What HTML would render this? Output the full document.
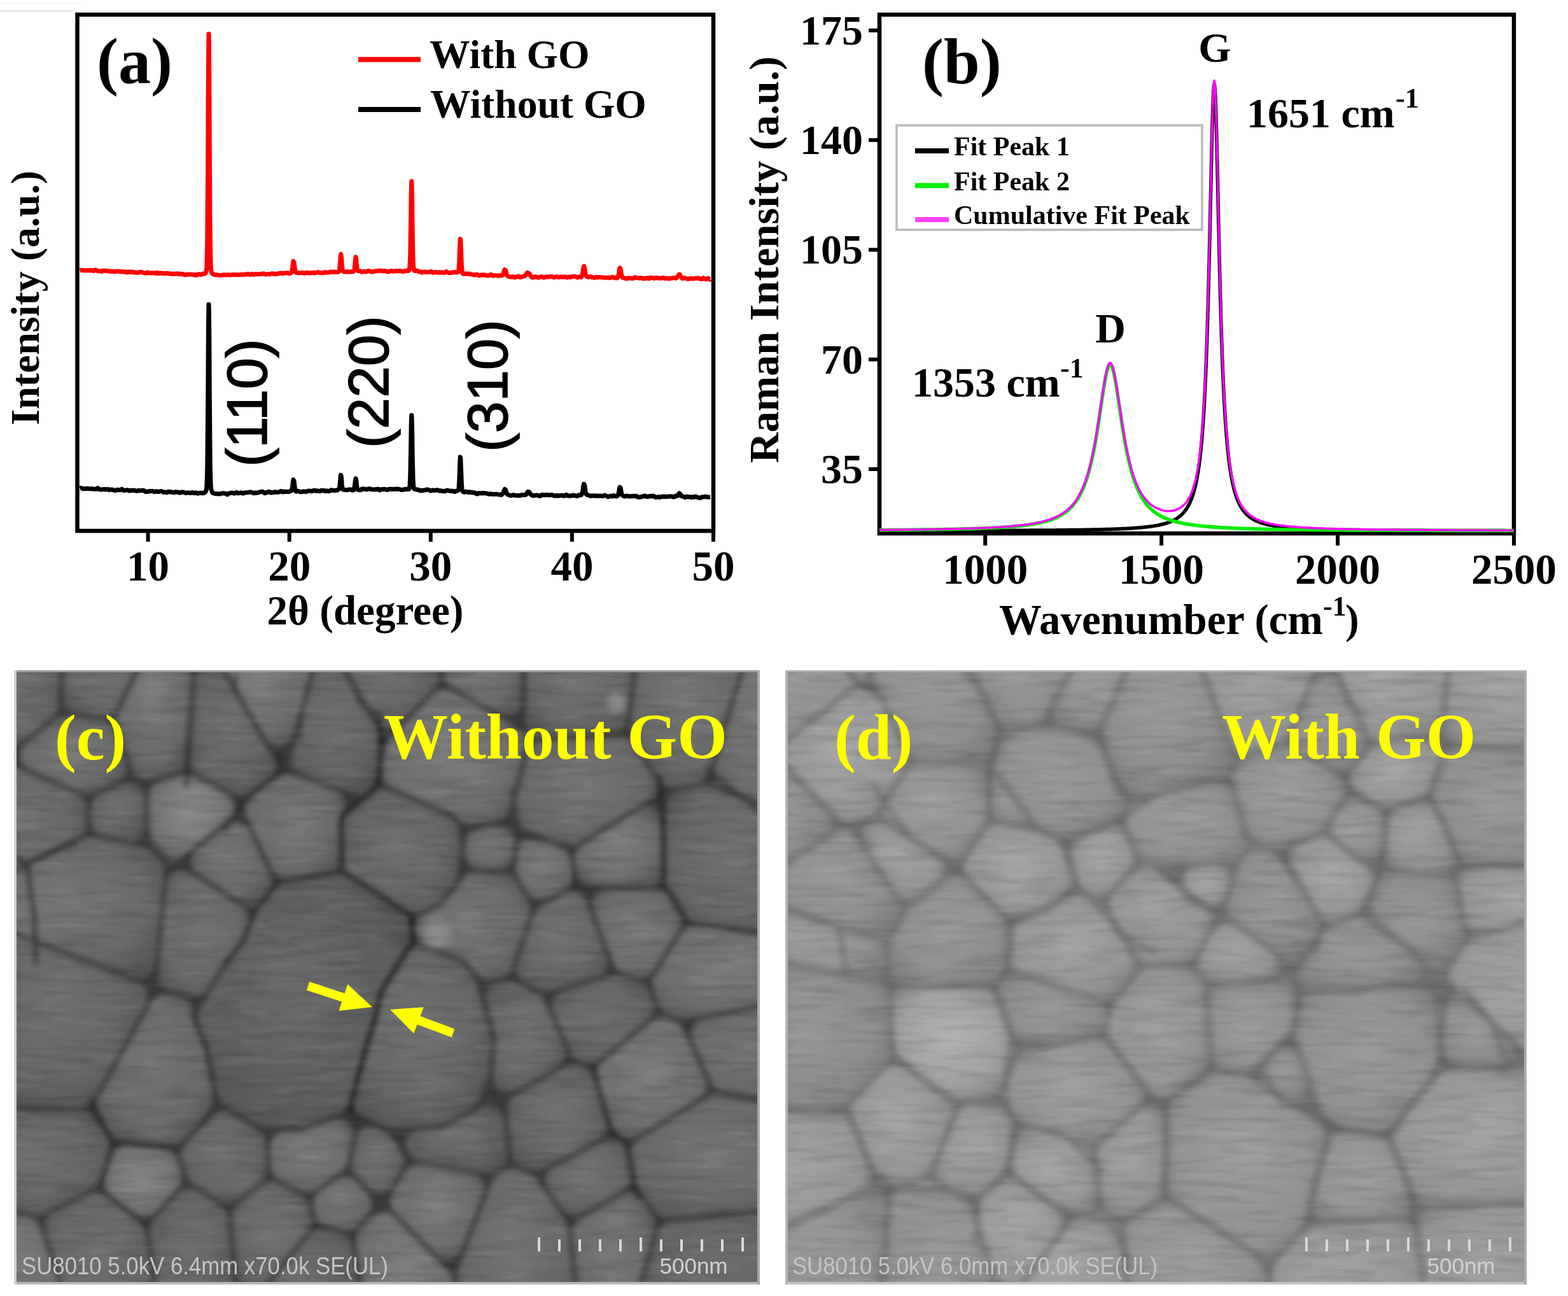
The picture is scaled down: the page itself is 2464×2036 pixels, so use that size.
<!DOCTYPE html><html><head><meta charset="utf-8"><style>html,body{margin:0;padding:0;background:#fff;overflow:hidden;width:2464px;height:2036px}svg{display:block}</style></head><body>
<svg xmlns="http://www.w3.org/2000/svg" width="2464" height="2036" viewBox="0 0 2464 2036">
<rect width="2464" height="2036" fill="#fff"/>
<rect x="0" y="16" width="114" height="3" fill="#e6e6e6"/><rect x="0" y="4" width="130" height="2" fill="#f4f4f4"/>
<g fill="none" stroke-linejoin="round">
<path d="M125.5,424.6 L127.5,424.3 L129.5,424.4 L131.5,424.6 L133.5,425.0 L135.5,424.9 L137.5,424.6 L139.5,424.8 L141.5,425.0 L143.5,424.5 L145.5,424.9 L146.8,425.5 L148.8,424.8 L149.5,424.0 L151.5,424.5 L152.5,425.2 L154.0,425.8 L156.0,425.8 L158.0,426.0 L159.2,426.6 L160.5,425.9 L161.5,425.2 L163.5,425.3 L165.5,425.3 L167.5,425.4 L169.5,425.7 L171.5,426.0 L173.5,426.5 L175.5,426.4 L177.5,426.2 L178.5,426.8 L180.5,426.7 L182.5,426.4 L184.5,426.1 L186.5,426.5 L188.5,426.2 L190.5,426.9 L192.5,426.8 L194.5,427.0 L196.5,427.2 L198.5,427.3 L199.5,427.9 L201.2,427.2 L203.2,426.7 L204.5,427.5 L206.5,427.3 L207.5,426.7 L209.0,427.4 L210.5,428.0 L212.5,427.7 L214.2,428.4 L216.2,428.3 L218.2,428.2 L219.5,427.6 L221.5,427.4 L223.5,427.9 L225.5,428.5 L227.5,428.9 L229.5,429.2 L230.8,428.5 L231.5,427.9 L233.0,428.5 L235.0,428.8 L237.0,428.8 L239.0,429.1 L241.0,428.8 L243.0,428.8 L244.5,429.5 L246.0,428.9 L247.0,428.2 L248.2,429.1 L249.0,429.8 L251.0,429.1 L253.0,429.1 L255.0,429.2 L257.0,429.6 L259.0,429.5 L261.0,429.2 L263.0,429.3 L265.0,429.4 L266.5,430.1 L268.5,430.2 L270.5,430.1 L272.5,430.4 L274.5,430.3 L276.5,430.1 L278.5,429.7 L279.2,430.4 L281.2,430.7 L282.2,429.9 L284.2,430.2 L285.5,431.0 L287.5,430.6 L289.2,431.3 L290.5,432.0 L292.5,431.5 L293.5,430.9 L295.5,431.1 L297.5,431.3 L299.5,431.0 L301.5,431.0 L303.5,431.6 L305.5,432.1 L306.5,431.3 L307.2,432.0 L309.2,432.4 L310.0,431.7 L310.5,431.1 L312.5,430.7 L314.5,430.8 L315.2,431.5 L317.2,431.3 L318.2,430.7 L319.0,430.0 L321.0,430.2 L322.8,429.4 L323.2,428.4 L323.5,427.7 L324.0,426.5 L324.2,425.4 L324.5,423.6 L324.8,420.6 L325.0,415.8 L325.2,408.1 L325.5,396.4 L325.8,379.2 L326.0,355.3 L326.2,324.0 L326.5,285.0 L326.8,239.7 L327.0,190.7 L327.2,142.1 L327.5,99.3 L327.8,68.0 L328.0,53.2 L328.2,57.9 L328.5,80.9 L328.8,118.5 L329.0,164.9 L329.2,214.3 L329.5,261.9 L329.8,304.1 L330.0,339.3 L330.2,366.8 L330.5,387.1 L330.8,401.7 L331.0,411.6 L331.2,418.1 L331.5,422.3 L331.8,424.7 L332.0,426.2 L332.2,427.2 L332.5,427.8 L332.8,428.5 L333.2,429.4 L334.0,430.1 L335.2,430.9 L337.2,431.4 L339.2,431.6 L341.2,431.7 L343.2,432.1 L345.2,432.5 L347.2,432.5 L349.2,431.9 L351.2,431.8 L353.2,431.8 L355.2,432.1 L357.2,431.8 L359.2,431.7 L361.2,432.0 L363.2,431.7 L365.2,431.6 L367.2,431.6 L369.2,431.8 L371.2,431.4 L373.2,431.8 L375.2,431.7 L377.2,431.5 L379.2,431.5 L381.2,431.2 L383.2,431.6 L385.2,431.3 L387.2,430.7 L389.2,430.5 L391.2,430.8 L392.5,431.5 L394.5,431.0 L396.2,430.3 L397.2,431.1 L399.2,431.4 L400.5,430.8 L402.5,430.6 L404.5,430.8 L406.5,430.8 L408.5,430.5 L410.5,430.6 L412.5,430.0 L414.5,429.7 L415.5,430.5 L417.5,431.1 L419.5,430.8 L421.5,430.4 L423.5,431.0 L424.8,430.4 L426.8,429.8 L428.8,429.8 L430.5,430.5 L432.5,430.6 L434.5,430.3 L436.5,430.0 L438.2,429.4 L440.2,429.2 L442.2,428.8 L443.5,429.6 L445.5,429.8 L446.5,429.0 L448.5,429.0 L450.5,428.7 L452.5,428.8 L453.8,429.5 L455.8,429.8 L457.0,429.0 L457.5,428.3 L458.2,427.4 L458.5,426.8 L458.8,425.8 L459.0,424.6 L459.2,423.1 L459.5,421.2 L459.8,419.4 L460.0,417.3 L460.2,415.3 L460.5,413.3 L460.8,411.6 L461.0,410.4 L462.0,412.0 L462.2,413.7 L462.5,415.7 L462.8,417.9 L463.0,420.0 L463.2,421.9 L463.5,423.6 L463.8,424.7 L464.0,425.6 L464.5,426.5 L464.8,427.2 L465.2,428.2 L467.2,428.4 L469.2,428.8 L471.2,428.9 L473.2,428.6 L475.2,428.6 L477.2,428.6 L478.2,429.2 L480.2,429.1 L481.5,428.5 L483.5,428.3 L485.0,428.9 L487.0,428.7 L489.0,428.5 L491.0,428.8 L493.0,428.3 L494.2,429.1 L496.0,428.4 L498.0,428.0 L500.0,427.6 L501.5,428.2 L503.5,428.4 L505.5,428.7 L507.5,428.8 L508.2,428.2 L510.2,427.6 L511.8,428.2 L513.8,428.1 L515.8,428.0 L517.8,427.7 L519.2,427.0 L521.2,427.1 L523.2,427.5 L525.2,427.0 L527.2,427.4 L529.2,427.4 L531.2,427.4 L532.8,426.6 L533.0,425.8 L533.2,424.7 L533.5,423.1 L533.8,421.0 L534.0,418.4 L534.2,415.3 L534.5,411.7 L534.8,408.2 L535.0,404.8 L535.2,401.9 L535.5,400.0 L535.8,399.3 L536.0,400.1 L536.2,402.1 L536.5,404.9 L536.8,408.5 L537.0,412.1 L537.2,415.6 L537.5,418.6 L537.8,420.8 L538.0,422.4 L538.2,423.6 L538.5,424.3 L538.8,425.1 L539.2,426.1 L540.0,426.7 L542.0,427.2 L544.0,427.1 L546.0,426.8 L548.0,427.0 L550.0,427.0 L552.0,426.8 L554.0,426.9 L556.0,426.3 L556.5,425.3 L556.8,424.1 L557.0,422.6 L557.2,420.5 L557.5,418.1 L557.8,415.3 L558.0,412.4 L558.2,409.5 L558.5,406.9 L558.8,404.8 L559.0,403.8 L559.5,405.1 L559.8,407.4 L560.0,410.2 L560.2,413.3 L560.5,416.2 L560.8,418.7 L561.0,420.9 L561.2,422.6 L561.5,423.8 L561.8,424.6 L562.2,425.5 L564.2,425.3 L566.2,426.0 L567.2,426.7 L568.5,427.4 L570.2,426.6 L572.2,426.3 L573.2,427.0 L575.2,427.1 L576.2,426.5 L577.5,425.8 L579.5,425.5 L581.0,426.2 L583.0,426.8 L585.0,426.9 L587.0,426.8 L589.0,426.2 L591.0,425.7 L593.0,425.5 L595.0,425.6 L597.0,425.1 L599.0,425.2 L600.5,425.8 L602.5,425.9 L604.5,425.5 L606.5,426.1 L608.2,426.8 L610.2,426.8 L612.2,426.5 L613.8,425.7 L615.8,425.4 L616.8,426.0 L618.8,426.3 L620.8,425.9 L622.8,425.5 L624.8,425.8 L626.8,425.9 L628.2,425.2 L630.0,425.8 L631.5,426.4 L633.5,426.6 L634.5,426.0 L636.5,426.0 L638.5,425.8 L639.5,425.0 L641.5,425.6 L642.8,424.7 L643.0,424.1 L643.2,423.2 L643.5,421.8 L643.8,419.9 L644.0,417.0 L644.2,412.5 L644.5,405.9 L644.8,396.8 L645.0,384.8 L645.2,370.0 L645.5,352.9 L645.8,334.6 L646.0,316.5 L646.2,300.8 L646.5,289.6 L646.8,284.8 L647.0,287.3 L647.2,296.5 L647.5,310.9 L647.8,328.5 L648.0,347.1 L648.2,364.9 L648.5,380.7 L648.8,393.7 L649.0,403.9 L649.2,411.4 L649.5,416.7 L649.8,420.1 L650.0,422.2 L650.2,423.5 L650.5,424.3 L651.0,425.1 L652.5,425.7 L654.0,425.0 L656.0,425.4 L657.0,426.1 L658.2,426.7 L660.2,426.7 L661.8,427.5 L662.5,428.1 L664.5,427.7 L666.5,427.1 L668.5,427.0 L669.5,427.8 L671.5,427.4 L673.5,427.4 L675.5,427.2 L676.5,426.5 L678.5,427.0 L679.5,427.7 L680.5,428.5 L682.5,427.9 L684.5,427.4 L686.5,428.0 L688.5,428.2 L690.5,427.5 L691.5,428.3 L693.5,427.8 L695.5,428.0 L696.2,428.6 L698.2,428.6 L699.2,427.8 L700.0,427.2 L701.2,426.5 L702.8,427.3 L703.8,428.0 L705.8,428.6 L707.8,428.6 L709.8,428.5 L711.5,427.8 L713.5,427.6 L715.5,427.7 L717.5,428.1 L719.0,427.5 L720.0,426.8 L720.5,425.5 L720.8,424.3 L721.0,422.4 L721.2,419.6 L721.5,415.8 L721.8,410.7 L722.0,404.6 L722.2,397.8 L722.5,390.8 L722.8,384.1 L723.0,378.7 L723.2,375.4 L723.8,376.9 L724.0,381.4 L724.2,387.5 L724.5,394.4 L724.8,401.5 L725.0,408.0 L725.2,413.6 L725.5,418.1 L725.8,421.8 L726.0,424.6 L726.2,426.6 L726.5,428.0 L726.8,428.8 L727.2,429.7 L728.8,430.4 L730.8,430.5 L732.2,429.8 L734.2,430.1 L736.2,430.7 L737.2,429.9 L739.2,430.5 L740.8,431.1 L742.8,431.4 L744.5,432.0 L746.5,431.9 L747.5,431.2 L749.5,431.1 L751.0,431.9 L751.5,432.5 L753.2,433.1 L754.2,432.5 L756.2,431.9 L758.2,431.7 L760.2,432.1 L762.2,432.1 L764.2,432.8 L766.2,433.0 L768.2,433.0 L769.8,432.3 L770.5,431.6 L772.5,431.7 L773.2,432.5 L774.2,433.2 L776.2,433.0 L778.2,432.8 L780.2,432.8 L782.2,433.3 L784.2,433.3 L785.2,432.6 L787.2,433.1 L789.2,432.5 L790.2,431.7 L790.8,430.8 L791.0,430.1 L791.2,429.4 L791.5,428.6 L791.8,427.7 L792.0,426.8 L792.2,425.9 L792.5,425.1 L792.8,424.2 L793.0,423.5 L794.5,424.6 L794.8,425.6 L795.0,426.6 L795.2,427.6 L795.5,428.5 L795.8,429.5 L796.0,430.3 L796.2,431.0 L796.5,431.6 L797.0,432.7 L797.5,433.5 L798.5,434.2 L800.0,434.9 L802.0,434.9 L804.0,434.9 L806.0,434.8 L808.0,435.2 L809.5,436.0 L810.5,435.3 L812.5,434.9 L813.5,434.2 L815.5,434.1 L816.2,434.9 L817.0,435.5 L819.0,435.4 L820.8,434.8 L822.0,434.1 L824.0,433.7 L826.0,432.7 L826.5,431.7 L827.0,430.8 L827.5,429.8 L828.0,429.1 L828.5,428.3 L830.5,429.0 L831.2,429.6 L832.0,430.2 L832.8,431.2 L833.2,432.3 L833.8,433.1 L834.5,433.7 L835.0,434.7 L835.5,435.6 L837.5,436.2 L838.5,435.5 L840.0,434.8 L842.0,434.8 L843.8,435.5 L845.2,436.1 L847.2,435.9 L848.2,435.3 L850.0,434.7 L852.0,434.7 L853.2,435.4 L854.2,436.1 L856.2,435.8 L857.5,435.1 L859.5,434.8 L861.5,435.1 L863.5,434.5 L865.5,434.4 L867.5,434.5 L868.8,435.1 L870.0,435.8 L872.0,435.6 L873.2,434.9 L875.2,434.8 L876.5,435.4 L878.5,435.6 L880.5,435.0 L882.5,434.9 L884.5,435.2 L886.5,435.1 L888.5,434.8 L890.5,435.4 L891.2,436.0 L893.0,435.3 L895.0,435.1 L896.5,435.7 L897.2,435.1 L898.8,434.5 L900.8,434.5 L902.8,434.3 L904.8,434.7 L906.0,435.4 L907.5,436.1 L908.5,435.3 L910.0,434.7 L912.0,435.0 L913.2,435.6 L914.0,434.9 L914.5,433.6 L914.8,432.9 L915.0,432.0 L915.2,430.9 L915.5,429.7 L915.8,428.1 L916.0,426.3 L916.2,424.5 L916.5,422.6 L916.8,421.1 L917.0,419.8 L917.2,418.9 L917.8,418.2 L918.2,419.5 L918.5,420.8 L918.8,422.2 L919.0,423.8 L919.2,425.5 L919.5,427.2 L919.8,428.6 L920.0,429.9 L920.2,431.0 L920.5,431.9 L920.8,432.5 L921.2,433.1 L922.0,434.1 L922.8,434.8 L924.0,435.5 L926.0,434.9 L927.2,434.3 L929.0,435.0 L929.8,435.7 L931.8,435.6 L933.5,436.2 L935.5,436.0 L936.5,435.2 L938.5,435.8 L940.5,435.5 L942.5,435.4 L944.5,435.6 L946.5,435.9 L948.5,436.0 L950.5,436.2 L952.5,436.3 L954.5,436.2 L956.5,435.9 L958.0,436.6 L960.0,436.0 L961.5,435.4 L963.5,435.8 L965.5,436.2 L967.5,436.8 L969.5,436.9 L970.8,436.0 L971.2,434.8 L971.5,434.0 L971.8,433.1 L972.0,432.1 L972.2,430.8 L972.5,429.4 L972.8,427.8 L973.0,426.0 L973.2,424.3 L973.5,422.7 L973.8,421.6 L974.0,420.9 L975.0,421.8 L975.2,422.9 L975.5,424.3 L975.8,426.0 L976.0,427.7 L976.2,429.4 L976.5,430.9 L976.8,432.3 L977.0,433.4 L977.2,434.4 L977.5,435.2 L978.0,436.0 L980.0,436.4 L982.0,437.1 L984.0,437.6 L986.0,437.6 L987.2,436.8 L989.2,437.1 L991.2,436.9 L993.2,437.4 L995.2,437.3 L996.2,436.5 L997.2,435.7 L999.2,436.3 L1001.2,436.6 L1003.2,436.9 L1005.2,436.7 L1007.2,436.6 L1009.2,437.1 L1010.5,437.7 L1012.5,437.3 L1014.5,437.4 L1016.5,436.7 L1018.5,437.3 L1020.5,437.7 L1021.0,437.0 L1021.5,436.3 L1023.5,436.1 L1025.5,436.4 L1027.5,437.2 L1029.5,437.1 L1031.0,436.3 L1033.0,436.6 L1035.0,437.2 L1037.0,437.1 L1039.0,436.7 L1041.0,436.9 L1042.5,436.2 L1043.2,436.9 L1045.2,437.4 L1047.2,437.1 L1049.2,437.2 L1050.8,437.8 L1052.8,437.6 L1054.5,437.0 L1056.5,437.0 L1058.5,436.6 L1060.5,436.5 L1062.2,437.1 L1063.2,436.3 L1064.0,435.6 L1064.8,434.6 L1065.2,433.8 L1065.8,433.0 L1066.2,432.3 L1066.8,431.7 L1067.5,431.0 L1068.5,431.6 L1069.0,432.5 L1069.5,433.6 L1070.0,434.5 L1070.5,435.3 L1071.0,436.0 L1071.5,436.6 L1072.2,437.4 L1074.2,437.1 L1075.5,436.4 L1077.5,437.2 L1079.2,437.8 L1081.2,438.3 L1083.2,438.1 L1084.5,437.4 L1086.5,437.4 L1088.5,437.9 L1090.5,437.6 L1092.5,437.3 L1094.5,437.1 L1096.5,437.1 L1098.5,437.3 L1099.5,438.0 L1101.5,438.4 L1103.5,438.3 L1104.8,437.6 L1105.5,436.8 L1106.5,437.6 L1108.0,438.3 L1110.0,438.6 L1111.5,437.9 L1112.5,437.2 L1113.2,437.8 L1114.2,438.5 L1115.5,439.2 L1116.2,438.6" stroke="#ff0000" stroke-width="7"/>
<path d="M125.5,767.1 L127.2,766.4 L128.5,767.0 L129.8,767.7 L131.8,767.9 L133.8,767.7 L135.8,767.7 L137.8,767.3 L139.8,767.8 L141.8,767.9 L143.8,767.6 L145.8,768.2 L147.8,768.3 L149.8,768.4 L151.8,768.5 L152.8,767.6 L153.5,766.7 L154.2,767.4 L155.2,768.1 L156.0,768.7 L158.0,769.2 L160.0,768.9 L162.0,768.8 L164.0,768.5 L165.2,769.1 L167.2,769.0 L168.2,768.4 L170.2,769.0 L171.5,769.8 L172.2,769.1 L174.2,769.3 L176.2,769.3 L178.2,769.7 L180.0,770.4 L182.0,770.5 L183.0,769.8 L185.0,769.5 L187.0,769.7 L189.0,769.8 L190.8,769.0 L191.5,768.3 L192.5,769.0 L193.8,770.0 L194.2,770.6 L196.2,770.4 L198.2,770.1 L200.2,769.7 L201.8,770.4 L203.0,771.0 L205.0,770.5 L207.0,770.6 L209.0,770.5 L211.0,770.3 L212.5,770.9 L214.5,771.4 L216.5,771.3 L217.5,770.5 L219.5,770.7 L221.5,770.8 L223.5,770.5 L225.5,770.4 L226.8,771.1 L227.5,771.8 L229.0,772.5 L231.0,772.5 L233.0,772.0 L235.0,771.8 L237.0,771.4 L239.0,771.5 L241.0,772.0 L243.0,772.7 L244.8,772.1 L246.8,772.0 L248.2,772.6 L250.2,772.3 L252.2,771.7 L254.2,771.8 L255.5,772.5 L256.5,773.2 L258.5,773.0 L260.5,773.5 L262.5,773.7 L263.2,772.9 L265.2,772.4 L267.2,773.0 L269.2,772.8 L271.2,773.4 L273.2,773.9 L274.5,773.1 L276.5,772.8 L278.5,773.0 L280.5,773.5 L282.5,774.2 L284.5,773.4 L286.5,773.0 L288.5,773.3 L290.5,774.0 L292.5,774.5 L294.5,774.1 L296.5,774.0 L298.5,774.4 L300.5,774.2 L302.2,773.5 L303.2,774.1 L305.2,774.7 L306.5,774.1 L308.5,774.2 L309.2,774.8 L311.2,775.2 L313.0,774.5 L315.0,774.2 L316.5,774.8 L318.5,774.2 L320.2,774.8 L321.2,774.1 L322.0,773.5 L322.8,772.7 L323.2,771.8 L323.8,771.0 L324.2,769.6 L324.5,768.2 L324.8,765.6 L325.0,761.5 L325.2,755.3 L325.5,745.8 L325.8,732.6 L326.0,714.1 L326.2,689.7 L326.5,659.4 L326.8,623.8 L327.0,585.4 L327.2,547.3 L327.5,513.7 L327.8,489.5 L328.0,478.3 L328.2,482.2 L328.5,500.6 L328.8,530.0 L329.0,566.2 L329.2,604.8 L329.5,642.1 L329.8,675.2 L330.0,702.9 L330.2,724.5 L330.5,740.4 L330.8,751.5 L331.0,758.8 L331.2,763.4 L331.5,766.3 L331.8,768.2 L332.0,769.4 L332.2,770.1 L332.8,771.4 L333.0,772.0 L333.5,773.0 L334.0,773.8 L334.5,774.5 L335.5,775.1 L337.5,775.3 L339.5,775.8 L341.5,775.6 L343.5,775.9 L345.5,776.0 L347.2,775.2 L349.2,775.1 L351.2,775.0 L353.2,774.9 L355.0,775.6 L356.0,776.3 L357.0,777.0 L358.2,776.4 L359.2,775.7 L360.0,775.0 L362.0,774.4 L364.0,774.1 L366.0,774.5 L367.2,775.1 L369.2,775.1 L370.8,774.3 L371.5,773.6 L373.2,774.2 L374.5,774.9 L376.5,774.5 L378.5,773.9 L380.5,774.5 L382.2,775.2 L383.2,774.5 L384.8,773.9 L386.8,774.0 L388.8,773.8 L390.8,773.6 L392.8,773.1 L394.8,773.2 L396.5,773.8 L397.5,774.5 L399.5,774.7 L401.2,774.0 L403.2,774.4 L405.2,773.9 L407.2,773.5 L408.5,772.9 L410.5,772.6 L412.5,772.3 L413.5,773.1 L414.8,773.8 L415.5,774.7 L417.5,774.6 L418.2,773.9 L420.2,773.3 L421.2,772.6 L423.2,772.5 L424.0,773.2 L424.8,773.9 L426.8,773.9 L427.5,773.3 L429.5,773.8 L431.5,773.3 L432.2,772.7 L434.2,773.2 L436.2,773.2 L438.2,773.0 L439.5,772.4 L440.5,771.8 L442.5,771.8 L443.2,772.7 L445.2,772.9 L446.5,772.2 L448.5,772.4 L450.5,772.5 L452.5,772.6 L454.5,772.4 L455.5,771.7 L457.5,771.1 L458.5,770.0 L458.8,769.2 L459.0,768.2 L459.2,766.8 L459.5,765.2 L459.8,763.1 L460.0,760.9 L460.2,758.6 L460.5,756.4 L460.8,754.8 L461.0,753.6 L462.0,755.4 L462.2,757.3 L462.5,759.4 L462.8,761.6 L463.0,763.7 L463.2,765.6 L463.5,767.3 L463.8,768.7 L464.0,769.9 L464.2,770.8 L464.5,771.6 L465.2,772.2 L467.0,771.5 L469.0,771.5 L470.2,772.4 L472.2,772.7 L474.2,772.7 L476.2,772.1 L478.2,772.1 L480.2,772.7 L482.2,772.1 L483.2,771.4 L485.2,771.1 L487.2,771.2 L489.2,771.7 L491.2,771.6 L492.2,770.8 L493.8,770.2 L495.8,770.7 L496.5,771.4 L498.5,770.8 L500.5,771.6 L502.5,771.7 L503.5,770.9 L505.5,770.5 L507.5,770.7 L509.5,770.5 L510.2,771.2 L511.5,771.8 L513.2,771.1 L515.2,771.2 L516.5,771.8 L518.2,771.2 L519.2,770.4 L520.5,769.8 L522.5,770.2 L524.5,770.7 L526.5,770.6 L528.5,770.2 L530.5,770.0 L531.2,769.3 L532.5,768.5 L533.0,767.8 L533.2,767.0 L533.5,765.9 L533.8,764.2 L534.0,762.0 L534.2,759.3 L534.5,756.3 L534.8,753.3 L535.0,750.3 L535.2,747.8 L535.5,746.2 L536.2,748.1 L536.5,750.7 L536.8,753.9 L537.0,757.2 L537.2,760.3 L537.5,763.0 L537.8,765.1 L538.0,766.6 L538.2,767.7 L538.5,768.5 L539.0,769.2 L541.0,769.4 L543.0,769.8 L545.0,769.7 L547.0,769.6 L548.5,768.9 L550.5,769.0 L552.5,769.4 L553.2,770.2 L555.2,770.1 L556.0,769.2 L556.2,768.5 L556.5,767.7 L556.8,766.8 L557.0,765.7 L557.2,764.2 L557.5,762.4 L557.8,760.3 L558.0,758.1 L558.2,755.9 L558.5,754.0 L558.8,752.5 L559.0,751.8 L559.5,753.1 L559.8,755.0 L560.0,757.4 L560.2,759.8 L560.5,762.2 L560.8,764.2 L561.0,765.8 L561.2,767.1 L561.5,768.1 L561.8,768.7 L562.2,769.3 L564.2,769.2 L565.2,770.0 L567.2,769.8 L568.0,769.0 L568.5,768.2 L570.5,768.0 L572.5,768.3 L574.5,768.4 L575.2,769.1 L577.2,768.8 L578.2,768.2 L580.2,767.8 L582.2,768.3 L584.2,768.9 L586.2,768.9 L588.2,769.0 L590.2,768.7 L592.2,768.9 L593.5,768.3 L595.5,768.7 L596.0,769.4 L596.5,770.1 L597.5,769.4 L599.2,768.7 L601.2,768.7 L603.2,768.6 L605.2,768.6 L607.2,769.2 L609.2,769.4 L610.8,768.8 L612.0,768.2 L614.0,768.3 L616.0,768.7 L618.0,768.5 L620.0,768.5 L622.0,768.5 L624.0,768.0 L625.5,768.6 L627.5,768.5 L628.8,769.1 L630.8,769.6 L632.8,769.5 L634.8,769.0 L636.8,768.5 L638.8,768.8 L640.5,768.1 L642.5,768.4 L643.2,767.4 L643.5,766.5 L643.8,764.7 L644.0,762.0 L644.2,758.0 L644.5,752.4 L644.8,744.6 L645.0,734.6 L645.2,722.2 L645.5,708.0 L645.8,692.9 L646.0,678.1 L646.2,665.3 L646.5,656.1 L646.8,652.2 L647.0,654.3 L647.2,661.9 L647.5,673.9 L647.8,688.3 L648.0,703.4 L648.2,718.0 L648.5,730.9 L648.8,741.6 L649.0,750.0 L649.2,756.3 L649.5,760.6 L649.8,763.6 L650.0,765.5 L650.2,766.7 L650.5,767.5 L651.0,768.3 L653.0,768.6 L655.0,769.2 L657.0,769.3 L658.8,770.0 L659.5,770.8 L661.5,770.7 L663.5,770.3 L665.5,770.5 L667.5,769.9 L669.5,769.7 L670.5,769.1 L672.5,769.3 L674.5,769.8 L675.8,770.5 L676.5,771.1 L678.5,770.6 L679.8,770.0 L681.8,770.4 L683.8,770.2 L685.8,769.9 L687.8,769.7 L689.0,770.4 L690.2,771.0 L692.2,770.8 L694.2,771.6 L696.2,771.6 L698.2,771.8 L700.2,771.5 L701.2,770.6 L703.2,770.3 L705.2,770.8 L707.2,771.2 L709.2,771.7 L711.2,771.3 L713.0,771.9 L714.5,772.6 L716.0,771.9 L717.0,771.2 L719.0,771.0 L720.2,770.3 L720.5,769.4 L720.8,767.9 L721.0,765.8 L721.2,762.7 L721.5,758.6 L721.8,753.5 L722.0,747.3 L722.2,740.4 L722.5,733.3 L722.8,726.6 L723.0,721.2 L723.2,718.0 L723.8,719.8 L724.0,724.6 L724.2,731.0 L724.5,738.2 L724.8,745.1 L725.0,751.6 L725.2,757.1 L725.5,761.5 L725.8,765.0 L726.0,767.6 L726.2,769.4 L726.5,770.7 L726.8,771.4 L727.2,772.0 L728.0,772.8 L730.0,773.2 L731.2,772.6 L733.2,772.5 L734.5,773.1 L736.5,773.5 L737.5,772.8 L739.2,773.5 L741.2,773.5 L743.2,774.0 L745.2,774.0 L747.2,774.4 L748.0,775.0 L748.5,775.7 L750.5,776.0 L751.2,775.3 L752.2,774.6 L754.2,774.8 L756.2,774.8 L758.2,775.0 L759.5,774.4 L761.5,774.8 L763.5,775.0 L765.5,775.2 L766.5,775.9 L768.5,776.3 L770.2,775.7 L772.2,776.3 L774.2,776.3 L776.2,776.6 L778.2,776.3 L780.2,776.2 L782.2,776.7 L784.2,776.9 L786.2,776.9 L787.5,777.6 L789.0,776.7 L789.5,776.0 L790.2,775.2 L790.8,774.4 L791.2,773.5 L791.8,772.1 L792.0,771.3 L792.2,770.6 L792.5,770.0 L792.8,769.3 L793.2,768.5 L794.5,769.5 L794.8,770.4 L795.0,771.2 L795.2,772.1 L795.5,772.9 L795.8,773.7 L796.0,774.4 L796.5,775.5 L797.0,776.2 L798.0,776.9 L800.0,777.7 L801.5,778.3 L803.5,778.4 L805.5,777.9 L807.5,777.4 L808.2,778.1 L810.2,778.3 L812.2,778.4 L814.2,778.4 L816.2,778.6 L818.2,778.3 L819.5,777.7 L821.5,777.4 L823.5,777.8 L825.5,777.6 L826.8,776.9 L827.2,776.1 L827.8,775.2 L828.2,774.4 L828.8,773.5 L829.2,772.6 L831.2,772.8 L831.8,773.4 L832.2,774.1 L832.8,774.9 L833.2,775.9 L834.0,776.6 L835.0,777.3 L835.8,778.0 L836.8,778.6 L838.8,778.7 L840.8,778.2 L842.8,777.9 L844.8,778.1 L846.8,778.7 L848.2,779.4 L849.5,778.8 L850.8,778.1 L851.5,777.3 L853.5,777.4 L855.5,777.7 L857.5,777.8 L859.5,777.2 L861.5,777.7 L863.5,777.9 L865.5,777.4 L867.5,777.3 L868.5,777.9 L870.5,778.7 L872.5,779.2 L873.5,778.5 L875.5,778.3 L876.2,778.9 L878.2,779.0 L880.2,778.4 L882.2,778.1 L884.2,778.5 L886.0,779.1 L888.0,778.7 L888.8,777.9 L889.5,777.2 L891.5,777.8 L892.0,778.5 L892.5,779.1 L894.5,779.0 L896.5,779.0 L898.5,778.8 L899.5,778.1 L901.5,778.1 L903.5,778.6 L905.5,779.2 L907.5,779.2 L908.2,778.4 L909.2,777.7 L911.2,777.9 L913.2,777.7 L914.0,776.9 L914.5,775.8 L915.0,774.6 L915.2,773.8 L915.5,772.7 L915.8,771.2 L916.0,769.5 L916.2,767.7 L916.5,765.9 L916.8,764.2 L917.0,762.6 L917.2,761.3 L917.5,760.4 L918.5,762.0 L918.8,763.4 L919.0,765.0 L919.2,766.7 L919.5,768.4 L919.8,770.2 L920.0,771.8 L920.2,773.3 L920.5,774.5 L920.8,775.3 L921.0,775.9 L921.5,776.7 L922.0,777.3 L924.0,777.6 L925.8,778.2 L927.0,778.9 L929.0,779.3 L930.5,778.6 L932.5,778.9 L934.5,778.7 L936.5,778.9 L938.5,779.3 L940.5,779.1 L942.5,778.9 L944.5,779.0 L946.5,779.4 L948.5,778.7 L950.5,777.9 L951.5,778.6 L953.5,779.4 L954.5,780.2 L956.5,780.4 L957.2,779.8 L959.0,779.2 L961.0,779.2 L962.2,779.8 L963.8,779.0 L964.5,778.4 L966.5,779.2 L968.5,779.8 L970.5,779.0 L971.0,778.3 L971.5,777.2 L971.8,776.3 L972.0,775.3 L972.2,774.2 L972.5,772.8 L972.8,771.4 L973.0,769.9 L973.2,768.4 L973.5,767.1 L973.8,766.0 L974.0,765.3 L975.0,766.1 L975.2,767.1 L975.5,768.4 L975.8,770.0 L976.0,771.6 L976.2,773.1 L976.5,774.6 L976.8,775.5 L977.0,776.3 L977.2,777.0 L977.8,777.9 L978.8,778.6 L980.2,779.3 L981.2,780.0 L983.2,779.6 L984.5,779.0 L986.5,779.2 L988.2,779.8 L990.2,779.7 L992.2,779.5 L994.2,779.3 L996.2,779.4 L998.2,779.3 L1000.2,779.2 L1001.0,780.0 L1001.5,780.7 L1003.5,781.0 L1005.5,781.3 L1007.2,780.6 L1009.2,780.1 L1011.2,779.4 L1013.2,778.9 L1015.2,779.6 L1016.5,780.3 L1018.5,780.3 L1020.2,779.6 L1022.2,779.5 L1024.2,779.7 L1025.2,779.1 L1027.2,779.2 L1028.0,779.9 L1028.8,780.6 L1030.2,781.2 L1032.2,781.0 L1034.2,780.6 L1036.2,781.3 L1038.2,780.8 L1039.5,780.2 L1041.5,780.3 L1043.5,779.7 L1045.0,780.4 L1047.0,780.4 L1049.0,780.1 L1051.0,780.1 L1053.0,779.6 L1055.0,780.0 L1057.0,780.1 L1058.2,780.9 L1060.2,780.6 L1061.0,779.8 L1061.8,779.1 L1063.8,779.2 L1065.2,778.4 L1065.8,777.6 L1066.2,776.6 L1066.8,775.8 L1067.5,775.0 L1069.0,776.1 L1069.5,777.1 L1070.0,778.0 L1070.5,778.8 L1071.5,779.4 L1072.2,780.1 L1074.2,780.1 L1076.0,780.7 L1076.5,781.4 L1078.2,780.6 L1079.5,780.0 L1081.2,780.8 L1083.2,780.6 L1085.2,780.7 L1086.5,781.4 L1087.2,780.7 L1089.2,780.7 L1090.5,781.3 L1091.2,780.6 L1092.8,780.0 L1094.8,780.4 L1095.5,781.2 L1097.5,781.6 L1099.5,782.3 L1101.5,782.0 L1102.2,781.2 L1104.2,780.8 L1106.2,780.8 L1108.2,780.1 L1110.2,780.5 L1112.0,781.1 L1114.0,781.0 L1116.0,780.8" stroke="#000000" stroke-width="7"/>
</g>
<rect x="121.5" y="23" width="999.5" height="811" fill="none" stroke="#000" stroke-width="6.5"/>
<line x1="232.6" y1="834" x2="232.6" y2="851" stroke="#000" stroke-width="6"/>
<text x="232.6" y="912" font-family="'Liberation Serif','Times New Roman',serif" font-weight="bold" font-size="67" text-anchor="middle">10</text>
<line x1="454.7" y1="834" x2="454.7" y2="851" stroke="#000" stroke-width="6"/>
<text x="454.7" y="912" font-family="'Liberation Serif','Times New Roman',serif" font-weight="bold" font-size="67" text-anchor="middle">20</text>
<line x1="676.8" y1="834" x2="676.8" y2="851" stroke="#000" stroke-width="6"/>
<text x="676.8" y="912" font-family="'Liberation Serif','Times New Roman',serif" font-weight="bold" font-size="67" text-anchor="middle">30</text>
<line x1="898.9" y1="834" x2="898.9" y2="851" stroke="#000" stroke-width="6"/>
<text x="898.9" y="912" font-family="'Liberation Serif','Times New Roman',serif" font-weight="bold" font-size="67" text-anchor="middle">40</text>
<line x1="1121.0" y1="834" x2="1121.0" y2="851" stroke="#000" stroke-width="6"/>
<text x="1121.0" y="912" font-family="'Liberation Serif','Times New Roman',serif" font-weight="bold" font-size="67" text-anchor="middle">50</text>
<text x="574" y="981" font-family="'Liberation Serif','Times New Roman',serif" font-weight="bold" font-size="65" text-anchor="middle">2θ (degree)</text>
<text transform="translate(61,468) rotate(-90)" font-family="'Liberation Serif','Times New Roman',serif" font-weight="bold" font-size="64" text-anchor="middle">Intensity (a.u.)</text>
<text x="152" y="130" font-family="'Liberation Serif','Times New Roman',serif" font-weight="bold" font-size="102">(a)</text>
<line x1="563" y1="93.5" x2="661" y2="93.5" stroke="#ff0000" stroke-width="8"/>
<line x1="563" y1="172" x2="661" y2="172" stroke="#000" stroke-width="8"/>
<text x="675" y="107" font-family="'Liberation Serif','Times New Roman',serif" font-weight="bold" font-size="63.6">With GO</text>
<text x="676" y="185" font-family="'Liberation Serif','Times New Roman',serif" font-weight="bold" font-size="63.6">Without GO</text>
<text transform="translate(419,633) rotate(-90)" font-family="'Liberation Sans',Arial,sans-serif" font-size="89" stroke="#000" stroke-width="1.6" text-anchor="middle">(110)</text>
<text transform="translate(610,600) rotate(-90)" font-family="'Liberation Sans',Arial,sans-serif" font-size="89" stroke="#000" stroke-width="1.6" text-anchor="middle">(220)</text>
<text transform="translate(797,606) rotate(-90)" font-family="'Liberation Sans',Arial,sans-serif" font-size="89" stroke="#000" stroke-width="1.6" text-anchor="middle">(310)</text>
<rect x="1382" y="23" width="997" height="815" fill="none" stroke="#000" stroke-width="6.5"/>
<g fill="none" stroke-linejoin="round">
<path d="M1382.0,833.7 L1383.1,833.7 L1384.2,833.7 L1385.3,833.7 L1386.4,833.7 L1387.5,833.7 L1388.6,833.7 L1389.8,833.7 L1390.9,833.7 L1392.0,833.7 L1393.1,833.7 L1394.2,833.7 L1395.3,833.7 L1396.4,833.7 L1397.5,833.7 L1398.6,833.7 L1399.7,833.7 L1400.8,833.7 L1401.9,833.7 L1403.0,833.7 L1404.2,833.7 L1405.3,833.7 L1406.4,833.7 L1407.5,833.7 L1408.6,833.7 L1409.7,833.7 L1410.8,833.7 L1411.9,833.7 L1413.0,833.7 L1414.1,833.7 L1415.2,833.7 L1416.3,833.7 L1417.4,833.7 L1418.6,833.7 L1419.7,833.7 L1420.8,833.7 L1421.9,833.7 L1423.0,833.7 L1424.1,833.7 L1425.2,833.7 L1426.3,833.7 L1427.4,833.7 L1428.5,833.7 L1429.6,833.7 L1430.7,833.7 L1431.8,833.7 L1433.0,833.7 L1434.1,833.7 L1435.2,833.7 L1436.3,833.7 L1437.4,833.7 L1438.5,833.7 L1439.6,833.7 L1440.7,833.7 L1441.8,833.7 L1442.9,833.7 L1444.0,833.7 L1445.1,833.7 L1446.3,833.7 L1447.4,833.7 L1448.5,833.7 L1449.6,833.7 L1450.7,833.7 L1451.8,833.6 L1452.9,833.6 L1454.0,833.6 L1455.1,833.6 L1456.2,833.6 L1457.3,833.6 L1458.4,833.6 L1459.5,833.6 L1460.7,833.6 L1461.8,833.6 L1462.9,833.6 L1464.0,833.6 L1465.1,833.6 L1466.2,833.6 L1467.3,833.6 L1468.4,833.6 L1469.5,833.6 L1470.6,833.6 L1471.7,833.6 L1472.8,833.6 L1473.9,833.6 L1475.1,833.6 L1476.2,833.6 L1477.3,833.6 L1478.4,833.6 L1479.5,833.6 L1480.6,833.6 L1481.7,833.6 L1482.8,833.6 L1483.9,833.6 L1485.0,833.6 L1486.1,833.6 L1487.2,833.6 L1488.3,833.6 L1489.5,833.6 L1490.6,833.6 L1491.7,833.6 L1492.8,833.6 L1493.9,833.6 L1495.0,833.6 L1496.1,833.6 L1497.2,833.6 L1498.3,833.6 L1499.4,833.6 L1500.5,833.6 L1501.6,833.6 L1502.7,833.6 L1503.9,833.6 L1505.0,833.6 L1506.1,833.6 L1507.2,833.5 L1508.3,833.5 L1509.4,833.5 L1510.5,833.5 L1511.6,833.5 L1512.7,833.5 L1513.8,833.5 L1514.9,833.5 L1516.0,833.5 L1517.1,833.5 L1518.3,833.5 L1519.4,833.5 L1520.5,833.5 L1521.6,833.5 L1522.7,833.5 L1523.8,833.5 L1524.9,833.5 L1526.0,833.5 L1527.1,833.5 L1528.2,833.5 L1529.3,833.5 L1530.4,833.5 L1531.5,833.5 L1532.7,833.5 L1533.8,833.5 L1534.9,833.5 L1536.0,833.5 L1537.1,833.5 L1538.2,833.5 L1539.3,833.5 L1540.4,833.5 L1541.5,833.5 L1542.6,833.5 L1543.7,833.5 L1544.8,833.5 L1546.0,833.5 L1547.1,833.4 L1548.2,833.4 L1549.3,833.4 L1550.4,833.4 L1551.5,833.4 L1552.6,833.4 L1553.7,833.4 L1554.8,833.4 L1555.9,833.4 L1557.0,833.4 L1558.1,833.4 L1559.2,833.4 L1560.4,833.4 L1561.5,833.4 L1562.6,833.4 L1563.7,833.4 L1564.8,833.4 L1565.9,833.4 L1567.0,833.4 L1568.1,833.4 L1569.2,833.4 L1570.3,833.4 L1571.4,833.4 L1572.5,833.4 L1573.6,833.4 L1574.8,833.4 L1575.9,833.4 L1577.0,833.3 L1578.1,833.3 L1579.2,833.3 L1580.3,833.3 L1581.4,833.3 L1582.5,833.3 L1583.6,833.3 L1584.7,833.3 L1585.8,833.3 L1586.9,833.3 L1588.0,833.3 L1589.2,833.3 L1590.3,833.3 L1591.4,833.3 L1592.5,833.3 L1593.6,833.3 L1594.7,833.3 L1595.8,833.3 L1596.9,833.3 L1598.0,833.3 L1599.1,833.3 L1600.2,833.2 L1601.3,833.2 L1602.4,833.2 L1603.6,833.2 L1604.7,833.2 L1605.8,833.2 L1606.9,833.2 L1608.0,833.2 L1609.1,833.2 L1610.2,833.2 L1611.3,833.2 L1612.4,833.2 L1613.5,833.2 L1614.6,833.2 L1615.7,833.2 L1616.8,833.2 L1618.0,833.2 L1619.1,833.1 L1620.2,833.1 L1621.3,833.1 L1622.4,833.1 L1623.5,833.1 L1624.6,833.1 L1625.7,833.1 L1626.8,833.1 L1627.9,833.1 L1629.0,833.1 L1630.1,833.1 L1631.2,833.1 L1632.4,833.1 L1633.5,833.1 L1634.6,833.1 L1635.7,833.0 L1636.8,833.0 L1637.9,833.0 L1639.0,833.0 L1640.1,833.0 L1641.2,833.0 L1642.3,833.0 L1643.4,833.0 L1644.5,833.0 L1645.7,833.0 L1646.8,833.0 L1647.9,833.0 L1649.0,832.9 L1650.1,832.9 L1651.2,832.9 L1652.3,832.9 L1653.4,832.9 L1654.5,832.9 L1655.6,832.9 L1656.7,832.9 L1657.8,832.9 L1658.9,832.9 L1660.1,832.9 L1661.2,832.8 L1662.3,832.8 L1663.4,832.8 L1664.5,832.8 L1665.6,832.8 L1666.7,832.8 L1667.8,832.8 L1668.9,832.8 L1670.0,832.8 L1671.1,832.7 L1672.2,832.7 L1673.3,832.7 L1674.5,832.7 L1675.6,832.7 L1676.7,832.7 L1677.8,832.7 L1678.9,832.7 L1680.0,832.6 L1681.1,832.6 L1682.2,832.6 L1683.3,832.6 L1684.4,832.6 L1685.5,832.6 L1686.6,832.6 L1687.7,832.6 L1688.9,832.5 L1690.0,832.5 L1691.1,832.5 L1692.2,832.5 L1693.3,832.5 L1694.4,832.5 L1695.5,832.4 L1696.6,832.4 L1697.7,832.4 L1698.8,832.4 L1699.9,832.4 L1701.0,832.4 L1702.1,832.3 L1703.3,832.3 L1704.4,832.3 L1705.5,832.3 L1706.6,832.3 L1707.7,832.3 L1708.8,832.2 L1709.9,832.2 L1711.0,832.2 L1712.1,832.2 L1713.2,832.2 L1714.3,832.1 L1715.4,832.1 L1716.5,832.1 L1717.7,832.1 L1718.8,832.0 L1719.9,832.0 L1721.0,832.0 L1722.1,832.0 L1723.2,832.0 L1724.3,831.9 L1725.4,831.9 L1726.5,831.9 L1727.6,831.9 L1728.7,831.8 L1729.8,831.8 L1731.0,831.8 L1732.1,831.7 L1733.2,831.7 L1734.3,831.7 L1735.4,831.7 L1736.5,831.6 L1737.6,831.6 L1738.7,831.6 L1739.8,831.5 L1740.9,831.5 L1742.0,831.5 L1743.1,831.4 L1744.2,831.4 L1745.4,831.4 L1746.5,831.3 L1747.6,831.3 L1748.7,831.3 L1749.8,831.2 L1750.9,831.2 L1752.0,831.1 L1753.1,831.1 L1754.2,831.1 L1755.3,831.0 L1756.4,831.0 L1757.5,830.9 L1758.6,830.9 L1759.8,830.8 L1760.9,830.8 L1762.0,830.7 L1763.1,830.7 L1764.2,830.6 L1765.3,830.6 L1766.4,830.5 L1767.5,830.5 L1768.6,830.4 L1769.7,830.4 L1770.8,830.3 L1771.9,830.2 L1773.0,830.2 L1774.2,830.1 L1775.3,830.1 L1776.4,830.0 L1777.5,829.9 L1778.6,829.9 L1779.7,829.8 L1780.8,829.7 L1781.9,829.6 L1783.0,829.6 L1784.1,829.5 L1785.2,829.4 L1786.3,829.3 L1787.4,829.2 L1788.6,829.1 L1789.7,829.1 L1790.8,829.0 L1791.9,828.9 L1793.0,828.8 L1794.1,828.7 L1795.2,828.6 L1796.3,828.5 L1797.4,828.3 L1798.5,828.2 L1799.6,828.1 L1800.7,828.0 L1801.8,827.9 L1803.0,827.7 L1804.1,827.6 L1805.2,827.5 L1806.3,827.3 L1807.4,827.2 L1808.5,827.0 L1809.6,826.9 L1810.7,826.7 L1811.8,826.6 L1812.9,826.4 L1814.0,826.2 L1815.1,826.0 L1816.2,825.8 L1817.4,825.6 L1818.5,825.4 L1819.6,825.2 L1820.7,825.0 L1821.8,824.8 L1822.9,824.5 L1824.0,824.3 L1825.1,824.0 L1826.2,823.8 L1827.3,823.5 L1828.4,823.2 L1829.5,822.9 L1830.7,822.6 L1831.8,822.2 L1832.9,821.9 L1834.0,821.5 L1835.1,821.2 L1836.2,820.8 L1837.3,820.4 L1838.4,820.0 L1839.5,819.5 L1840.6,819.0 L1841.7,818.5 L1842.8,818.0 L1843.9,817.5 L1845.1,816.9 L1846.2,816.3 L1847.3,815.7 L1848.4,815.0 L1849.5,814.3 L1850.6,813.6 L1851.7,812.8 L1852.8,812.0 L1853.9,811.1 L1855.0,810.2 L1856.1,809.2 L1857.2,808.1 L1858.3,807.0 L1859.5,805.8 L1860.6,804.5 L1861.7,803.2 L1862.8,801.7 L1863.9,800.2 L1865.0,798.5 L1866.1,796.7 L1867.2,794.8 L1868.3,792.7 L1869.4,790.5 L1870.5,788.0 L1871.6,785.4 L1872.7,782.6 L1873.9,779.4 L1875.0,776.1 L1876.1,772.4 L1877.2,768.3 L1878.3,763.8 L1879.4,758.9 L1880.5,753.5 L1880.6,752.8 L1880.8,752.1 L1880.9,751.3 L1881.1,750.6 L1881.2,749.8 L1881.3,749.1 L1881.5,748.3 L1881.6,747.5 L1881.7,746.7 L1881.9,745.9 L1882.0,745.1 L1882.2,744.2 L1882.3,743.4 L1882.4,742.6 L1882.6,741.7 L1882.7,740.8 L1882.9,739.9 L1883.0,739.0 L1883.1,738.1 L1883.3,737.2 L1883.4,736.3 L1883.5,735.3 L1883.7,734.4 L1883.8,733.4 L1884.0,732.4 L1884.1,731.4 L1884.2,730.4 L1884.4,729.4 L1884.5,728.3 L1884.7,727.3 L1884.8,726.2 L1884.9,725.1 L1885.1,724.0 L1885.2,722.9 L1885.3,721.8 L1885.5,720.6 L1885.6,719.5 L1885.8,718.3 L1885.9,717.1 L1886.0,715.8 L1886.2,714.6 L1886.3,713.4 L1886.5,712.1 L1886.6,710.8 L1886.7,709.5 L1886.9,708.1 L1887.0,706.8 L1887.1,705.4 L1887.3,704.0 L1887.4,702.6 L1887.6,701.2 L1887.7,699.7 L1887.8,698.2 L1888.0,696.7 L1888.1,695.2 L1888.3,693.7 L1888.4,692.1 L1888.5,690.5 L1888.7,688.9 L1888.8,687.2 L1888.9,685.6 L1889.1,683.9 L1889.2,682.2 L1889.4,680.4 L1889.5,678.6 L1889.6,676.8 L1889.8,675.0 L1889.9,673.1 L1890.1,671.2 L1890.2,669.3 L1890.3,667.4 L1890.5,665.4 L1890.6,663.3 L1890.7,661.3 L1890.9,659.2 L1891.0,657.1 L1891.2,654.9 L1891.3,652.8 L1891.4,650.5 L1891.6,648.3 L1891.7,646.0 L1891.9,643.7 L1892.0,641.3 L1892.1,638.9 L1892.3,636.4 L1892.4,633.9 L1892.5,631.4 L1892.7,628.8 L1892.8,626.2 L1893.0,623.6 L1893.1,620.9 L1893.2,618.1 L1893.4,615.3 L1893.5,612.5 L1893.7,609.6 L1893.8,606.7 L1893.9,603.7 L1894.1,600.7 L1894.2,597.6 L1894.3,594.5 L1894.5,591.3 L1894.6,588.1 L1894.8,584.8 L1894.9,581.4 L1895.0,578.0 L1895.2,574.6 L1895.3,571.1 L1895.5,567.5 L1895.6,563.9 L1895.7,560.2 L1895.9,556.5 L1896.0,552.7 L1896.1,548.8 L1896.3,544.9 L1896.4,540.9 L1896.6,536.9 L1896.7,532.8 L1896.8,528.6 L1897.0,524.3 L1897.1,520.0 L1897.3,515.7 L1897.4,511.2 L1897.5,506.7 L1897.7,502.2 L1897.8,497.5 L1897.9,492.8 L1898.1,488.1 L1898.2,483.2 L1898.4,478.3 L1898.5,473.3 L1898.6,468.3 L1898.8,463.2 L1898.9,458.0 L1899.1,452.8 L1899.2,447.5 L1899.3,442.1 L1899.5,436.7 L1899.6,431.2 L1899.7,425.6 L1899.9,420.0 L1900.0,414.3 L1900.2,408.5 L1900.3,402.7 L1900.4,396.9 L1900.6,391.0 L1900.7,385.0 L1900.9,379.0 L1901.0,372.9 L1901.1,366.8 L1901.3,360.7 L1901.4,354.5 L1901.5,348.3 L1901.7,342.1 L1901.8,335.8 L1902.0,329.5 L1902.1,323.2 L1902.2,316.9 L1902.4,310.6 L1902.5,304.2 L1902.7,297.9 L1902.8,291.6 L1902.9,285.3 L1903.1,279.0 L1903.2,272.8 L1903.3,266.5 L1903.5,260.4 L1903.6,254.2 L1903.8,248.2 L1903.9,242.2 L1904.0,236.2 L1904.2,230.4 L1904.3,224.6 L1904.5,218.9 L1904.6,213.4 L1904.7,207.9 L1904.9,202.6 L1905.0,197.4 L1905.1,192.4 L1905.3,187.5 L1905.4,182.7 L1905.6,178.1 L1905.7,173.7 L1905.8,169.5 L1906.0,165.5 L1906.1,161.6 L1906.3,158.0 L1906.4,154.6 L1906.5,151.4 L1906.7,148.5 L1906.8,145.7 L1906.9,143.2 L1907.1,141.0 L1907.2,139.0 L1907.4,137.3 L1907.5,135.8 L1907.6,134.6 L1907.8,133.7 L1907.9,133.0 L1908.1,132.6 L1908.2,132.5 L1908.3,132.6 L1908.5,133.0 L1908.6,133.7 L1908.7,134.6 L1908.9,135.8 L1909.0,137.3 L1909.2,139.0 L1909.3,141.0 L1909.4,143.2 L1909.6,145.7 L1909.7,148.5 L1909.9,151.4 L1910.0,154.6 L1910.1,158.0 L1910.3,161.6 L1910.4,165.5 L1910.5,169.5 L1910.7,173.7 L1910.8,178.1 L1911.0,182.7 L1911.1,187.5 L1911.2,192.4 L1911.4,197.4 L1911.5,202.6 L1911.7,207.9 L1911.8,213.4 L1911.9,218.9 L1912.1,224.6 L1912.2,230.4 L1912.3,236.2 L1912.5,242.2 L1912.6,248.2 L1912.8,254.2 L1912.9,260.4 L1913.0,266.5 L1913.2,272.8 L1913.3,279.0 L1913.5,285.3 L1913.6,291.6 L1913.7,297.9 L1913.9,304.2 L1914.0,310.6 L1914.1,316.9 L1914.3,323.2 L1914.4,329.5 L1914.6,335.8 L1914.7,342.1 L1914.8,348.3 L1915.0,354.5 L1915.1,360.7 L1915.3,366.8 L1915.4,372.9 L1915.5,379.0 L1915.7,385.0 L1915.8,391.0 L1915.9,396.9 L1916.1,402.7 L1916.2,408.5 L1916.4,414.3 L1916.5,420.0 L1916.6,425.6 L1916.8,431.2 L1916.9,436.7 L1917.1,442.1 L1917.2,447.5 L1917.3,452.8 L1917.5,458.0 L1917.6,463.2 L1917.7,468.3 L1917.9,473.3 L1918.0,478.3 L1918.2,483.2 L1918.3,488.1 L1918.4,492.8 L1918.6,497.5 L1918.7,502.2 L1918.9,506.7 L1919.0,511.2 L1919.1,515.7 L1919.3,520.0 L1919.4,524.3 L1919.5,528.6 L1919.7,532.8 L1919.8,536.9 L1920.0,540.9 L1920.1,544.9 L1920.2,548.8 L1920.4,552.7 L1920.5,556.5 L1920.7,560.2 L1920.8,563.9 L1920.9,567.5 L1921.1,571.1 L1921.2,574.6 L1921.3,578.0 L1921.5,581.4 L1921.6,584.8 L1921.8,588.1 L1921.9,591.3 L1922.0,594.5 L1922.2,597.6 L1922.3,600.7 L1922.5,603.7 L1922.6,606.7 L1922.7,609.6 L1922.9,612.5 L1923.0,615.3 L1923.1,618.1 L1923.3,620.9 L1923.4,623.6 L1923.6,626.2 L1923.7,628.8 L1923.8,631.4 L1924.0,633.9 L1924.1,636.4 L1924.3,638.9 L1924.4,641.3 L1924.5,643.7 L1924.7,646.0 L1924.8,648.3 L1924.9,650.5 L1925.1,652.8 L1925.2,654.9 L1925.4,657.1 L1925.5,659.2 L1925.6,661.3 L1925.8,663.3 L1925.9,665.4 L1926.1,667.4 L1926.2,669.3 L1926.3,671.2 L1926.5,673.1 L1926.6,675.0 L1926.7,676.8 L1926.9,678.6 L1927.0,680.4 L1927.2,682.2 L1927.3,683.9 L1927.4,685.6 L1927.6,687.2 L1927.7,688.9 L1927.9,690.5 L1928.0,692.1 L1928.1,693.7 L1928.3,695.2 L1928.4,696.7 L1928.5,698.2 L1928.7,699.7 L1928.8,701.2 L1929.0,702.6 L1929.1,704.0 L1929.2,705.4 L1929.4,706.8 L1929.5,708.1 L1929.7,709.5 L1929.8,710.8 L1929.9,712.1 L1930.1,713.4 L1930.2,714.6 L1930.3,715.8 L1930.5,717.1 L1930.6,718.3 L1930.8,719.5 L1930.9,720.6 L1931.0,721.8 L1931.2,722.9 L1931.3,724.0 L1931.5,725.1 L1931.6,726.2 L1931.7,727.3 L1931.9,728.3 L1932.0,729.4 L1932.2,730.4 L1932.3,731.4 L1932.4,732.4 L1932.6,733.4 L1932.7,734.4 L1932.8,735.3 L1933.0,736.3 L1933.1,737.2 L1933.3,738.1 L1933.4,739.0 L1933.5,739.9 L1933.7,740.8 L1933.8,741.7 L1934.0,742.6 L1934.1,743.4 L1934.2,744.2 L1934.4,745.1 L1934.5,745.9 L1934.6,746.7 L1934.8,747.5 L1934.9,748.3 L1935.1,749.1 L1935.2,749.8 L1935.3,750.6 L1935.5,751.3 L1935.6,752.1 L1935.8,752.8 L1935.9,753.5 L1937.0,758.9 L1938.1,763.8 L1939.2,768.3 L1940.3,772.4 L1941.4,776.1 L1942.5,779.4 L1943.6,782.6 L1944.8,785.4 L1945.9,788.0 L1947.0,790.5 L1948.1,792.7 L1949.2,794.8 L1950.3,796.7 L1951.4,798.5 L1952.5,800.2 L1953.6,801.7 L1954.7,803.2 L1955.8,804.5 L1956.9,805.8 L1958.0,807.0 L1959.2,808.1 L1960.3,809.2 L1961.4,810.2 L1962.5,811.1 L1963.6,812.0 L1964.7,812.8 L1965.8,813.6 L1966.9,814.3 L1968.0,815.0 L1969.1,815.7 L1970.2,816.3 L1971.3,816.9 L1972.4,817.5 L1973.6,818.0 L1974.7,818.5 L1975.8,819.0 L1976.9,819.5 L1978.0,820.0 L1979.1,820.4 L1980.2,820.8 L1981.3,821.2 L1982.4,821.5 L1983.5,821.9 L1984.6,822.2 L1985.7,822.6 L1986.8,822.9 L1988.0,823.2 L1989.1,823.5 L1990.2,823.8 L1991.3,824.0 L1992.4,824.3 L1993.5,824.5 L1994.6,824.8 L1995.7,825.0 L1996.8,825.2 L1997.9,825.4 L1999.0,825.6 L2000.1,825.8 L2001.2,826.0 L2002.4,826.2 L2003.5,826.4 L2004.6,826.6 L2005.7,826.7 L2006.8,826.9 L2007.9,827.0 L2009.0,827.2 L2010.1,827.3 L2011.2,827.5 L2012.3,827.6 L2013.4,827.7 L2014.5,827.9 L2015.6,828.0 L2016.8,828.1 L2017.9,828.2 L2019.0,828.3 L2020.1,828.5 L2021.2,828.6 L2022.3,828.7 L2023.4,828.8 L2024.5,828.9 L2025.6,829.0 L2026.7,829.1 L2027.8,829.1 L2028.9,829.2 L2030.0,829.3 L2031.2,829.4 L2032.3,829.5 L2033.4,829.6 L2034.5,829.6 L2035.6,829.7 L2036.7,829.8 L2037.8,829.9 L2038.9,829.9 L2040.0,830.0 L2041.1,830.1 L2042.2,830.1 L2043.3,830.2 L2044.5,830.2 L2045.6,830.3 L2046.7,830.4 L2047.8,830.4 L2048.9,830.5 L2050.0,830.5 L2051.1,830.6 L2052.2,830.6 L2053.3,830.7 L2054.4,830.7 L2055.5,830.8 L2056.6,830.8 L2057.7,830.9 L2058.9,830.9 L2060.0,831.0 L2061.1,831.0 L2062.2,831.1 L2063.3,831.1 L2064.4,831.1 L2065.5,831.2 L2066.6,831.2 L2067.7,831.3 L2068.8,831.3 L2069.9,831.3 L2071.0,831.4 L2072.1,831.4 L2073.3,831.4 L2074.4,831.5 L2075.5,831.5 L2076.6,831.5 L2077.7,831.6 L2078.8,831.6 L2079.9,831.6 L2081.0,831.7 L2082.1,831.7 L2083.2,831.7 L2084.3,831.7 L2085.4,831.8 L2086.5,831.8 L2087.7,831.8 L2088.8,831.9 L2089.9,831.9 L2091.0,831.9 L2092.1,831.9 L2093.2,832.0 L2094.3,832.0 L2095.4,832.0 L2096.5,832.0 L2097.6,832.0 L2098.7,832.1 L2099.8,832.1 L2100.9,832.1 L2102.1,832.1 L2103.2,832.2 L2104.3,832.2 L2105.4,832.2 L2106.5,832.2 L2107.6,832.2 L2108.7,832.3 L2109.8,832.3 L2110.9,832.3 L2112.0,832.3 L2113.1,832.3 L2114.2,832.3 L2115.3,832.4 L2116.5,832.4 L2117.6,832.4 L2118.7,832.4 L2119.8,832.4 L2120.9,832.4 L2122.0,832.5 L2123.1,832.5 L2124.2,832.5 L2125.3,832.5 L2126.4,832.5 L2127.5,832.5 L2128.6,832.6 L2129.8,832.6 L2130.9,832.6 L2132.0,832.6 L2133.1,832.6 L2134.2,832.6 L2135.3,832.6 L2136.4,832.6 L2137.5,832.7 L2138.6,832.7 L2139.7,832.7 L2140.8,832.7 L2141.9,832.7 L2143.0,832.7 L2144.2,832.7 L2145.3,832.7 L2146.4,832.8 L2147.5,832.8 L2148.6,832.8 L2149.7,832.8 L2150.8,832.8 L2151.9,832.8 L2153.0,832.8 L2154.1,832.8 L2155.2,832.8 L2156.3,832.9 L2157.4,832.9 L2158.6,832.9 L2159.7,832.9 L2160.8,832.9 L2161.9,832.9 L2163.0,832.9 L2164.1,832.9 L2165.2,832.9 L2166.3,832.9 L2167.4,832.9 L2168.5,833.0 L2169.6,833.0 L2170.7,833.0 L2171.8,833.0 L2173.0,833.0 L2174.1,833.0 L2175.2,833.0 L2176.3,833.0 L2177.4,833.0 L2178.5,833.0 L2179.6,833.0 L2180.7,833.0 L2181.8,833.1 L2182.9,833.1 L2184.0,833.1 L2185.1,833.1 L2186.2,833.1 L2187.4,833.1 L2188.5,833.1 L2189.6,833.1 L2190.7,833.1 L2191.8,833.1 L2192.9,833.1 L2194.0,833.1 L2195.1,833.1 L2196.2,833.1 L2197.3,833.1 L2198.4,833.2 L2199.5,833.2 L2200.6,833.2 L2201.8,833.2 L2202.9,833.2 L2204.0,833.2 L2205.1,833.2 L2206.2,833.2 L2207.3,833.2 L2208.4,833.2 L2209.5,833.2 L2210.6,833.2 L2211.7,833.2 L2212.8,833.2 L2213.9,833.2 L2215.0,833.2 L2216.2,833.2 L2217.3,833.3 L2218.4,833.3 L2219.5,833.3 L2220.6,833.3 L2221.7,833.3 L2222.8,833.3 L2223.9,833.3 L2225.0,833.3 L2226.1,833.3 L2227.2,833.3 L2228.3,833.3 L2229.4,833.3 L2230.6,833.3 L2231.7,833.3 L2232.8,833.3 L2233.9,833.3 L2235.0,833.3 L2236.1,833.3 L2237.2,833.3 L2238.3,833.3 L2239.4,833.3 L2240.5,833.4 L2241.6,833.4 L2242.7,833.4 L2243.9,833.4 L2245.0,833.4 L2246.1,833.4 L2247.2,833.4 L2248.3,833.4 L2249.4,833.4 L2250.5,833.4 L2251.6,833.4 L2252.7,833.4 L2253.8,833.4 L2254.9,833.4 L2256.0,833.4 L2257.1,833.4 L2258.3,833.4 L2259.4,833.4 L2260.5,833.4 L2261.6,833.4 L2262.7,833.4 L2263.8,833.4 L2264.9,833.4 L2266.0,833.4 L2267.1,833.4 L2268.2,833.4 L2269.3,833.4 L2270.4,833.5 L2271.5,833.5 L2272.7,833.5 L2273.8,833.5 L2274.9,833.5 L2276.0,833.5 L2277.1,833.5 L2278.2,833.5 L2279.3,833.5 L2280.4,833.5 L2281.5,833.5 L2282.6,833.5 L2283.7,833.5 L2284.8,833.5 L2285.9,833.5 L2287.1,833.5 L2288.2,833.5 L2289.3,833.5 L2290.4,833.5 L2291.5,833.5 L2292.6,833.5 L2293.7,833.5 L2294.8,833.5 L2295.9,833.5 L2297.0,833.5 L2298.1,833.5 L2299.2,833.5 L2300.3,833.5 L2301.5,833.5 L2302.6,833.5 L2303.7,833.5 L2304.8,833.5 L2305.9,833.5 L2307.0,833.5 L2308.1,833.5 L2309.2,833.5 L2310.3,833.6 L2311.4,833.6 L2312.5,833.6 L2313.6,833.6 L2314.7,833.6 L2315.9,833.6 L2317.0,833.6 L2318.1,833.6 L2319.2,833.6 L2320.3,833.6 L2321.4,833.6 L2322.5,833.6 L2323.6,833.6 L2324.7,833.6 L2325.8,833.6 L2326.9,833.6 L2328.0,833.6 L2329.2,833.6 L2330.3,833.6 L2331.4,833.6 L2332.5,833.6 L2333.6,833.6 L2334.7,833.6 L2335.8,833.6 L2336.9,833.6 L2338.0,833.6 L2339.1,833.6 L2340.2,833.6 L2341.3,833.6 L2342.4,833.6 L2343.6,833.6 L2344.7,833.6 L2345.8,833.6 L2346.9,833.6 L2348.0,833.6 L2349.1,833.6 L2350.2,833.6 L2351.3,833.6 L2352.4,833.6 L2353.5,833.6 L2354.6,833.6 L2355.7,833.6 L2356.8,833.6 L2358.0,833.6 L2359.1,833.6 L2360.2,833.6 L2361.3,833.6 L2362.4,833.6 L2363.5,833.6 L2364.6,833.6 L2365.7,833.7 L2366.8,833.7 L2367.9,833.7 L2369.0,833.7 L2370.1,833.7 L2371.2,833.7 L2372.4,833.7 L2373.5,833.7 L2374.6,833.7 L2375.7,833.7 L2376.8,833.7 L2377.9,833.7 L2379.0,833.7" stroke="#000" stroke-width="5.5"/>
<path d="M1382.0,832.8 L1383.1,832.7 L1384.2,832.7 L1385.3,832.7 L1386.4,832.7 L1387.5,832.7 L1388.6,832.7 L1389.8,832.7 L1390.9,832.7 L1392.0,832.7 L1393.1,832.7 L1394.2,832.7 L1395.3,832.7 L1396.4,832.6 L1397.5,832.6 L1398.6,832.6 L1399.7,832.6 L1400.8,832.6 L1401.9,832.6 L1403.0,832.6 L1404.2,832.6 L1405.3,832.6 L1406.4,832.6 L1407.5,832.6 L1408.6,832.6 L1409.7,832.5 L1410.8,832.5 L1411.9,832.5 L1413.0,832.5 L1414.1,832.5 L1415.2,832.5 L1416.3,832.5 L1417.4,832.5 L1418.6,832.5 L1419.7,832.5 L1420.8,832.4 L1421.9,832.4 L1423.0,832.4 L1424.1,832.4 L1425.2,832.4 L1426.3,832.4 L1427.4,832.4 L1428.5,832.4 L1429.6,832.4 L1430.7,832.3 L1431.8,832.3 L1433.0,832.3 L1434.1,832.3 L1435.2,832.3 L1436.3,832.3 L1437.4,832.3 L1438.5,832.3 L1439.6,832.2 L1440.7,832.2 L1441.8,832.2 L1442.9,832.2 L1444.0,832.2 L1445.1,832.2 L1446.3,832.2 L1447.4,832.2 L1448.5,832.1 L1449.6,832.1 L1450.7,832.1 L1451.8,832.1 L1452.9,832.1 L1454.0,832.1 L1455.1,832.1 L1456.2,832.0 L1457.3,832.0 L1458.4,832.0 L1459.5,832.0 L1460.7,832.0 L1461.8,832.0 L1462.9,832.0 L1464.0,831.9 L1465.1,831.9 L1466.2,831.9 L1467.3,831.9 L1468.4,831.9 L1469.5,831.9 L1470.6,831.8 L1471.7,831.8 L1472.8,831.8 L1473.9,831.8 L1475.1,831.8 L1476.2,831.7 L1477.3,831.7 L1478.4,831.7 L1479.5,831.7 L1480.6,831.7 L1481.7,831.7 L1482.8,831.6 L1483.9,831.6 L1485.0,831.6 L1486.1,831.6 L1487.2,831.6 L1488.3,831.5 L1489.5,831.5 L1490.6,831.5 L1491.7,831.5 L1492.8,831.4 L1493.9,831.4 L1495.0,831.4 L1496.1,831.4 L1497.2,831.4 L1498.3,831.3 L1499.4,831.3 L1500.5,831.3 L1501.6,831.3 L1502.7,831.2 L1503.9,831.2 L1505.0,831.2 L1506.1,831.2 L1507.2,831.1 L1508.3,831.1 L1509.4,831.1 L1510.5,831.1 L1511.6,831.0 L1512.7,831.0 L1513.8,831.0 L1514.9,830.9 L1516.0,830.9 L1517.1,830.9 L1518.3,830.8 L1519.4,830.8 L1520.5,830.8 L1521.6,830.8 L1522.7,830.7 L1523.8,830.7 L1524.9,830.7 L1526.0,830.6 L1527.1,830.6 L1528.2,830.6 L1529.3,830.5 L1530.4,830.5 L1531.5,830.5 L1532.7,830.4 L1533.8,830.4 L1534.9,830.3 L1536.0,830.3 L1537.1,830.3 L1538.2,830.2 L1539.3,830.2 L1540.4,830.1 L1541.5,830.1 L1542.6,830.1 L1543.7,830.0 L1544.8,830.0 L1546.0,829.9 L1547.1,829.9 L1548.2,829.8 L1549.3,829.8 L1550.4,829.7 L1551.5,829.7 L1552.6,829.6 L1553.7,829.6 L1554.8,829.5 L1555.9,829.5 L1557.0,829.4 L1558.1,829.4 L1559.2,829.3 L1560.4,829.3 L1561.5,829.2 L1562.6,829.2 L1563.7,829.1 L1564.8,829.1 L1565.9,829.0 L1567.0,828.9 L1568.1,828.9 L1569.2,828.8 L1570.3,828.7 L1571.4,828.7 L1572.5,828.6 L1573.6,828.5 L1574.8,828.5 L1575.9,828.4 L1577.0,828.3 L1578.1,828.2 L1579.2,828.2 L1580.3,828.1 L1581.4,828.0 L1582.5,827.9 L1583.6,827.9 L1584.7,827.8 L1585.8,827.7 L1586.9,827.6 L1588.0,827.5 L1589.2,827.4 L1590.3,827.3 L1591.4,827.2 L1592.5,827.1 L1593.6,827.0 L1594.7,826.9 L1595.8,826.8 L1596.9,826.7 L1598.0,826.6 L1599.1,826.5 L1600.2,826.4 L1601.3,826.3 L1602.4,826.2 L1603.6,826.1 L1604.7,825.9 L1605.8,825.8 L1606.9,825.7 L1608.0,825.6 L1609.1,825.4 L1610.2,825.3 L1611.3,825.1 L1612.4,825.0 L1613.5,824.8 L1614.6,824.7 L1615.7,824.5 L1616.8,824.4 L1618.0,824.2 L1619.1,824.1 L1620.2,823.9 L1621.3,823.7 L1622.4,823.5 L1623.5,823.3 L1624.6,823.2 L1625.7,823.0 L1626.8,822.8 L1627.9,822.6 L1629.0,822.3 L1630.1,822.1 L1631.2,821.9 L1632.4,821.7 L1633.5,821.4 L1634.6,821.2 L1635.7,821.0 L1636.8,820.7 L1637.9,820.4 L1639.0,820.2 L1640.1,819.9 L1641.2,819.6 L1642.3,819.3 L1643.4,819.0 L1644.5,818.7 L1645.7,818.4 L1646.8,818.0 L1647.9,817.7 L1649.0,817.3 L1650.1,817.0 L1651.2,816.6 L1652.3,816.2 L1653.4,815.8 L1654.5,815.4 L1655.6,814.9 L1656.7,814.5 L1657.8,814.0 L1658.9,813.5 L1660.1,813.0 L1661.2,812.5 L1662.3,812.0 L1663.4,811.4 L1664.5,810.9 L1665.6,810.3 L1666.7,809.7 L1667.8,809.0 L1668.9,808.4 L1670.0,807.7 L1671.1,806.9 L1672.2,806.2 L1673.3,805.4 L1674.5,804.6 L1675.6,803.8 L1676.7,802.9 L1677.8,802.0 L1678.9,801.0 L1680.0,800.0 L1681.1,799.0 L1682.2,797.9 L1683.3,796.8 L1684.4,795.6 L1685.5,794.4 L1686.6,793.1 L1687.7,791.7 L1688.9,790.3 L1690.0,788.8 L1691.1,787.3 L1692.2,785.7 L1693.3,784.0 L1694.4,782.2 L1695.5,780.3 L1696.6,778.3 L1697.7,776.2 L1698.8,774.0 L1699.9,771.7 L1701.0,769.3 L1702.1,766.8 L1703.3,764.1 L1704.4,761.3 L1705.5,758.3 L1706.6,755.2 L1707.7,751.9 L1708.8,748.4 L1709.9,744.7 L1711.0,740.9 L1712.1,736.8 L1713.2,732.5 L1714.3,728.0 L1715.4,723.3 L1716.5,718.3 L1717.7,713.0 L1718.8,707.6 L1719.9,701.8 L1721.0,695.8 L1722.1,689.6 L1723.2,683.1 L1724.3,676.3 L1725.4,669.3 L1726.5,662.2 L1727.6,654.9 L1728.7,647.4 L1729.8,639.9 L1731.0,632.3 L1732.1,624.9 L1733.2,617.5 L1734.3,610.4 L1735.4,603.6 L1736.5,597.2 L1737.6,591.3 L1738.7,586.1 L1739.8,581.6 L1740.9,577.9 L1742.0,575.2 L1743.1,573.4 L1744.2,572.6 L1745.4,572.9 L1746.5,574.1 L1747.6,576.4 L1748.7,579.6 L1749.8,583.7 L1750.9,588.6 L1752.0,594.2 L1753.1,600.3 L1754.2,606.9 L1755.3,613.9 L1756.4,621.2 L1757.5,628.6 L1758.6,636.1 L1759.8,643.7 L1760.9,651.1 L1762.0,658.5 L1763.1,665.8 L1764.2,672.9 L1765.3,679.7 L1766.4,686.3 L1767.5,692.7 L1768.6,698.8 L1769.7,704.7 L1770.8,710.3 L1771.9,715.7 L1773.0,720.8 L1774.2,725.7 L1775.3,730.3 L1776.4,734.7 L1777.5,738.9 L1778.6,742.8 L1779.7,746.6 L1780.8,750.2 L1781.9,753.5 L1783.0,756.8 L1784.1,759.8 L1785.2,762.7 L1786.3,765.5 L1787.4,768.1 L1788.6,770.6 L1789.7,772.9 L1790.8,775.1 L1791.9,777.3 L1793.0,779.3 L1794.1,781.2 L1795.2,783.1 L1796.3,784.8 L1797.4,786.5 L1798.5,788.1 L1799.6,789.6 L1800.7,791.0 L1801.8,792.4 L1803.0,793.7 L1804.1,795.0 L1805.2,796.2 L1806.3,797.4 L1807.4,798.5 L1808.5,799.5 L1809.6,800.5 L1810.7,801.5 L1811.8,802.4 L1812.9,803.3 L1814.0,804.2 L1815.1,805.0 L1816.2,805.8 L1817.4,806.6 L1818.5,807.3 L1819.6,808.0 L1820.7,808.7 L1821.8,809.3 L1822.9,810.0 L1824.0,810.6 L1825.1,811.2 L1826.2,811.7 L1827.3,812.3 L1828.4,812.8 L1829.5,813.3 L1830.7,813.8 L1831.8,814.3 L1832.9,814.7 L1834.0,815.1 L1835.1,815.6 L1836.2,816.0 L1837.3,816.4 L1838.4,816.8 L1839.5,817.1 L1840.6,817.5 L1841.7,817.9 L1842.8,818.2 L1843.9,818.5 L1845.1,818.8 L1846.2,819.2 L1847.3,819.5 L1848.4,819.7 L1849.5,820.0 L1850.6,820.3 L1851.7,820.6 L1852.8,820.8 L1853.9,821.1 L1855.0,821.3 L1856.1,821.6 L1857.2,821.8 L1858.3,822.0 L1859.5,822.2 L1860.6,822.5 L1861.7,822.7 L1862.8,822.9 L1863.9,823.1 L1865.0,823.3 L1866.1,823.4 L1867.2,823.6 L1868.3,823.8 L1869.4,824.0 L1870.5,824.1 L1871.6,824.3 L1872.7,824.5 L1873.9,824.6 L1875.0,824.8 L1876.1,824.9 L1877.2,825.1 L1878.3,825.2 L1879.4,825.4 L1880.5,825.5 L1880.6,825.5 L1880.8,825.5 L1880.9,825.5 L1881.1,825.6 L1881.2,825.6 L1881.3,825.6 L1881.5,825.6 L1881.6,825.6 L1881.7,825.6 L1881.9,825.7 L1882.0,825.7 L1882.2,825.7 L1882.3,825.7 L1882.4,825.7 L1882.6,825.7 L1882.7,825.7 L1882.9,825.8 L1883.0,825.8 L1883.1,825.8 L1883.3,825.8 L1883.4,825.8 L1883.5,825.8 L1883.7,825.9 L1883.8,825.9 L1884.0,825.9 L1884.1,825.9 L1884.2,825.9 L1884.4,825.9 L1884.5,826.0 L1884.7,826.0 L1884.8,826.0 L1884.9,826.0 L1885.1,826.0 L1885.2,826.0 L1885.3,826.0 L1885.5,826.1 L1885.6,826.1 L1885.8,826.1 L1885.9,826.1 L1886.0,826.1 L1886.2,826.1 L1886.3,826.1 L1886.5,826.2 L1886.6,826.2 L1886.7,826.2 L1886.9,826.2 L1887.0,826.2 L1887.1,826.2 L1887.3,826.3 L1887.4,826.3 L1887.6,826.3 L1887.7,826.3 L1887.8,826.3 L1888.0,826.3 L1888.1,826.3 L1888.3,826.4 L1888.4,826.4 L1888.5,826.4 L1888.7,826.4 L1888.8,826.4 L1888.9,826.4 L1889.1,826.4 L1889.2,826.5 L1889.4,826.5 L1889.5,826.5 L1889.6,826.5 L1889.8,826.5 L1889.9,826.5 L1890.1,826.5 L1890.2,826.5 L1890.3,826.6 L1890.5,826.6 L1890.6,826.6 L1890.7,826.6 L1890.9,826.6 L1891.0,826.6 L1891.2,826.6 L1891.3,826.7 L1891.4,826.7 L1891.6,826.7 L1891.7,826.7 L1891.9,826.7 L1892.0,826.7 L1892.1,826.7 L1892.3,826.7 L1892.4,826.8 L1892.5,826.8 L1892.7,826.8 L1892.8,826.8 L1893.0,826.8 L1893.1,826.8 L1893.2,826.8 L1893.4,826.9 L1893.5,826.9 L1893.7,826.9 L1893.8,826.9 L1893.9,826.9 L1894.1,826.9 L1894.2,826.9 L1894.3,826.9 L1894.5,827.0 L1894.6,827.0 L1894.8,827.0 L1894.9,827.0 L1895.0,827.0 L1895.2,827.0 L1895.3,827.0 L1895.5,827.0 L1895.6,827.1 L1895.7,827.1 L1895.9,827.1 L1896.0,827.1 L1896.1,827.1 L1896.3,827.1 L1896.4,827.1 L1896.6,827.1 L1896.7,827.2 L1896.8,827.2 L1897.0,827.2 L1897.1,827.2 L1897.3,827.2 L1897.4,827.2 L1897.5,827.2 L1897.7,827.2 L1897.8,827.2 L1897.9,827.3 L1898.1,827.3 L1898.2,827.3 L1898.4,827.3 L1898.5,827.3 L1898.6,827.3 L1898.8,827.3 L1898.9,827.3 L1899.1,827.4 L1899.2,827.4 L1899.3,827.4 L1899.5,827.4 L1899.6,827.4 L1899.7,827.4 L1899.9,827.4 L1900.0,827.4 L1900.2,827.4 L1900.3,827.5 L1900.4,827.5 L1900.6,827.5 L1900.7,827.5 L1900.9,827.5 L1901.0,827.5 L1901.1,827.5 L1901.3,827.5 L1901.4,827.5 L1901.5,827.6 L1901.7,827.6 L1901.8,827.6 L1902.0,827.6 L1902.1,827.6 L1902.2,827.6 L1902.4,827.6 L1902.5,827.6 L1902.7,827.6 L1902.8,827.7 L1902.9,827.7 L1903.1,827.7 L1903.2,827.7 L1903.3,827.7 L1903.5,827.7 L1903.6,827.7 L1903.8,827.7 L1903.9,827.7 L1904.0,827.8 L1904.2,827.8 L1904.3,827.8 L1904.5,827.8 L1904.6,827.8 L1904.7,827.8 L1904.9,827.8 L1905.0,827.8 L1905.1,827.8 L1905.3,827.8 L1905.4,827.9 L1905.6,827.9 L1905.7,827.9 L1905.8,827.9 L1906.0,827.9 L1906.1,827.9 L1906.3,827.9 L1906.4,827.9 L1906.5,827.9 L1906.7,827.9 L1906.8,828.0 L1906.9,828.0 L1907.1,828.0 L1907.2,828.0 L1907.4,828.0 L1907.5,828.0 L1907.6,828.0 L1907.8,828.0 L1907.9,828.0 L1908.1,828.0 L1908.2,828.1 L1908.3,828.1 L1908.5,828.1 L1908.6,828.1 L1908.7,828.1 L1908.9,828.1 L1909.0,828.1 L1909.2,828.1 L1909.3,828.1 L1909.4,828.1 L1909.6,828.2 L1909.7,828.2 L1909.9,828.2 L1910.0,828.2 L1910.1,828.2 L1910.3,828.2 L1910.4,828.2 L1910.5,828.2 L1910.7,828.2 L1910.8,828.2 L1911.0,828.2 L1911.1,828.3 L1911.2,828.3 L1911.4,828.3 L1911.5,828.3 L1911.7,828.3 L1911.8,828.3 L1911.9,828.3 L1912.1,828.3 L1912.2,828.3 L1912.3,828.3 L1912.5,828.4 L1912.6,828.4 L1912.8,828.4 L1912.9,828.4 L1913.0,828.4 L1913.2,828.4 L1913.3,828.4 L1913.5,828.4 L1913.6,828.4 L1913.7,828.4 L1913.9,828.4 L1914.0,828.4 L1914.1,828.5 L1914.3,828.5 L1914.4,828.5 L1914.6,828.5 L1914.7,828.5 L1914.8,828.5 L1915.0,828.5 L1915.1,828.5 L1915.3,828.5 L1915.4,828.5 L1915.5,828.5 L1915.7,828.6 L1915.8,828.6 L1915.9,828.6 L1916.1,828.6 L1916.2,828.6 L1916.4,828.6 L1916.5,828.6 L1916.6,828.6 L1916.8,828.6 L1916.9,828.6 L1917.1,828.6 L1917.2,828.6 L1917.3,828.7 L1917.5,828.7 L1917.6,828.7 L1917.7,828.7 L1917.9,828.7 L1918.0,828.7 L1918.2,828.7 L1918.3,828.7 L1918.4,828.7 L1918.6,828.7 L1918.7,828.7 L1918.9,828.7 L1919.0,828.8 L1919.1,828.8 L1919.3,828.8 L1919.4,828.8 L1919.5,828.8 L1919.7,828.8 L1919.8,828.8 L1920.0,828.8 L1920.1,828.8 L1920.2,828.8 L1920.4,828.8 L1920.5,828.8 L1920.7,828.9 L1920.8,828.9 L1920.9,828.9 L1921.1,828.9 L1921.2,828.9 L1921.3,828.9 L1921.5,828.9 L1921.6,828.9 L1921.8,828.9 L1921.9,828.9 L1922.0,828.9 L1922.2,828.9 L1922.3,828.9 L1922.5,829.0 L1922.6,829.0 L1922.7,829.0 L1922.9,829.0 L1923.0,829.0 L1923.1,829.0 L1923.3,829.0 L1923.4,829.0 L1923.6,829.0 L1923.7,829.0 L1923.8,829.0 L1924.0,829.0 L1924.1,829.0 L1924.3,829.1 L1924.4,829.1 L1924.5,829.1 L1924.7,829.1 L1924.8,829.1 L1924.9,829.1 L1925.1,829.1 L1925.2,829.1 L1925.4,829.1 L1925.5,829.1 L1925.6,829.1 L1925.8,829.1 L1925.9,829.1 L1926.1,829.1 L1926.2,829.2 L1926.3,829.2 L1926.5,829.2 L1926.6,829.2 L1926.7,829.2 L1926.9,829.2 L1927.0,829.2 L1927.2,829.2 L1927.3,829.2 L1927.4,829.2 L1927.6,829.2 L1927.7,829.2 L1927.9,829.2 L1928.0,829.2 L1928.1,829.3 L1928.3,829.3 L1928.4,829.3 L1928.5,829.3 L1928.7,829.3 L1928.8,829.3 L1929.0,829.3 L1929.1,829.3 L1929.2,829.3 L1929.4,829.3 L1929.5,829.3 L1929.7,829.3 L1929.8,829.3 L1929.9,829.3 L1930.1,829.3 L1930.2,829.4 L1930.3,829.4 L1930.5,829.4 L1930.6,829.4 L1930.8,829.4 L1930.9,829.4 L1931.0,829.4 L1931.2,829.4 L1931.3,829.4 L1931.5,829.4 L1931.6,829.4 L1931.7,829.4 L1931.9,829.4 L1932.0,829.4 L1932.2,829.5 L1932.3,829.5 L1932.4,829.5 L1932.6,829.5 L1932.7,829.5 L1932.8,829.5 L1933.0,829.5 L1933.1,829.5 L1933.3,829.5 L1933.4,829.5 L1933.5,829.5 L1933.7,829.5 L1933.8,829.5 L1934.0,829.5 L1934.1,829.5 L1934.2,829.5 L1934.4,829.6 L1934.5,829.6 L1934.6,829.6 L1934.8,829.6 L1934.9,829.6 L1935.1,829.6 L1935.2,829.6 L1935.3,829.6 L1935.5,829.6 L1935.6,829.6 L1935.8,829.6 L1935.9,829.6 L1937.0,829.7 L1938.1,829.7 L1939.2,829.8 L1940.3,829.8 L1941.4,829.9 L1942.5,829.9 L1943.6,830.0 L1944.8,830.0 L1945.9,830.0 L1947.0,830.1 L1948.1,830.1 L1949.2,830.2 L1950.3,830.2 L1951.4,830.2 L1952.5,830.3 L1953.6,830.3 L1954.7,830.4 L1955.8,830.4 L1956.9,830.4 L1958.0,830.5 L1959.2,830.5 L1960.3,830.5 L1961.4,830.6 L1962.5,830.6 L1963.6,830.6 L1964.7,830.7 L1965.8,830.7 L1966.9,830.7 L1968.0,830.8 L1969.1,830.8 L1970.2,830.8 L1971.3,830.9 L1972.4,830.9 L1973.6,830.9 L1974.7,831.0 L1975.8,831.0 L1976.9,831.0 L1978.0,831.0 L1979.1,831.1 L1980.2,831.1 L1981.3,831.1 L1982.4,831.1 L1983.5,831.2 L1984.6,831.2 L1985.7,831.2 L1986.8,831.2 L1988.0,831.3 L1989.1,831.3 L1990.2,831.3 L1991.3,831.3 L1992.4,831.4 L1993.5,831.4 L1994.6,831.4 L1995.7,831.4 L1996.8,831.5 L1997.9,831.5 L1999.0,831.5 L2000.1,831.5 L2001.2,831.5 L2002.4,831.6 L2003.5,831.6 L2004.6,831.6 L2005.7,831.6 L2006.8,831.6 L2007.9,831.7 L2009.0,831.7 L2010.1,831.7 L2011.2,831.7 L2012.3,831.7 L2013.4,831.8 L2014.5,831.8 L2015.6,831.8 L2016.8,831.8 L2017.9,831.8 L2019.0,831.8 L2020.1,831.9 L2021.2,831.9 L2022.3,831.9 L2023.4,831.9 L2024.5,831.9 L2025.6,831.9 L2026.7,832.0 L2027.8,832.0 L2028.9,832.0 L2030.0,832.0 L2031.2,832.0 L2032.3,832.0 L2033.4,832.1 L2034.5,832.1 L2035.6,832.1 L2036.7,832.1 L2037.8,832.1 L2038.9,832.1 L2040.0,832.1 L2041.1,832.2 L2042.2,832.2 L2043.3,832.2 L2044.5,832.2 L2045.6,832.2 L2046.7,832.2 L2047.8,832.2 L2048.9,832.2 L2050.0,832.3 L2051.1,832.3 L2052.2,832.3 L2053.3,832.3 L2054.4,832.3 L2055.5,832.3 L2056.6,832.3 L2057.7,832.3 L2058.9,832.3 L2060.0,832.4 L2061.1,832.4 L2062.2,832.4 L2063.3,832.4 L2064.4,832.4 L2065.5,832.4 L2066.6,832.4 L2067.7,832.4 L2068.8,832.4 L2069.9,832.5 L2071.0,832.5 L2072.1,832.5 L2073.3,832.5 L2074.4,832.5 L2075.5,832.5 L2076.6,832.5 L2077.7,832.5 L2078.8,832.5 L2079.9,832.5 L2081.0,832.6 L2082.1,832.6 L2083.2,832.6 L2084.3,832.6 L2085.4,832.6 L2086.5,832.6 L2087.7,832.6 L2088.8,832.6 L2089.9,832.6 L2091.0,832.6 L2092.1,832.6 L2093.2,832.7 L2094.3,832.7 L2095.4,832.7 L2096.5,832.7 L2097.6,832.7 L2098.7,832.7 L2099.8,832.7 L2100.9,832.7 L2102.1,832.7 L2103.2,832.7 L2104.3,832.7 L2105.4,832.7 L2106.5,832.7 L2107.6,832.8 L2108.7,832.8 L2109.8,832.8 L2110.9,832.8 L2112.0,832.8 L2113.1,832.8 L2114.2,832.8 L2115.3,832.8 L2116.5,832.8 L2117.6,832.8 L2118.7,832.8 L2119.8,832.8 L2120.9,832.8 L2122.0,832.8 L2123.1,832.9 L2124.2,832.9 L2125.3,832.9 L2126.4,832.9 L2127.5,832.9 L2128.6,832.9 L2129.8,832.9 L2130.9,832.9 L2132.0,832.9 L2133.1,832.9 L2134.2,832.9 L2135.3,832.9 L2136.4,832.9 L2137.5,832.9 L2138.6,832.9 L2139.7,832.9 L2140.8,833.0 L2141.9,833.0 L2143.0,833.0 L2144.2,833.0 L2145.3,833.0 L2146.4,833.0 L2147.5,833.0 L2148.6,833.0 L2149.7,833.0 L2150.8,833.0 L2151.9,833.0 L2153.0,833.0 L2154.1,833.0 L2155.2,833.0 L2156.3,833.0 L2157.4,833.0 L2158.6,833.0 L2159.7,833.0 L2160.8,833.0 L2161.9,833.1 L2163.0,833.1 L2164.1,833.1 L2165.2,833.1 L2166.3,833.1 L2167.4,833.1 L2168.5,833.1 L2169.6,833.1 L2170.7,833.1 L2171.8,833.1 L2173.0,833.1 L2174.1,833.1 L2175.2,833.1 L2176.3,833.1 L2177.4,833.1 L2178.5,833.1 L2179.6,833.1 L2180.7,833.1 L2181.8,833.1 L2182.9,833.1 L2184.0,833.1 L2185.1,833.1 L2186.2,833.2 L2187.4,833.2 L2188.5,833.2 L2189.6,833.2 L2190.7,833.2 L2191.8,833.2 L2192.9,833.2 L2194.0,833.2 L2195.1,833.2 L2196.2,833.2 L2197.3,833.2 L2198.4,833.2 L2199.5,833.2 L2200.6,833.2 L2201.8,833.2 L2202.9,833.2 L2204.0,833.2 L2205.1,833.2 L2206.2,833.2 L2207.3,833.2 L2208.4,833.2 L2209.5,833.2 L2210.6,833.2 L2211.7,833.2 L2212.8,833.2 L2213.9,833.2 L2215.0,833.3 L2216.2,833.3 L2217.3,833.3 L2218.4,833.3 L2219.5,833.3 L2220.6,833.3 L2221.7,833.3 L2222.8,833.3 L2223.9,833.3 L2225.0,833.3 L2226.1,833.3 L2227.2,833.3 L2228.3,833.3 L2229.4,833.3 L2230.6,833.3 L2231.7,833.3 L2232.8,833.3 L2233.9,833.3 L2235.0,833.3 L2236.1,833.3 L2237.2,833.3 L2238.3,833.3 L2239.4,833.3 L2240.5,833.3 L2241.6,833.3 L2242.7,833.3 L2243.9,833.3 L2245.0,833.3 L2246.1,833.3 L2247.2,833.3 L2248.3,833.3 L2249.4,833.3 L2250.5,833.4 L2251.6,833.4 L2252.7,833.4 L2253.8,833.4 L2254.9,833.4 L2256.0,833.4 L2257.1,833.4 L2258.3,833.4 L2259.4,833.4 L2260.5,833.4 L2261.6,833.4 L2262.7,833.4 L2263.8,833.4 L2264.9,833.4 L2266.0,833.4 L2267.1,833.4 L2268.2,833.4 L2269.3,833.4 L2270.4,833.4 L2271.5,833.4 L2272.7,833.4 L2273.8,833.4 L2274.9,833.4 L2276.0,833.4 L2277.1,833.4 L2278.2,833.4 L2279.3,833.4 L2280.4,833.4 L2281.5,833.4 L2282.6,833.4 L2283.7,833.4 L2284.8,833.4 L2285.9,833.4 L2287.1,833.4 L2288.2,833.4 L2289.3,833.4 L2290.4,833.4 L2291.5,833.4 L2292.6,833.4 L2293.7,833.4 L2294.8,833.4 L2295.9,833.5 L2297.0,833.5 L2298.1,833.5 L2299.2,833.5 L2300.3,833.5 L2301.5,833.5 L2302.6,833.5 L2303.7,833.5 L2304.8,833.5 L2305.9,833.5 L2307.0,833.5 L2308.1,833.5 L2309.2,833.5 L2310.3,833.5 L2311.4,833.5 L2312.5,833.5 L2313.6,833.5 L2314.7,833.5 L2315.9,833.5 L2317.0,833.5 L2318.1,833.5 L2319.2,833.5 L2320.3,833.5 L2321.4,833.5 L2322.5,833.5 L2323.6,833.5 L2324.7,833.5 L2325.8,833.5 L2326.9,833.5 L2328.0,833.5 L2329.2,833.5 L2330.3,833.5 L2331.4,833.5 L2332.5,833.5 L2333.6,833.5 L2334.7,833.5 L2335.8,833.5 L2336.9,833.5 L2338.0,833.5 L2339.1,833.5 L2340.2,833.5 L2341.3,833.5 L2342.4,833.5 L2343.6,833.5 L2344.7,833.5 L2345.8,833.5 L2346.9,833.5 L2348.0,833.5 L2349.1,833.5 L2350.2,833.5 L2351.3,833.5 L2352.4,833.5 L2353.5,833.5 L2354.6,833.5 L2355.7,833.5 L2356.8,833.6 L2358.0,833.6 L2359.1,833.6 L2360.2,833.6 L2361.3,833.6 L2362.4,833.6 L2363.5,833.6 L2364.6,833.6 L2365.7,833.6 L2366.8,833.6 L2367.9,833.6 L2369.0,833.6 L2370.1,833.6 L2371.2,833.6 L2372.4,833.6 L2373.5,833.6 L2374.6,833.6 L2375.7,833.6 L2376.8,833.6 L2377.9,833.6 L2379.0,833.6" stroke="#00ee00" stroke-width="5.5"/>
<path d="M1382.0,832.5 L1383.1,832.5 L1384.2,832.5 L1385.3,832.5 L1386.4,832.5 L1387.5,832.5 L1388.6,832.4 L1389.8,832.4 L1390.9,832.4 L1392.0,832.4 L1393.1,832.4 L1394.2,832.4 L1395.3,832.4 L1396.4,832.4 L1397.5,832.4 L1398.6,832.4 L1399.7,832.4 L1400.8,832.3 L1401.9,832.3 L1403.0,832.3 L1404.2,832.3 L1405.3,832.3 L1406.4,832.3 L1407.5,832.3 L1408.6,832.3 L1409.7,832.3 L1410.8,832.3 L1411.9,832.2 L1413.0,832.2 L1414.1,832.2 L1415.2,832.2 L1416.3,832.2 L1417.4,832.2 L1418.6,832.2 L1419.7,832.2 L1420.8,832.1 L1421.9,832.1 L1423.0,832.1 L1424.1,832.1 L1425.2,832.1 L1426.3,832.1 L1427.4,832.1 L1428.5,832.1 L1429.6,832.1 L1430.7,832.0 L1431.8,832.0 L1433.0,832.0 L1434.1,832.0 L1435.2,832.0 L1436.3,832.0 L1437.4,832.0 L1438.5,831.9 L1439.6,831.9 L1440.7,831.9 L1441.8,831.9 L1442.9,831.9 L1444.0,831.9 L1445.1,831.9 L1446.3,831.8 L1447.4,831.8 L1448.5,831.8 L1449.6,831.8 L1450.7,831.8 L1451.8,831.8 L1452.9,831.8 L1454.0,831.7 L1455.1,831.7 L1456.2,831.7 L1457.3,831.7 L1458.4,831.7 L1459.5,831.7 L1460.7,831.6 L1461.8,831.6 L1462.9,831.6 L1464.0,831.6 L1465.1,831.6 L1466.2,831.5 L1467.3,831.5 L1468.4,831.5 L1469.5,831.5 L1470.6,831.5 L1471.7,831.5 L1472.8,831.4 L1473.9,831.4 L1475.1,831.4 L1476.2,831.4 L1477.3,831.4 L1478.4,831.3 L1479.5,831.3 L1480.6,831.3 L1481.7,831.3 L1482.8,831.2 L1483.9,831.2 L1485.0,831.2 L1486.1,831.2 L1487.2,831.2 L1488.3,831.1 L1489.5,831.1 L1490.6,831.1 L1491.7,831.1 L1492.8,831.0 L1493.9,831.0 L1495.0,831.0 L1496.1,831.0 L1497.2,830.9 L1498.3,830.9 L1499.4,830.9 L1500.5,830.9 L1501.6,830.8 L1502.7,830.8 L1503.9,830.8 L1505.0,830.8 L1506.1,830.7 L1507.2,830.7 L1508.3,830.7 L1509.4,830.6 L1510.5,830.6 L1511.6,830.6 L1512.7,830.5 L1513.8,830.5 L1514.9,830.5 L1516.0,830.5 L1517.1,830.4 L1518.3,830.4 L1519.4,830.4 L1520.5,830.3 L1521.6,830.3 L1522.7,830.3 L1523.8,830.2 L1524.9,830.2 L1526.0,830.1 L1527.1,830.1 L1528.2,830.1 L1529.3,830.0 L1530.4,830.0 L1531.5,830.0 L1532.7,829.9 L1533.8,829.9 L1534.9,829.8 L1536.0,829.8 L1537.1,829.8 L1538.2,829.7 L1539.3,829.7 L1540.4,829.6 L1541.5,829.6 L1542.6,829.5 L1543.7,829.5 L1544.8,829.4 L1546.0,829.4 L1547.1,829.3 L1548.2,829.3 L1549.3,829.3 L1550.4,829.2 L1551.5,829.1 L1552.6,829.1 L1553.7,829.0 L1554.8,829.0 L1555.9,828.9 L1557.0,828.9 L1558.1,828.8 L1559.2,828.8 L1560.4,828.7 L1561.5,828.6 L1562.6,828.6 L1563.7,828.5 L1564.8,828.5 L1565.9,828.4 L1567.0,828.3 L1568.1,828.3 L1569.2,828.2 L1570.3,828.1 L1571.4,828.1 L1572.5,828.0 L1573.6,827.9 L1574.8,827.8 L1575.9,827.8 L1577.0,827.7 L1578.1,827.6 L1579.2,827.5 L1580.3,827.4 L1581.4,827.4 L1582.5,827.3 L1583.6,827.2 L1584.7,827.1 L1585.8,827.0 L1586.9,826.9 L1588.0,826.8 L1589.2,826.7 L1590.3,826.6 L1591.4,826.5 L1592.5,826.4 L1593.6,826.3 L1594.7,826.2 L1595.8,826.1 L1596.9,826.0 L1598.0,825.9 L1599.1,825.8 L1600.2,825.7 L1601.3,825.6 L1602.4,825.4 L1603.6,825.3 L1604.7,825.2 L1605.8,825.0 L1606.9,824.9 L1608.0,824.8 L1609.1,824.6 L1610.2,824.5 L1611.3,824.4 L1612.4,824.2 L1613.5,824.0 L1614.6,823.9 L1615.7,823.7 L1616.8,823.6 L1618.0,823.4 L1619.1,823.2 L1620.2,823.0 L1621.3,822.9 L1622.4,822.7 L1623.5,822.5 L1624.6,822.3 L1625.7,822.1 L1626.8,821.9 L1627.9,821.7 L1629.0,821.5 L1630.1,821.2 L1631.2,821.0 L1632.4,820.8 L1633.5,820.5 L1634.6,820.3 L1635.7,820.0 L1636.8,819.8 L1637.9,819.5 L1639.0,819.2 L1640.1,818.9 L1641.2,818.6 L1642.3,818.3 L1643.4,818.0 L1644.5,817.7 L1645.7,817.4 L1646.8,817.0 L1647.9,816.7 L1649.0,816.3 L1650.1,815.9 L1651.2,815.5 L1652.3,815.1 L1653.4,814.7 L1654.5,814.3 L1655.6,813.8 L1656.7,813.4 L1657.8,812.9 L1658.9,812.4 L1660.1,811.9 L1661.2,811.4 L1662.3,810.8 L1663.4,810.3 L1664.5,809.7 L1665.6,809.1 L1666.7,808.5 L1667.8,807.8 L1668.9,807.1 L1670.0,806.4 L1671.1,805.7 L1672.2,805.0 L1673.3,804.2 L1674.5,803.3 L1675.6,802.5 L1676.7,801.6 L1677.8,800.7 L1678.9,799.7 L1680.0,798.7 L1681.1,797.7 L1682.2,796.6 L1683.3,795.4 L1684.4,794.2 L1685.5,793.0 L1686.6,791.7 L1687.7,790.3 L1688.9,788.9 L1690.0,787.4 L1691.1,785.8 L1692.2,784.2 L1693.3,782.4 L1694.4,780.6 L1695.5,778.7 L1696.6,776.7 L1697.7,774.7 L1698.8,772.5 L1699.9,770.1 L1701.0,767.7 L1702.1,765.1 L1703.3,762.4 L1704.4,759.6 L1705.5,756.6 L1706.6,753.5 L1707.7,750.1 L1708.8,746.6 L1709.9,743.0 L1711.0,739.1 L1712.1,735.0 L1713.2,730.7 L1714.3,726.2 L1715.4,721.4 L1716.5,716.4 L1717.7,711.1 L1718.8,705.6 L1719.9,699.9 L1721.0,693.8 L1722.1,687.5 L1723.2,681.0 L1724.3,674.3 L1725.4,667.3 L1726.5,660.1 L1727.6,652.7 L1728.7,645.3 L1729.8,637.7 L1731.0,630.1 L1732.1,622.6 L1733.2,615.2 L1734.3,608.1 L1735.4,601.2 L1736.5,594.8 L1737.6,588.9 L1738.7,583.7 L1739.8,579.1 L1740.9,575.4 L1742.0,572.6 L1743.1,570.8 L1744.2,570.0 L1745.4,570.2 L1746.5,571.5 L1747.6,573.7 L1748.7,576.9 L1749.8,581.0 L1750.9,585.8 L1752.0,591.3 L1753.1,597.4 L1754.2,604.0 L1755.3,610.9 L1756.4,618.1 L1757.5,625.5 L1758.6,633.0 L1759.8,640.5 L1760.9,647.9 L1762.0,655.3 L1763.1,662.5 L1764.2,669.5 L1765.3,676.3 L1766.4,682.9 L1767.5,689.2 L1768.6,695.3 L1769.7,701.1 L1770.8,706.7 L1771.9,712.0 L1773.0,717.0 L1774.2,721.8 L1775.3,726.4 L1776.4,730.7 L1777.5,734.8 L1778.6,738.7 L1779.7,742.4 L1780.8,745.9 L1781.9,749.2 L1783.0,752.3 L1784.1,755.3 L1785.2,758.1 L1786.3,760.8 L1787.4,763.3 L1788.6,765.7 L1789.7,768.0 L1790.8,770.1 L1791.9,772.2 L1793.0,774.1 L1794.1,775.9 L1795.2,777.7 L1796.3,779.3 L1797.4,780.9 L1798.5,782.3 L1799.6,783.7 L1800.7,785.1 L1801.8,786.3 L1803.0,787.5 L1804.1,788.6 L1805.2,789.7 L1806.3,790.7 L1807.4,791.7 L1808.5,792.6 L1809.6,793.4 L1810.7,794.3 L1811.8,795.0 L1812.9,795.7 L1814.0,796.4 L1815.1,797.1 L1816.2,797.7 L1817.4,798.2 L1818.5,798.8 L1819.6,799.2 L1820.7,799.7 L1821.8,800.1 L1822.9,800.5 L1824.0,800.9 L1825.1,801.2 L1826.2,801.5 L1827.3,801.8 L1828.4,802.0 L1829.5,802.2 L1830.7,802.4 L1831.8,802.5 L1832.9,802.6 L1834.0,802.7 L1835.1,802.8 L1836.2,802.8 L1837.3,802.8 L1838.4,802.7 L1839.5,802.7 L1840.6,802.6 L1841.7,802.4 L1842.8,802.2 L1843.9,802.0 L1845.1,801.8 L1846.2,801.5 L1847.3,801.2 L1848.4,800.8 L1849.5,800.4 L1850.6,799.9 L1851.7,799.4 L1852.8,798.8 L1853.9,798.2 L1855.0,797.5 L1856.1,796.8 L1857.2,795.9 L1858.3,795.0 L1859.5,794.1 L1860.6,793.0 L1861.7,791.9 L1862.8,790.6 L1863.9,789.3 L1865.0,787.8 L1866.1,786.2 L1867.2,784.4 L1868.3,782.5 L1869.4,780.5 L1870.5,778.2 L1871.6,775.7 L1872.7,773.0 L1873.9,770.1 L1875.0,766.9 L1876.1,763.3 L1877.2,759.4 L1878.3,755.1 L1879.4,750.3 L1880.5,745.0 L1880.6,744.3 L1880.8,743.6 L1880.9,742.9 L1881.1,742.1 L1881.2,741.4 L1881.3,740.7 L1881.5,739.9 L1881.6,739.1 L1881.7,738.3 L1881.9,737.6 L1882.0,736.8 L1882.2,735.9 L1882.3,735.1 L1882.4,734.3 L1882.6,733.4 L1882.7,732.6 L1882.9,731.7 L1883.0,730.8 L1883.1,730.0 L1883.3,729.0 L1883.4,728.1 L1883.5,727.2 L1883.7,726.3 L1883.8,725.3 L1884.0,724.3 L1884.1,723.3 L1884.2,722.3 L1884.4,721.3 L1884.5,720.3 L1884.7,719.3 L1884.8,718.2 L1884.9,717.1 L1885.1,716.1 L1885.2,714.9 L1885.3,713.8 L1885.5,712.7 L1885.6,711.5 L1885.8,710.4 L1885.9,709.2 L1886.0,708.0 L1886.2,706.8 L1886.3,705.5 L1886.5,704.3 L1886.6,703.0 L1886.7,701.7 L1886.9,700.4 L1887.0,699.0 L1887.1,697.7 L1887.3,696.3 L1887.4,694.9 L1887.6,693.5 L1887.7,692.0 L1887.8,690.6 L1888.0,689.1 L1888.1,687.6 L1888.3,686.0 L1888.4,684.5 L1888.5,682.9 L1888.7,681.3 L1888.8,679.7 L1888.9,678.0 L1889.1,676.3 L1889.2,674.6 L1889.4,672.9 L1889.5,671.1 L1889.6,669.3 L1889.8,667.5 L1889.9,665.7 L1890.1,663.8 L1890.2,661.9 L1890.3,659.9 L1890.5,658.0 L1890.6,656.0 L1890.7,653.9 L1890.9,651.8 L1891.0,649.7 L1891.2,647.6 L1891.3,645.4 L1891.4,643.2 L1891.6,641.0 L1891.7,638.7 L1891.9,636.4 L1892.0,634.0 L1892.1,631.6 L1892.3,629.2 L1892.4,626.7 L1892.5,624.2 L1892.7,621.6 L1892.8,619.0 L1893.0,616.4 L1893.1,613.7 L1893.2,611.0 L1893.4,608.2 L1893.5,605.4 L1893.7,602.5 L1893.8,599.6 L1893.9,596.6 L1894.1,593.6 L1894.2,590.5 L1894.3,587.4 L1894.5,584.3 L1894.6,581.0 L1894.8,577.8 L1894.9,574.4 L1895.0,571.1 L1895.2,567.6 L1895.3,564.1 L1895.5,560.6 L1895.6,557.0 L1895.7,553.3 L1895.9,549.6 L1896.0,545.8 L1896.1,541.9 L1896.3,538.0 L1896.4,534.1 L1896.6,530.0 L1896.7,525.9 L1896.8,521.8 L1897.0,517.5 L1897.1,513.2 L1897.3,508.9 L1897.4,504.5 L1897.5,500.0 L1897.7,495.4 L1897.8,490.8 L1897.9,486.1 L1898.1,481.3 L1898.2,476.5 L1898.4,471.6 L1898.5,466.7 L1898.6,461.6 L1898.8,456.5 L1898.9,451.4 L1899.1,446.1 L1899.2,440.9 L1899.3,435.5 L1899.5,430.1 L1899.6,424.6 L1899.7,419.0 L1899.9,413.4 L1900.0,407.7 L1900.2,402.0 L1900.3,396.2 L1900.4,390.4 L1900.6,384.5 L1900.7,378.5 L1900.9,372.5 L1901.0,366.5 L1901.1,360.4 L1901.3,354.3 L1901.4,348.1 L1901.5,341.9 L1901.7,335.7 L1901.8,329.4 L1902.0,323.1 L1902.1,316.8 L1902.2,310.5 L1902.4,304.2 L1902.5,297.9 L1902.7,291.6 L1902.8,285.3 L1902.9,279.0 L1903.1,272.7 L1903.2,266.5 L1903.3,260.3 L1903.5,254.1 L1903.6,248.0 L1903.8,241.9 L1903.9,235.9 L1904.0,230.0 L1904.2,224.2 L1904.3,218.4 L1904.5,212.7 L1904.6,207.2 L1904.7,201.8 L1904.9,196.4 L1905.0,191.3 L1905.1,186.2 L1905.3,181.3 L1905.4,176.6 L1905.6,172.0 L1905.7,167.6 L1905.8,163.4 L1906.0,159.4 L1906.1,155.6 L1906.3,151.9 L1906.4,148.5 L1906.5,145.4 L1906.7,142.4 L1906.8,139.7 L1906.9,137.2 L1907.1,135.0 L1907.2,133.0 L1907.4,131.3 L1907.5,129.8 L1907.6,128.6 L1907.8,127.7 L1907.9,127.1 L1908.1,126.7 L1908.2,126.5 L1908.3,126.7 L1908.5,127.1 L1908.6,127.8 L1908.7,128.7 L1908.9,129.9 L1909.0,131.4 L1909.2,133.2 L1909.3,135.2 L1909.4,137.4 L1909.6,139.9 L1909.7,142.6 L1909.9,145.6 L1910.0,148.8 L1910.1,152.2 L1910.3,155.9 L1910.4,159.7 L1910.5,163.7 L1910.7,168.0 L1910.8,172.4 L1911.0,177.0 L1911.1,181.7 L1911.2,186.6 L1911.4,191.7 L1911.5,196.9 L1911.7,202.2 L1911.8,207.7 L1911.9,213.3 L1912.1,219.0 L1912.2,224.7 L1912.3,230.6 L1912.5,236.5 L1912.6,242.5 L1912.8,248.6 L1912.9,254.8 L1913.0,260.9 L1913.2,267.2 L1913.3,273.4 L1913.5,279.7 L1913.6,286.0 L1913.7,292.4 L1913.9,298.7 L1914.0,305.0 L1914.1,311.4 L1914.3,317.7 L1914.4,324.0 L1914.6,330.3 L1914.7,336.6 L1914.8,342.8 L1915.0,349.0 L1915.1,355.2 L1915.3,361.4 L1915.4,367.5 L1915.5,373.6 L1915.7,379.6 L1915.8,385.5 L1915.9,391.5 L1916.1,397.3 L1916.2,403.1 L1916.4,408.9 L1916.5,414.6 L1916.6,420.2 L1916.8,425.8 L1916.9,431.3 L1917.1,436.8 L1917.2,442.1 L1917.3,447.4 L1917.5,452.7 L1917.6,457.9 L1917.7,463.0 L1917.9,468.0 L1918.0,473.0 L1918.2,477.9 L1918.3,482.8 L1918.4,487.6 L1918.6,492.3 L1918.7,496.9 L1918.9,501.5 L1919.0,506.0 L1919.1,510.5 L1919.3,514.8 L1919.4,519.1 L1919.5,523.4 L1919.7,527.6 L1919.8,531.7 L1920.0,535.7 L1920.1,539.7 L1920.2,543.7 L1920.4,547.5 L1920.5,551.3 L1920.7,555.1 L1920.8,558.8 L1920.9,562.4 L1921.1,566.0 L1921.2,569.5 L1921.3,572.9 L1921.5,576.3 L1921.6,579.7 L1921.8,583.0 L1921.9,586.2 L1922.0,589.4 L1922.2,592.6 L1922.3,595.6 L1922.5,598.7 L1922.6,601.7 L1922.7,604.6 L1922.9,607.5 L1923.0,610.3 L1923.1,613.1 L1923.3,615.9 L1923.4,618.6 L1923.6,621.3 L1923.7,623.9 L1923.8,626.5 L1924.0,629.0 L1924.1,631.5 L1924.3,633.9 L1924.4,636.4 L1924.5,638.7 L1924.7,641.1 L1924.8,643.4 L1924.9,645.6 L1925.1,647.9 L1925.2,650.1 L1925.4,652.2 L1925.5,654.4 L1925.6,656.4 L1925.8,658.5 L1925.9,660.5 L1926.1,662.5 L1926.2,664.5 L1926.3,666.4 L1926.5,668.3 L1926.6,670.2 L1926.7,672.0 L1926.9,673.8 L1927.0,675.6 L1927.2,677.4 L1927.3,679.1 L1927.4,680.8 L1927.6,682.5 L1927.7,684.1 L1927.9,685.8 L1928.0,687.4 L1928.1,688.9 L1928.3,690.5 L1928.4,692.0 L1928.5,693.5 L1928.7,695.0 L1928.8,696.5 L1929.0,697.9 L1929.1,699.3 L1929.2,700.7 L1929.4,702.1 L1929.5,703.5 L1929.7,704.8 L1929.8,706.1 L1929.9,707.4 L1930.1,708.7 L1930.2,710.0 L1930.3,711.2 L1930.5,712.5 L1930.6,713.7 L1930.8,714.9 L1930.9,716.0 L1931.0,717.2 L1931.2,718.3 L1931.3,719.4 L1931.5,720.6 L1931.6,721.7 L1931.7,722.7 L1931.9,723.8 L1932.0,724.8 L1932.2,725.9 L1932.3,726.9 L1932.4,727.9 L1932.6,728.9 L1932.7,729.9 L1932.8,730.8 L1933.0,731.8 L1933.1,732.7 L1933.3,733.7 L1933.4,734.6 L1933.5,735.5 L1933.7,736.4 L1933.8,737.2 L1934.0,738.1 L1934.1,739.0 L1934.2,739.8 L1934.4,740.6 L1934.5,741.5 L1934.6,742.3 L1934.8,743.1 L1934.9,743.9 L1935.1,744.7 L1935.2,745.4 L1935.3,746.2 L1935.5,746.9 L1935.6,747.7 L1935.8,748.4 L1935.9,749.1 L1937.0,754.6 L1938.1,759.6 L1939.2,764.1 L1940.3,768.2 L1941.4,771.9 L1942.5,775.4 L1943.6,778.5 L1944.8,781.4 L1945.9,784.1 L1947.0,786.6 L1948.1,788.9 L1949.2,791.0 L1950.3,792.9 L1951.4,794.8 L1952.5,796.5 L1953.6,798.1 L1954.7,799.6 L1955.8,801.0 L1956.9,802.3 L1958.0,803.5 L1959.2,804.6 L1960.3,805.7 L1961.4,806.7 L1962.5,807.7 L1963.6,808.6 L1964.7,809.5 L1965.8,810.3 L1966.9,811.1 L1968.0,811.8 L1969.1,812.5 L1970.2,813.2 L1971.3,813.8 L1972.4,814.4 L1973.6,815.0 L1974.7,815.5 L1975.8,816.0 L1976.9,816.5 L1978.0,817.0 L1979.1,817.5 L1980.2,817.9 L1981.3,818.3 L1982.4,818.7 L1983.5,819.1 L1984.6,819.5 L1985.7,819.8 L1986.8,820.2 L1988.0,820.5 L1989.1,820.8 L1990.2,821.1 L1991.3,821.4 L1992.4,821.7 L1993.5,821.9 L1994.6,822.2 L1995.7,822.4 L1996.8,822.7 L1997.9,822.9 L1999.0,823.1 L2000.1,823.4 L2001.2,823.6 L2002.4,823.8 L2003.5,824.0 L2004.6,824.2 L2005.7,824.4 L2006.8,824.5 L2007.9,824.7 L2009.0,824.9 L2010.1,825.1 L2011.2,825.2 L2012.3,825.4 L2013.4,825.5 L2014.5,825.7 L2015.6,825.8 L2016.8,825.9 L2017.9,826.1 L2019.0,826.2 L2020.1,826.3 L2021.2,826.5 L2022.3,826.6 L2023.4,826.7 L2024.5,826.8 L2025.6,826.9 L2026.7,827.0 L2027.8,827.1 L2028.9,827.2 L2030.0,827.3 L2031.2,827.4 L2032.3,827.5 L2033.4,827.6 L2034.5,827.7 L2035.6,827.8 L2036.7,827.9 L2037.8,828.0 L2038.9,828.1 L2040.0,828.1 L2041.1,828.2 L2042.2,828.3 L2043.3,828.4 L2044.5,828.5 L2045.6,828.5 L2046.7,828.6 L2047.8,828.7 L2048.9,828.7 L2050.0,828.8 L2051.1,828.9 L2052.2,828.9 L2053.3,829.0 L2054.4,829.1 L2055.5,829.1 L2056.6,829.2 L2057.7,829.2 L2058.9,829.3 L2060.0,829.3 L2061.1,829.4 L2062.2,829.5 L2063.3,829.5 L2064.4,829.6 L2065.5,829.6 L2066.6,829.7 L2067.7,829.7 L2068.8,829.8 L2069.9,829.8 L2071.0,829.8 L2072.1,829.9 L2073.3,829.9 L2074.4,830.0 L2075.5,830.0 L2076.6,830.1 L2077.7,830.1 L2078.8,830.1 L2079.9,830.2 L2081.0,830.2 L2082.1,830.3 L2083.2,830.3 L2084.3,830.3 L2085.4,830.4 L2086.5,830.4 L2087.7,830.5 L2088.8,830.5 L2089.9,830.5 L2091.0,830.6 L2092.1,830.6 L2093.2,830.6 L2094.3,830.7 L2095.4,830.7 L2096.5,830.7 L2097.6,830.7 L2098.7,830.8 L2099.8,830.8 L2100.9,830.8 L2102.1,830.9 L2103.2,830.9 L2104.3,830.9 L2105.4,831.0 L2106.5,831.0 L2107.6,831.0 L2108.7,831.0 L2109.8,831.1 L2110.9,831.1 L2112.0,831.1 L2113.1,831.1 L2114.2,831.2 L2115.3,831.2 L2116.5,831.2 L2117.6,831.2 L2118.7,831.3 L2119.8,831.3 L2120.9,831.3 L2122.0,831.3 L2123.1,831.3 L2124.2,831.4 L2125.3,831.4 L2126.4,831.4 L2127.5,831.4 L2128.6,831.5 L2129.8,831.5 L2130.9,831.5 L2132.0,831.5 L2133.1,831.5 L2134.2,831.6 L2135.3,831.6 L2136.4,831.6 L2137.5,831.6 L2138.6,831.6 L2139.7,831.6 L2140.8,831.7 L2141.9,831.7 L2143.0,831.7 L2144.2,831.7 L2145.3,831.7 L2146.4,831.8 L2147.5,831.8 L2148.6,831.8 L2149.7,831.8 L2150.8,831.8 L2151.9,831.8 L2153.0,831.9 L2154.1,831.9 L2155.2,831.9 L2156.3,831.9 L2157.4,831.9 L2158.6,831.9 L2159.7,831.9 L2160.8,832.0 L2161.9,832.0 L2163.0,832.0 L2164.1,832.0 L2165.2,832.0 L2166.3,832.0 L2167.4,832.0 L2168.5,832.1 L2169.6,832.1 L2170.7,832.1 L2171.8,832.1 L2173.0,832.1 L2174.1,832.1 L2175.2,832.1 L2176.3,832.1 L2177.4,832.2 L2178.5,832.2 L2179.6,832.2 L2180.7,832.2 L2181.8,832.2 L2182.9,832.2 L2184.0,832.2 L2185.1,832.2 L2186.2,832.3 L2187.4,832.3 L2188.5,832.3 L2189.6,832.3 L2190.7,832.3 L2191.8,832.3 L2192.9,832.3 L2194.0,832.3 L2195.1,832.3 L2196.2,832.3 L2197.3,832.4 L2198.4,832.4 L2199.5,832.4 L2200.6,832.4 L2201.8,832.4 L2202.9,832.4 L2204.0,832.4 L2205.1,832.4 L2206.2,832.4 L2207.3,832.4 L2208.4,832.5 L2209.5,832.5 L2210.6,832.5 L2211.7,832.5 L2212.8,832.5 L2213.9,832.5 L2215.0,832.5 L2216.2,832.5 L2217.3,832.5 L2218.4,832.5 L2219.5,832.5 L2220.6,832.6 L2221.7,832.6 L2222.8,832.6 L2223.9,832.6 L2225.0,832.6 L2226.1,832.6 L2227.2,832.6 L2228.3,832.6 L2229.4,832.6 L2230.6,832.6 L2231.7,832.6 L2232.8,832.6 L2233.9,832.6 L2235.0,832.7 L2236.1,832.7 L2237.2,832.7 L2238.3,832.7 L2239.4,832.7 L2240.5,832.7 L2241.6,832.7 L2242.7,832.7 L2243.9,832.7 L2245.0,832.7 L2246.1,832.7 L2247.2,832.7 L2248.3,832.7 L2249.4,832.7 L2250.5,832.8 L2251.6,832.8 L2252.7,832.8 L2253.8,832.8 L2254.9,832.8 L2256.0,832.8 L2257.1,832.8 L2258.3,832.8 L2259.4,832.8 L2260.5,832.8 L2261.6,832.8 L2262.7,832.8 L2263.8,832.8 L2264.9,832.8 L2266.0,832.8 L2267.1,832.8 L2268.2,832.9 L2269.3,832.9 L2270.4,832.9 L2271.5,832.9 L2272.7,832.9 L2273.8,832.9 L2274.9,832.9 L2276.0,832.9 L2277.1,832.9 L2278.2,832.9 L2279.3,832.9 L2280.4,832.9 L2281.5,832.9 L2282.6,832.9 L2283.7,832.9 L2284.8,832.9 L2285.9,832.9 L2287.1,832.9 L2288.2,833.0 L2289.3,833.0 L2290.4,833.0 L2291.5,833.0 L2292.6,833.0 L2293.7,833.0 L2294.8,833.0 L2295.9,833.0 L2297.0,833.0 L2298.1,833.0 L2299.2,833.0 L2300.3,833.0 L2301.5,833.0 L2302.6,833.0 L2303.7,833.0 L2304.8,833.0 L2305.9,833.0 L2307.0,833.0 L2308.1,833.0 L2309.2,833.0 L2310.3,833.0 L2311.4,833.1 L2312.5,833.1 L2313.6,833.1 L2314.7,833.1 L2315.9,833.1 L2317.0,833.1 L2318.1,833.1 L2319.2,833.1 L2320.3,833.1 L2321.4,833.1 L2322.5,833.1 L2323.6,833.1 L2324.7,833.1 L2325.8,833.1 L2326.9,833.1 L2328.0,833.1 L2329.2,833.1 L2330.3,833.1 L2331.4,833.1 L2332.5,833.1 L2333.6,833.1 L2334.7,833.1 L2335.8,833.1 L2336.9,833.1 L2338.0,833.1 L2339.1,833.1 L2340.2,833.2 L2341.3,833.2 L2342.4,833.2 L2343.6,833.2 L2344.7,833.2 L2345.8,833.2 L2346.9,833.2 L2348.0,833.2 L2349.1,833.2 L2350.2,833.2 L2351.3,833.2 L2352.4,833.2 L2353.5,833.2 L2354.6,833.2 L2355.7,833.2 L2356.8,833.2 L2358.0,833.2 L2359.1,833.2 L2360.2,833.2 L2361.3,833.2 L2362.4,833.2 L2363.5,833.2 L2364.6,833.2 L2365.7,833.2 L2366.8,833.2 L2367.9,833.2 L2369.0,833.2 L2370.1,833.2 L2371.2,833.2 L2372.4,833.2 L2373.5,833.3 L2374.6,833.3 L2375.7,833.3 L2376.8,833.3 L2377.9,833.3 L2379.0,833.3" stroke="#ff00ff" stroke-width="3.5"/>
</g>
<line x1="1365" y1="737.0" x2="1382" y2="737.0" stroke="#000" stroke-width="6"/>
<text x="1356" y="759.0" font-family="'Liberation Serif','Times New Roman',serif" font-weight="bold" font-size="66" text-anchor="end">35</text>
<line x1="1365" y1="564.7" x2="1382" y2="564.7" stroke="#000" stroke-width="6"/>
<text x="1356" y="586.7" font-family="'Liberation Serif','Times New Roman',serif" font-weight="bold" font-size="66" text-anchor="end">70</text>
<line x1="1365" y1="392.4" x2="1382" y2="392.4" stroke="#000" stroke-width="6"/>
<text x="1356" y="414.4" font-family="'Liberation Serif','Times New Roman',serif" font-weight="bold" font-size="66" text-anchor="end">105</text>
<line x1="1365" y1="220.1" x2="1382" y2="220.1" stroke="#000" stroke-width="6"/>
<text x="1356" y="242.1" font-family="'Liberation Serif','Times New Roman',serif" font-weight="bold" font-size="66" text-anchor="end">140</text>
<line x1="1365" y1="47.8" x2="1382" y2="47.8" stroke="#000" stroke-width="6"/>
<text x="1356" y="69.8" font-family="'Liberation Serif','Times New Roman',serif" font-weight="bold" font-size="66" text-anchor="end">175</text>
<line x1="1548.2" y1="838" x2="1548.2" y2="857" stroke="#000" stroke-width="6"/>
<text x="1548.2" y="917" font-family="'Liberation Serif','Times New Roman',serif" font-weight="bold" font-size="67" text-anchor="middle">1000</text>
<line x1="1825.1" y1="838" x2="1825.1" y2="857" stroke="#000" stroke-width="6"/>
<text x="1825.1" y="917" font-family="'Liberation Serif','Times New Roman',serif" font-weight="bold" font-size="67" text-anchor="middle">1500</text>
<line x1="2102.1" y1="838" x2="2102.1" y2="857" stroke="#000" stroke-width="6"/>
<text x="2102.1" y="917" font-family="'Liberation Serif','Times New Roman',serif" font-weight="bold" font-size="67" text-anchor="middle">2000</text>
<line x1="2379.0" y1="838" x2="2379.0" y2="857" stroke="#000" stroke-width="6"/>
<text x="2379.0" y="917" font-family="'Liberation Serif','Times New Roman',serif" font-weight="bold" font-size="67" text-anchor="middle">2500</text>
<text x="1570" y="996" font-family="'Liberation Serif','Times New Roman',serif" font-weight="bold" font-size="66.8">Wavenumber (cm</text>
<text x="2079" y="967" font-family="'Liberation Serif','Times New Roman',serif" font-weight="bold" font-size="44">-1</text>
<text x="2114" y="995" font-family="'Liberation Serif','Times New Roman',serif" font-weight="bold" font-size="65">)</text>
<text transform="translate(1223,408) rotate(-90)" font-family="'Liberation Serif','Times New Roman',serif" font-weight="bold" font-size="66.5" text-anchor="middle">Raman Intensity (a.u.)</text>
<text x="1449" y="131" font-family="'Liberation Serif','Times New Roman',serif" font-weight="bold" font-size="102">(b)</text>
<text x="1909" y="97" font-family="'Liberation Serif','Times New Roman',serif" font-weight="bold" font-size="66" text-anchor="middle">G</text>
<text x="1745" y="538" font-family="'Liberation Serif','Times New Roman',serif" font-weight="bold" font-size="66" text-anchor="middle">D</text>
<text x="1959" y="200" font-family="'Liberation Serif','Times New Roman',serif" font-weight="bold" font-size="66">1651 cm</text>
<text x="2193" y="169" font-family="'Liberation Serif','Times New Roman',serif" font-weight="bold" font-size="44">-1</text>
<text x="1433" y="623" font-family="'Liberation Serif','Times New Roman',serif" font-weight="bold" font-size="66">1353 cm</text>
<text x="1666" y="593" font-family="'Liberation Serif','Times New Roman',serif" font-weight="bold" font-size="44">-1</text>
<rect x="1409" y="197" width="480" height="164" fill="none" stroke="#c0c0c0" stroke-width="4"/>
<line x1="1438" y1="237" x2="1491" y2="237" stroke="#000" stroke-width="8"/>
<text x="1499" y="244" font-family="'Liberation Serif','Times New Roman',serif" font-weight="bold" font-size="42">Fit Peak 1</text>
<line x1="1438" y1="291.5" x2="1491" y2="291.5" stroke="#00ee00" stroke-width="8"/>
<text x="1499" y="298.5" font-family="'Liberation Serif','Times New Roman',serif" font-weight="bold" font-size="42">Fit Peak 2</text>
<line x1="1438" y1="345" x2="1491" y2="345" stroke="#ff44ff" stroke-width="8"/>
<text x="1499" y="352" font-family="'Liberation Serif','Times New Roman',serif" font-weight="bold" font-size="42">Cumulative Fit Peak</text>
<svg x="26" y="1053" width="1168" height="964" viewBox="0 0 2101 1734" preserveAspectRatio="none">
<defs><radialGradient id="cg0" cx="0.47" cy="0.45" r="0.6"><stop offset="0" stop-color="rgb(112,112,112)"/><stop offset="0.72" stop-color="rgb(100,100,100)"/><stop offset="1" stop-color="rgb(84,84,84)"/></radialGradient><radialGradient id="cg1" cx="0.47" cy="0.45" r="0.6"><stop offset="0" stop-color="rgb(118,118,118)"/><stop offset="0.72" stop-color="rgb(104,104,104)"/><stop offset="1" stop-color="rgb(88,88,88)"/></radialGradient><radialGradient id="cg2" cx="0.47" cy="0.45" r="0.6"><stop offset="0" stop-color="rgb(120,120,120)"/><stop offset="0.72" stop-color="rgb(106,106,106)"/><stop offset="1" stop-color="rgb(89,89,89)"/></radialGradient><radialGradient id="cg3" cx="0.47" cy="0.45" r="0.6"><stop offset="0" stop-color="rgb(124,124,124)"/><stop offset="0.72" stop-color="rgb(106,106,106)"/><stop offset="1" stop-color="rgb(83,83,83)"/></radialGradient><radialGradient id="cg4" cx="0.47" cy="0.45" r="0.6"><stop offset="0" stop-color="rgb(112,112,112)"/><stop offset="0.72" stop-color="rgb(100,100,100)"/><stop offset="1" stop-color="rgb(85,85,85)"/></radialGradient><radialGradient id="cg5" cx="0.47" cy="0.45" r="0.6"><stop offset="0" stop-color="rgb(125,125,125)"/><stop offset="0.72" stop-color="rgb(110,110,110)"/><stop offset="1" stop-color="rgb(92,92,92)"/></radialGradient><radialGradient id="cg6" cx="0.47" cy="0.45" r="0.6"><stop offset="0" stop-color="rgb(111,111,111)"/><stop offset="0.72" stop-color="rgb(99,99,99)"/><stop offset="1" stop-color="rgb(84,84,84)"/></radialGradient><radialGradient id="cg7" cx="0.47" cy="0.45" r="0.6"><stop offset="0" stop-color="rgb(112,112,112)"/><stop offset="0.72" stop-color="rgb(100,100,100)"/><stop offset="1" stop-color="rgb(84,84,84)"/></radialGradient><radialGradient id="cg8" cx="0.47" cy="0.45" r="0.6"><stop offset="0" stop-color="rgb(125,125,125)"/><stop offset="0.72" stop-color="rgb(110,110,110)"/><stop offset="1" stop-color="rgb(92,92,92)"/></radialGradient><radialGradient id="cg9" cx="0.47" cy="0.45" r="0.6"><stop offset="0" stop-color="rgb(120,120,120)"/><stop offset="0.72" stop-color="rgb(106,106,106)"/><stop offset="1" stop-color="rgb(89,89,89)"/></radialGradient><radialGradient id="cg10" cx="0.47" cy="0.45" r="0.6"><stop offset="0" stop-color="rgb(116,116,116)"/><stop offset="0.72" stop-color="rgb(103,103,103)"/><stop offset="1" stop-color="rgb(87,87,87)"/></radialGradient><radialGradient id="cg11" cx="0.47" cy="0.45" r="0.6"><stop offset="0" stop-color="rgb(118,118,118)"/><stop offset="0.72" stop-color="rgb(105,105,105)"/><stop offset="1" stop-color="rgb(88,88,88)"/></radialGradient><radialGradient id="cg12" cx="0.47" cy="0.45" r="0.6"><stop offset="0" stop-color="rgb(121,121,121)"/><stop offset="0.72" stop-color="rgb(107,107,107)"/><stop offset="1" stop-color="rgb(90,90,90)"/></radialGradient><radialGradient id="cg13" cx="0.47" cy="0.45" r="0.6"><stop offset="0" stop-color="rgb(114,114,114)"/><stop offset="0.72" stop-color="rgb(102,102,102)"/><stop offset="1" stop-color="rgb(86,86,86)"/></radialGradient><radialGradient id="cg14" cx="0.47" cy="0.45" r="0.6"><stop offset="0" stop-color="rgb(112,112,112)"/><stop offset="0.72" stop-color="rgb(100,100,100)"/><stop offset="1" stop-color="rgb(85,85,85)"/></radialGradient><radialGradient id="cg15" cx="0.47" cy="0.45" r="0.6"><stop offset="0" stop-color="rgb(137,137,137)"/><stop offset="0.72" stop-color="rgb(116,116,116)"/><stop offset="1" stop-color="rgb(91,91,91)"/></radialGradient><radialGradient id="cg16" cx="0.47" cy="0.45" r="0.6"><stop offset="0" stop-color="rgb(121,121,121)"/><stop offset="0.72" stop-color="rgb(107,107,107)"/><stop offset="1" stop-color="rgb(90,90,90)"/></radialGradient><radialGradient id="cg17" cx="0.47" cy="0.45" r="0.6"><stop offset="0" stop-color="rgb(118,118,118)"/><stop offset="0.72" stop-color="rgb(105,105,105)"/><stop offset="1" stop-color="rgb(88,88,88)"/></radialGradient><radialGradient id="cg18" cx="0.47" cy="0.45" r="0.6"><stop offset="0" stop-color="rgb(123,123,123)"/><stop offset="0.72" stop-color="rgb(109,109,109)"/><stop offset="1" stop-color="rgb(91,91,91)"/></radialGradient><radialGradient id="cg19" cx="0.47" cy="0.45" r="0.6"><stop offset="0" stop-color="rgb(119,119,119)"/><stop offset="0.72" stop-color="rgb(105,105,105)"/><stop offset="1" stop-color="rgb(88,88,88)"/></radialGradient><radialGradient id="cg20" cx="0.47" cy="0.45" r="0.6"><stop offset="0" stop-color="rgb(126,126,126)"/><stop offset="0.72" stop-color="rgb(111,111,111)"/><stop offset="1" stop-color="rgb(93,93,93)"/></radialGradient><radialGradient id="cg21" cx="0.47" cy="0.45" r="0.6"><stop offset="0" stop-color="rgb(113,113,113)"/><stop offset="0.72" stop-color="rgb(101,101,101)"/><stop offset="1" stop-color="rgb(85,85,85)"/></radialGradient><radialGradient id="cg22" cx="0.47" cy="0.45" r="0.6"><stop offset="0" stop-color="rgb(119,119,119)"/><stop offset="0.72" stop-color="rgb(105,105,105)"/><stop offset="1" stop-color="rgb(89,89,89)"/></radialGradient><radialGradient id="cg23" cx="0.47" cy="0.45" r="0.6"><stop offset="0" stop-color="rgb(118,118,118)"/><stop offset="0.72" stop-color="rgb(104,104,104)"/><stop offset="1" stop-color="rgb(88,88,88)"/></radialGradient><radialGradient id="cg24" cx="0.47" cy="0.45" r="0.6"><stop offset="0" stop-color="rgb(116,116,116)"/><stop offset="0.72" stop-color="rgb(103,103,103)"/><stop offset="1" stop-color="rgb(87,87,87)"/></radialGradient><radialGradient id="cg25" cx="0.47" cy="0.45" r="0.6"><stop offset="0" stop-color="rgb(119,119,119)"/><stop offset="0.72" stop-color="rgb(106,106,106)"/><stop offset="1" stop-color="rgb(89,89,89)"/></radialGradient><radialGradient id="cg26" cx="0.47" cy="0.45" r="0.6"><stop offset="0" stop-color="rgb(114,114,114)"/><stop offset="0.72" stop-color="rgb(101,101,101)"/><stop offset="1" stop-color="rgb(85,85,85)"/></radialGradient><radialGradient id="cg27" cx="0.47" cy="0.45" r="0.6"><stop offset="0" stop-color="rgb(123,123,123)"/><stop offset="0.72" stop-color="rgb(108,108,108)"/><stop offset="1" stop-color="rgb(91,91,91)"/></radialGradient><radialGradient id="cg28" cx="0.47" cy="0.45" r="0.6"><stop offset="0" stop-color="rgb(124,124,124)"/><stop offset="0.72" stop-color="rgb(109,109,109)"/><stop offset="1" stop-color="rgb(92,92,92)"/></radialGradient><radialGradient id="cg29" cx="0.47" cy="0.45" r="0.6"><stop offset="0" stop-color="rgb(112,112,112)"/><stop offset="0.72" stop-color="rgb(100,100,100)"/><stop offset="1" stop-color="rgb(84,84,84)"/></radialGradient><radialGradient id="cg30" cx="0.47" cy="0.45" r="0.6"><stop offset="0" stop-color="rgb(117,117,117)"/><stop offset="0.72" stop-color="rgb(104,104,104)"/><stop offset="1" stop-color="rgb(88,88,88)"/></radialGradient><radialGradient id="cg31" cx="0.47" cy="0.45" r="0.6"><stop offset="0" stop-color="rgb(114,114,114)"/><stop offset="0.72" stop-color="rgb(102,102,102)"/><stop offset="1" stop-color="rgb(86,86,86)"/></radialGradient><radialGradient id="cg32" cx="0.47" cy="0.45" r="0.6"><stop offset="0" stop-color="rgb(111,111,111)"/><stop offset="0.72" stop-color="rgb(99,99,99)"/><stop offset="1" stop-color="rgb(84,84,84)"/></radialGradient><radialGradient id="cg33" cx="0.47" cy="0.45" r="0.6"><stop offset="0" stop-color="rgb(124,124,124)"/><stop offset="0.72" stop-color="rgb(110,110,110)"/><stop offset="1" stop-color="rgb(92,92,92)"/></radialGradient><radialGradient id="cg34" cx="0.47" cy="0.45" r="0.6"><stop offset="0" stop-color="rgb(117,117,117)"/><stop offset="0.72" stop-color="rgb(104,104,104)"/><stop offset="1" stop-color="rgb(87,87,87)"/></radialGradient><radialGradient id="cg35" cx="0.47" cy="0.45" r="0.6"><stop offset="0" stop-color="rgb(112,112,112)"/><stop offset="0.72" stop-color="rgb(100,100,100)"/><stop offset="1" stop-color="rgb(85,85,85)"/></radialGradient><radialGradient id="cg36" cx="0.47" cy="0.45" r="0.6"><stop offset="0" stop-color="rgb(135,135,135)"/><stop offset="0.72" stop-color="rgb(114,114,114)"/><stop offset="1" stop-color="rgb(90,90,90)"/></radialGradient><radialGradient id="cg37" cx="0.47" cy="0.45" r="0.6"><stop offset="0" stop-color="rgb(113,113,113)"/><stop offset="0.72" stop-color="rgb(101,101,101)"/><stop offset="1" stop-color="rgb(85,85,85)"/></radialGradient><radialGradient id="cg38" cx="0.47" cy="0.45" r="0.6"><stop offset="0" stop-color="rgb(124,124,124)"/><stop offset="0.72" stop-color="rgb(110,110,110)"/><stop offset="1" stop-color="rgb(92,92,92)"/></radialGradient><radialGradient id="cg39" cx="0.47" cy="0.45" r="0.6"><stop offset="0" stop-color="rgb(113,113,113)"/><stop offset="0.72" stop-color="rgb(101,101,101)"/><stop offset="1" stop-color="rgb(85,85,85)"/></radialGradient><radialGradient id="cg40" cx="0.47" cy="0.45" r="0.6"><stop offset="0" stop-color="rgb(111,111,111)"/><stop offset="0.72" stop-color="rgb(98,98,98)"/><stop offset="1" stop-color="rgb(84,84,84)"/></radialGradient><radialGradient id="cg41" cx="0.47" cy="0.45" r="0.6"><stop offset="0" stop-color="rgb(113,113,113)"/><stop offset="0.72" stop-color="rgb(101,101,101)"/><stop offset="1" stop-color="rgb(85,85,85)"/></radialGradient><radialGradient id="cg42" cx="0.47" cy="0.45" r="0.6"><stop offset="0" stop-color="rgb(116,116,116)"/><stop offset="0.72" stop-color="rgb(102,102,102)"/><stop offset="1" stop-color="rgb(87,87,87)"/></radialGradient><radialGradient id="cg43" cx="0.47" cy="0.45" r="0.6"><stop offset="0" stop-color="rgb(118,118,118)"/><stop offset="0.72" stop-color="rgb(104,104,104)"/><stop offset="1" stop-color="rgb(88,88,88)"/></radialGradient><radialGradient id="cg44" cx="0.47" cy="0.45" r="0.6"><stop offset="0" stop-color="rgb(124,124,124)"/><stop offset="0.72" stop-color="rgb(110,110,110)"/><stop offset="1" stop-color="rgb(92,92,92)"/></radialGradient><radialGradient id="cg45" cx="0.47" cy="0.45" r="0.6"><stop offset="0" stop-color="rgb(121,121,121)"/><stop offset="0.72" stop-color="rgb(107,107,107)"/><stop offset="1" stop-color="rgb(90,90,90)"/></radialGradient><radialGradient id="cg46" cx="0.47" cy="0.45" r="0.6"><stop offset="0" stop-color="rgb(115,115,115)"/><stop offset="0.72" stop-color="rgb(102,102,102)"/><stop offset="1" stop-color="rgb(86,86,86)"/></radialGradient><radialGradient id="cg47" cx="0.47" cy="0.45" r="0.6"><stop offset="0" stop-color="rgb(110,110,110)"/><stop offset="0.72" stop-color="rgb(98,98,98)"/><stop offset="1" stop-color="rgb(83,83,83)"/></radialGradient><radialGradient id="cg48" cx="0.47" cy="0.45" r="0.6"><stop offset="0" stop-color="rgb(113,113,113)"/><stop offset="0.72" stop-color="rgb(100,100,100)"/><stop offset="1" stop-color="rgb(85,85,85)"/></radialGradient><radialGradient id="cg49" cx="0.47" cy="0.45" r="0.6"><stop offset="0" stop-color="rgb(126,126,126)"/><stop offset="0.72" stop-color="rgb(111,111,111)"/><stop offset="1" stop-color="rgb(93,93,93)"/></radialGradient><radialGradient id="cg50" cx="0.47" cy="0.45" r="0.6"><stop offset="0" stop-color="rgb(117,117,117)"/><stop offset="0.72" stop-color="rgb(104,104,104)"/><stop offset="1" stop-color="rgb(88,88,88)"/></radialGradient><radialGradient id="cg51" cx="0.47" cy="0.45" r="0.6"><stop offset="0" stop-color="rgb(121,121,121)"/><stop offset="0.72" stop-color="rgb(107,107,107)"/><stop offset="1" stop-color="rgb(90,90,90)"/></radialGradient><radialGradient id="cg52" cx="0.47" cy="0.45" r="0.6"><stop offset="0" stop-color="rgb(111,111,111)"/><stop offset="0.72" stop-color="rgb(99,99,99)"/><stop offset="1" stop-color="rgb(84,84,84)"/></radialGradient><radialGradient id="cg53" cx="0.47" cy="0.45" r="0.6"><stop offset="0" stop-color="rgb(111,111,111)"/><stop offset="0.72" stop-color="rgb(98,98,98)"/><stop offset="1" stop-color="rgb(84,84,84)"/></radialGradient><radialGradient id="cg54" cx="0.47" cy="0.45" r="0.6"><stop offset="0" stop-color="rgb(124,124,124)"/><stop offset="0.72" stop-color="rgb(109,109,109)"/><stop offset="1" stop-color="rgb(91,91,91)"/></radialGradient><radialGradient id="cg55" cx="0.47" cy="0.45" r="0.6"><stop offset="0" stop-color="rgb(106,106,106)"/><stop offset="0.72" stop-color="rgb(95,95,95)"/><stop offset="1" stop-color="rgb(81,81,81)"/></radialGradient><radialGradient id="cg56" cx="0.47" cy="0.45" r="0.6"><stop offset="0" stop-color="rgb(112,112,112)"/><stop offset="0.72" stop-color="rgb(100,100,100)"/><stop offset="1" stop-color="rgb(84,84,84)"/></radialGradient><radialGradient id="cg57" cx="0.47" cy="0.45" r="0.6"><stop offset="0" stop-color="rgb(114,114,114)"/><stop offset="0.72" stop-color="rgb(101,101,101)"/><stop offset="1" stop-color="rgb(86,86,86)"/></radialGradient><radialGradient id="cb0"><stop offset="0" stop-color="#8e8e8e"/><stop offset="0.7" stop-color="#828282"/><stop offset="1" stop-color="#707070" stop-opacity="0"/></radialGradient><radialGradient id="cb1"><stop offset="0" stop-color="#8e8e8e"/><stop offset="0.7" stop-color="#828282"/><stop offset="1" stop-color="#707070" stop-opacity="0"/></radialGradient><filter id="cblur" x="-0.05" y="-0.05" width="1.1" height="1.1"><feGaussianBlur stdDeviation="9"/></filter></defs>
<g filter="url(#cblur)"><rect x="-60" y="-60" width="2221" height="1854" fill="#383838"/><path d="M-55,246 L-51,245 L-47,244 L-43,242 L-39,240 L-36,238 L101,133 L104,131 L107,128 L109,125 L112,122 L113,118 L115,115 L116,111 L117,107 L117,103 L126,-101 L126,-105 L125,-109 L125,-113 L123,-117 L122,-121 L120,-124 L117,-128 L115,-131 L112,-133 L109,-136 L105,-138 L102,-140 L98,-141 L94,-142 L90,-143 L86,-143 L-103,-143 L-107,-143 L-111,-142 L-115,-141 L-118,-140 L-122,-138 L-125,-136 L-128,-134 L-131,-131 L-134,-128 L-136,-125 L-138,-122 L-140,-118 L-141,-115 L-142,-111 L-143,-107 L-143,-103 L-143,211 L-143,215 L-142,219 L-141,223 L-140,227 L-138,230 L-136,234 L-134,237 L-131,240 L-128,242 L-125,245 L-121,247 L-118,248 L-114,250 L-110,251 L-106,251 L-102,251 L-98,251Z" fill="url(#cg0)"/><path d="M180,-143 L176,-143 L172,-142 L169,-141 L165,-140 L162,-139 L158,-137 L155,-134 L152,-132 L150,-129 L147,-126 L145,-123 L144,-120 L142,-116 L141,-112 L140,-109 L140,-105 L132,81 L132,85 L132,88 L133,92 L134,96 L136,99 L137,103 L139,106 L142,109 L145,112 L147,114 L151,116 L154,118 L157,120 L161,121 L165,122 L168,122 L241,129 L245,129 L249,129 L253,128 L257,127 L261,125 L264,124 L268,122 L271,119 L274,116 L276,113 L279,110 L280,107 L376,-85 L377,-89 L378,-92 L379,-96 L380,-100 L380,-104 L380,-108 L379,-112 L378,-115 L377,-119 L375,-122 L373,-126 L370,-129 L368,-132 L365,-134 L362,-136 L359,-138 L355,-140 L351,-141 L348,-142 L344,-143 L340,-143Z" fill="url(#cg1)"/><path d="M26,208 L23,211 L20,214 L18,217 L16,220 L14,224 L13,227 L12,231 L11,235 L11,239 L11,243 L11,247 L12,251 L13,254 L15,258 L17,261 L19,265 L22,268 L25,270 L28,273 L31,275 L35,277 L189,343 L192,345 L196,346 L200,346 L205,347 L209,346 L213,346 L217,345 L221,343 L287,314 L290,312 L294,310 L297,308 L300,305 L302,302 L304,299 L306,295 L308,292 L309,288 L310,284 L310,280 L310,276 L310,272 L309,268 L308,264 L276,170 L274,166 L273,163 L271,159 L268,156 L266,154 L263,151 L259,149 L256,147 L253,145 L249,144 L245,143 L241,143 L141,134 L137,134 L133,134 L130,134 L126,135 L122,137 L119,138 L116,140 L113,142Z" fill="url(#cg2)"/><path d="M500,-101 L500,-104 L500,-108 L499,-112 L498,-116 L496,-119 L495,-123 L493,-126 L490,-129 L488,-132 L485,-134 L482,-137 L478,-138 L475,-140 L471,-141 L467,-142 L464,-143 L460,-143 L445,-143 L441,-143 L437,-142 L433,-141 L429,-140 L426,-138 L422,-136 L419,-133 L416,-131 L413,-128 L411,-124 L409,-121 L288,124 L286,128 L285,131 L284,135 L283,139 L283,143 L284,147 L284,151 L285,155 L329,281 L330,284 L332,288 L334,291 L336,294 L339,296 L341,299 L344,301 L348,303 L351,305 L354,306 L358,307 L361,308 L365,309 L369,309 L373,309 L377,309 L380,308 L450,288 L453,287 L457,285 L460,284 L463,281 L466,279 L469,276 L471,273 L473,270 L475,267 L476,263 L478,260 L478,256 L479,252Z" fill="url(#cg3)"/><path d="M581,6 L579,3 L576,0 L573,-3 L570,-5 L567,-8 L564,-9 L560,-11 L556,-12 L553,-13 L549,-13 L545,-13 L541,-13 L537,-12 L533,-11 L530,-10 L526,-8 L523,-6 L520,-3 L517,-1 L514,2 L512,6 L510,9 L509,13 L508,17 L507,20 L506,24 L493,256 L492,260 L493,263 L494,267 L495,271 L496,275 L498,278 L500,281 L502,284 L505,287 L508,290 L511,292 L514,294 L618,347 L621,349 L625,350 L629,351 L633,351 L637,351 L641,351 L645,351 L648,350 L652,348 L656,346 L659,344 L714,306 L717,303 L720,300 L723,297 L725,294 L727,291 L729,287 L730,283 L731,279 L731,275 L731,272 L731,268 L730,264 L729,260 L727,256 L726,253Z" fill="url(#cg4)"/><path d="M579,-143 L575,-143 L571,-142 L567,-141 L564,-140 L560,-138 L556,-136 L553,-134 L550,-131 L548,-128 L545,-125 L543,-121 L542,-117 L541,-114 L540,-110 L539,-106 L539,-102 L539,-98 L540,-94 L541,-90 L543,-86 L545,-83 L707,193 L709,196 L712,200 L714,202 L717,205 L720,207 L724,209 L727,210 L731,212 L735,212 L739,213 L743,213 L747,213 L751,212 L754,211 L758,209 L761,208 L765,205 L768,203 L771,200 L773,197 L775,194 L777,191 L779,187 L780,183 L855,-92 L856,-96 L857,-100 L857,-104 L857,-108 L856,-112 L855,-115 L853,-119 L852,-122 L850,-126 L847,-129 L845,-132 L842,-134 L839,-136 L835,-138 L832,-140 L828,-141 L824,-142 L821,-143 L817,-143Z" fill="url(#cg5)"/><path d="M958,346 L961,347 L965,347 L969,348 L973,348 L977,347 L981,346 L985,345 L988,344 L992,342 L995,339 L998,337 L1001,334 L1003,331 L1005,328 L1007,324 L1009,320 L1010,317 L1033,215 L1033,211 L1034,207 L1033,203 L1033,200 L1032,196 L1031,193 L1030,189 L1028,186 L917,-6 L915,-9 L912,-13 L910,-15 L907,-18 L903,-20 L900,-22 L896,-24 L893,-25 L889,-26 L885,-26 L881,-26 L877,-26 L873,-25 L870,-24 L866,-23 L862,-21 L859,-19 L856,-16 L853,-14 L851,-11 L848,-7 L847,-4 L845,-0 L844,3 L778,244 L777,248 L777,252 L777,256 L777,260 L778,264 L779,268 L780,272 L782,275 L784,278 L787,281 L790,284 L793,287 L796,289 L800,291 L804,292Z" fill="url(#cg6)"/><path d="M923,-143 L919,-143 L915,-142 L911,-141 L908,-140 L904,-138 L901,-136 L897,-134 L895,-131 L892,-128 L890,-125 L888,-121 L886,-118 L885,-114 L884,-110 L883,-106 L883,-102 L884,-98 L884,-94 L885,-90 L887,-86 L889,-83 L1018,141 L1020,144 L1023,147 L1026,150 L1029,153 L1032,155 L1035,157 L1039,158 L1042,159 L1046,160 L1050,161 L1054,161 L1058,161 L1062,160 L1065,159 L1069,158 L1072,156 L1076,154 L1079,151 L1082,149 L1183,45 L1186,42 L1188,39 L1190,36 L1191,32 L1193,29 L1193,25 L1194,22 L1194,18 L1198,-102 L1198,-106 L1197,-110 L1197,-114 L1195,-117 L1194,-121 L1192,-125 L1189,-128 L1187,-131 L1184,-134 L1181,-136 L1177,-138 L1174,-140 L1170,-141 L1166,-142 L1162,-143 L1158,-143Z" fill="url(#cg7)"/><path d="M1032,281 L1031,284 L1031,288 L1031,292 L1032,296 L1032,300 L1034,304 L1035,307 L1037,311 L1039,314 L1042,317 L1045,319 L1048,322 L1051,324 L1054,326 L1085,340 L1085,340 L1152,369 L1153,370 L1221,397 L1222,398 L1223,398 L1224,399 L1257,425 L1258,426 L1259,428 L1262,430 L1265,433 L1269,435 L1272,437 L1276,438 L1279,439 L1283,440 L1287,440 L1291,440 L1295,440 L1298,439 L1364,423 L1367,422 L1371,420 L1375,418 L1378,416 L1381,413 L1384,411 L1386,408 L1388,404 L1390,401 L1392,397 L1393,394 L1437,215 L1438,211 L1439,207 L1439,203 L1438,199 L1437,195 L1436,191 L1434,187 L1432,183 L1430,180 L1428,177 L1425,174 L1423,171 L1420,169 L1416,167 L1229,60 L1225,59 L1222,57 L1218,56 L1214,55 L1210,55 L1206,55 L1202,56 L1198,57 L1194,58 L1190,60 L1187,62 L1184,65 L1181,67 L1058,194 L1055,196 L1053,199 L1051,202 L1050,206 L1048,209 L1047,213Z" fill="url(#cg8)"/><path d="M1367,122 L1370,124 L1374,126 L1378,127 L1382,127 L1385,128 L1389,128 L1393,127 L1397,126 L1401,125 L1404,123 L1408,121 L1411,119 L1414,117 L1417,114 L1419,111 L1421,107 L1423,104 L1424,100 L1425,96 L1426,92 L1426,88 L1430,-102 L1430,-106 L1429,-110 L1428,-114 L1427,-118 L1425,-121 L1423,-125 L1421,-128 L1418,-131 L1415,-134 L1412,-136 L1409,-138 L1405,-140 L1401,-141 L1398,-142 L1394,-143 L1390,-143 L1252,-143 L1248,-143 L1244,-142 L1241,-141 L1237,-140 L1233,-138 L1230,-137 L1227,-134 L1224,-132 L1222,-129 L1219,-126 L1217,-123 L1215,-119 L1214,-116 L1213,-112 L1212,-108 L1212,-104 L1209,8 L1209,12 L1209,16 L1210,20 L1211,24 L1213,27 L1215,31 L1217,34 L1220,37 L1222,40 L1226,42 L1229,44Z" fill="url(#cg9)"/><path d="M1439,149 L1439,153 L1440,157 L1441,161 L1442,165 L1444,168 L1446,172 L1448,175 L1451,178 L1453,181 L1456,183 L1460,185 L1463,187 L1467,188 L1471,189 L1475,190 L1479,190 L1482,190 L1689,174 L1693,173 L1697,172 L1701,171 L1704,169 L1708,167 L1711,165 L1714,163 L1716,160 L1719,156 L1721,153 L1723,150 L1724,146 L1725,142 L1726,138 L1751,-99 L1752,-103 L1751,-107 L1751,-110 L1750,-114 L1749,-118 L1747,-122 L1745,-125 L1743,-128 L1740,-131 L1737,-134 L1734,-136 L1731,-138 L1727,-140 L1723,-141 L1719,-142 L1716,-143 L1712,-143 L1484,-143 L1480,-143 L1476,-142 L1472,-141 L1469,-140 L1465,-138 L1462,-136 L1459,-134 L1456,-132 L1453,-129 L1451,-126 L1449,-122 L1447,-119 L1446,-115 L1445,-111 L1444,-108 L1444,-104Z" fill="url(#cg10)"/><path d="M1737,162 L1737,166 L1737,170 L1738,173 L1738,177 L1740,181 L1741,184 L1743,188 L1821,310 L1824,314 L1826,317 L1829,319 L1832,322 L1836,324 L1839,326 L1843,327 L1847,328 L1851,329 L1854,329 L1858,329 L1862,328 L1922,317 L1926,316 L1930,315 L1933,313 L1937,311 L1940,309 L1943,307 L1945,304 L1948,301 L1950,297 L1951,294 L1953,290 L2074,-91 L2075,-95 L2076,-99 L2076,-103 L2076,-106 L2075,-110 L2074,-114 L2073,-118 L2071,-122 L2069,-125 L2067,-128 L2064,-131 L2061,-134 L2058,-136 L2055,-138 L2051,-140 L2048,-141 L2044,-142 L2040,-143 L2036,-143 L1806,-143 L1802,-143 L1798,-142 L1795,-141 L1791,-140 L1787,-138 L1784,-136 L1781,-134 L1778,-131 L1775,-129 L1773,-125 L1771,-122 L1769,-119 L1768,-115 L1767,-111 L1766,-107Z" fill="url(#cg11)"/><path d="M2190,404 L2193,405 L2197,406 L2201,407 L2205,407 L2209,406 L2212,406 L2216,405 L2220,404 L2223,402 L2227,400 L2230,397 L2233,395 L2235,392 L2237,389 L2239,385 L2241,382 L2242,378 L2243,374 L2244,371 L2244,367 L2244,-103 L2244,-107 L2243,-111 L2242,-115 L2241,-118 L2239,-122 L2237,-125 L2235,-128 L2232,-131 L2229,-134 L2226,-136 L2223,-138 L2219,-140 L2216,-141 L2212,-142 L2208,-143 L2204,-143 L2134,-143 L2131,-143 L2127,-142 L2123,-141 L2119,-140 L2116,-138 L2112,-136 L2109,-134 L2106,-132 L2104,-129 L2101,-126 L2099,-122 L2098,-119 L2096,-115 L1971,279 L1970,283 L1969,287 L1969,291 L1969,295 L1970,299 L1971,303 L1972,307 L1974,310 L1976,314 L1978,317 L1981,320 L1984,322 L1988,325 L1991,327 L1995,328Z" fill="url(#cg12)"/><path d="M197,389 L197,385 L197,381 L196,378 L194,374 L193,370 L191,367 L188,364 L186,361 L183,358 L180,356 L177,354 L173,352 L-33,263 L-37,261 L-41,260 L-45,260 L-49,259 L-53,260 L-108,266 L-112,267 L-115,268 L-119,269 L-122,271 L-126,273 L-129,275 L-132,278 L-134,281 L-136,284 L-138,287 L-140,291 L-141,294 L-142,298 L-143,302 L-143,306 L-143,560 L-143,564 L-142,568 L-141,571 L-140,575 L-138,579 L-136,582 L-134,585 L-132,588 L-129,591 L-126,593 L-123,595 L-119,597 L-115,598 L-112,599 L-108,600 L-104,600 L-100,600 L-96,600 L-93,599 L-89,598 L-85,596 L174,470 L178,468 L181,465 L184,463 L187,460 L189,457 L191,453 L193,450 L194,446 L196,442 L196,438 L196,434Z" fill="url(#cg13)"/><path d="M361,357 L360,353 L360,349 L359,345 L357,341 L355,338 L353,335 L351,332 L348,329 L345,326 L342,324 L339,322 L335,321 L331,319 L327,319 L324,318 L320,318 L316,318 L312,319 L308,320 L305,321 L235,352 L232,354 L228,356 L225,358 L223,361 L220,364 L218,367 L216,370 L214,373 L213,377 L212,381 L211,384 L211,388 L211,424 L211,428 L211,432 L212,436 L213,440 L215,443 L217,447 L219,450 L222,453 L225,456 L228,458 L231,460 L235,462 L239,463 L243,464 L316,479 L320,480 L324,480 L328,480 L332,479 L335,478 L339,477 L343,475 L346,473 L349,471 L352,468 L355,465 L357,462 L359,458 L361,454 L362,451 L363,447 L364,443 L364,439Z" fill="url(#cg14)"/><path d="M412,526 L415,528 L419,530 L422,532 L425,534 L429,535 L433,536 L437,536 L441,536 L444,536 L448,536 L452,535 L455,533 L459,532 L462,530 L465,527 L600,416 L603,413 L605,411 L608,407 L610,404 L611,400 L613,397 L613,393 L614,389 L614,385 L614,381 L613,377 L612,373 L611,370 L609,366 L607,363 L605,360 L602,357 L599,354 L596,352 L592,350 L497,301 L494,299 L490,298 L486,297 L483,296 L479,296 L475,296 L471,297 L468,298 L404,316 L400,317 L397,318 L393,320 L390,322 L387,325 L385,328 L382,331 L380,334 L378,337 L377,341 L376,344 L375,348 L375,352 L375,356 L379,478 L379,482 L380,486 L381,490 L383,494 L384,497 L386,500 L389,503 L392,506Z" fill="url(#cg15)"/><path d="M664,358 L661,360 L658,363 L655,366 L653,369 L651,373 L649,377 L648,380 L647,384 L647,388 L647,392 L647,396 L648,400 L649,404 L651,408 L725,565 L727,568 L729,572 L731,575 L734,577 L737,580 L741,582 L744,584 L748,585 L752,587 L756,587 L760,588 L764,588 L768,587 L880,568 L883,567 L887,566 L891,564 L894,563 L897,560 L900,558 L903,555 L905,552 L907,549 L909,546 L910,542 L912,539 L912,535 L913,531 L913,527 L910,415 L910,414 L910,413 L910,412 L910,412 L911,411 L911,410 L911,410 L912,409 L912,409 L913,409 L915,406 L918,403 L920,400 L922,396 L924,393 L925,389 L926,385 L927,381 L927,377 L926,373 L926,369 L924,365 L923,361 L921,358 L919,354 L916,351 L913,348 L910,346 L907,344 L903,342 L900,340 L778,298 L774,297 L770,297 L767,296 L763,296 L759,297 L755,297 L752,298 L748,300 L745,301 L742,303Z" fill="url(#cg16)"/><path d="M1405,481 L1406,477 L1405,473 L1405,469 L1403,465 L1402,461 L1400,458 L1398,455 L1396,451 L1393,449 L1390,446 L1386,444 L1383,442 L1379,440 L1376,439 L1372,438 L1368,438 L1364,438 L1360,438 L1356,439 L1299,454 L1295,455 L1291,456 L1288,458 L1285,460 L1282,463 L1279,465 L1276,468 L1274,471 L1272,475 L1271,478 L1270,482 L1269,486 L1268,490 L1268,494 L1269,497 L1269,498 L1269,500 L1269,500 L1269,502 L1267,514 L1267,518 L1267,522 L1268,526 L1269,530 L1270,533 L1272,537 L1274,541 L1276,544 L1279,547 L1282,549 L1285,552 L1289,554 L1292,556 L1296,557 L1300,558 L1304,558 L1359,563 L1363,563 L1367,563 L1371,562 L1374,561 L1378,560 L1382,558 L1385,556 L1388,553 L1391,551 L1394,548 L1396,545 L1398,541 L1399,538 L1401,534 L1402,530 L1402,526Z" fill="url(#cg17)"/><path d="M1564,535 L1563,531 L1562,527 L1560,523 L1558,520 L1556,517 L1553,514 L1551,511 L1547,509 L1544,507 L1540,505 L1472,477 L1469,476 L1465,475 L1461,474 L1457,474 L1453,474 L1449,475 L1445,476 L1441,477 L1438,479 L1435,481 L1431,483 L1428,486 L1426,489 L1423,492 L1422,496 L1420,499 L1419,503 L1418,507 L1417,511 L1414,560 L1414,564 L1414,568 L1415,572 L1416,576 L1417,579 L1419,583 L1446,629 L1448,633 L1451,636 L1454,638 L1457,641 L1460,643 L1463,645 L1467,646 L1470,648 L1474,648 L1478,649 L1482,649 L1486,649 L1490,648 L1493,647 L1497,646 L1500,644 L1552,615 L1555,613 L1558,610 L1561,608 L1564,605 L1566,602 L1568,599 L1569,595 L1571,591 L1572,588 L1572,584 L1572,580 L1572,576 L1572,572Z" fill="url(#cg18)"/><path d="M1406,398 L1405,402 L1405,406 L1405,410 L1405,414 L1406,418 L1408,422 L1409,425 L1411,429 L1414,432 L1416,435 L1419,438 L1423,440 L1426,442 L1430,444 L1547,493 L1550,494 L1554,495 L1558,496 L1562,496 L1565,496 L1569,495 L1573,494 L1576,493 L1580,492 L1583,490 L1789,361 L1792,359 L1795,357 L1798,354 L1801,351 L1803,347 L1805,344 L1806,340 L1807,336 L1808,332 L1808,328 L1808,325 L1808,321 L1807,317 L1805,313 L1804,309 L1802,306 L1738,205 L1735,202 L1733,199 L1730,196 L1727,194 L1724,192 L1720,190 L1716,189 L1713,188 L1709,187 L1705,187 L1701,187 L1483,204 L1479,205 L1475,205 L1472,207 L1468,208 L1465,210 L1462,212 L1459,215 L1456,217 L1454,220 L1451,224 L1450,227 L1448,231 L1447,234Z" fill="url(#cg19)"/><path d="M1586,574 L1587,578 L1589,582 L1590,585 L1592,589 L1595,592 L1597,595 L1600,598 L1603,600 L1607,602 L1610,604 L1614,605 L1618,606 L1622,607 L1626,607 L1784,606 L1788,606 L1792,605 L1795,604 L1799,603 L1803,601 L1806,599 L1809,597 L1812,594 L1815,591 L1817,588 L1819,585 L1821,581 L1822,578 L1823,574 L1824,570 L1824,566 L1824,428 L1824,425 L1823,421 L1822,417 L1821,413 L1819,410 L1817,406 L1815,403 L1813,400 L1810,398 L1807,395 L1803,393 L1800,392 L1796,390 L1793,389 L1789,389 L1785,388 L1781,388 L1777,389 L1773,390 L1770,391 L1766,392 L1763,394 L1598,497 L1594,500 L1591,502 L1588,505 L1586,508 L1584,512 L1582,515 L1581,519 L1580,523 L1579,527 L1579,531 L1579,535 L1579,539Z" fill="url(#cg20)"/><path d="M1871,341 L1867,342 L1863,343 L1860,345 L1856,347 L1853,349 L1850,352 L1847,355 L1845,358 L1843,361 L1841,365 L1840,369 L1839,372 L1838,376 L1838,380 L1838,599 L1838,603 L1838,607 L1839,610 L1840,614 L1842,617 L1844,621 L1887,689 L1890,692 L1892,695 L1895,698 L1898,700 L1901,702 L1904,704 L1908,705 L1911,707 L1915,707 L2198,752 L2202,752 L2205,752 L2209,752 L2213,751 L2217,750 L2220,749 L2224,747 L2227,745 L2230,743 L2233,740 L2235,737 L2238,734 L2239,731 L2241,727 L2242,724 L2243,720 L2244,716 L2244,712 L2244,468 L2244,464 L2243,460 L2242,456 L2241,452 L2239,448 L2237,445 L2235,442 L2232,439 L2229,436 L2226,434 L2222,432 L2218,430 L1961,330 L1957,329 L1954,328 L1950,328 L1946,328 L1943,328 L1939,328Z" fill="url(#cg21)"/><path d="M-110,624 L-114,625 L-117,628 L-120,630 L-122,633 L-125,636 L-127,639 L-129,643 L-130,646 L-131,650 L-132,654 L-133,657 L-133,661 L-132,665 L-132,669 L-130,673 L-129,676 L-127,680 L-125,683 L-123,686 L-120,689 L-117,691 L-114,693 L-111,695 L-107,697 L336,866 L339,868 L343,869 L347,869 L351,869 L355,869 L358,868 L362,867 L366,866 L369,864 L373,862 L376,860 L378,857 L381,854 L383,851 L385,848 L387,844 L388,841 L389,837 L390,833 L416,569 L416,565 L416,561 L415,557 L414,553 L412,549 L411,546 L409,542 L406,539 L403,536 L378,512 L375,510 L372,508 L369,506 L365,504 L362,503 L358,502 L217,473 L214,473 L210,473 L206,473 L202,473 L199,474 L195,475 L192,477Z" fill="url(#cg22)"/><path d="M509,509 L507,512 L504,515 L502,518 L500,521 L498,525 L497,528 L496,532 L495,536 L495,540 L495,544 L496,548 L497,552 L498,555 L500,559 L502,562 L504,566 L507,568 L510,571 L513,573 L640,655 L643,657 L647,658 L650,660 L654,660 L658,661 L662,661 L666,661 L670,660 L673,659 L677,658 L681,656 L684,654 L687,652 L690,649 L693,646 L712,622 L714,619 L716,615 L718,612 L719,608 L720,604 L720,600 L720,596 L720,592 L719,588 L718,584 L716,580 L656,452 L654,449 L652,446 L650,443 L647,440 L644,438 L641,435 L638,434 L634,432 L631,431 L627,430 L623,429 L619,429 L615,430 L612,430 L608,431 L604,433 L601,434 L598,436 L595,439Z" fill="url(#cg23)"/><path d="M401,861 L401,865 L401,869 L402,873 L403,877 L404,881 L406,884 L408,888 L411,891 L413,894 L417,896 L420,899 L423,901 L427,902 L431,904 L494,919 L497,920 L501,920 L505,920 L509,920 L513,919 L517,918 L520,917 L524,915 L527,913 L530,910 L533,907 L535,904 L538,901 L586,821 L589,817 L629,768 L632,765 L634,761 L635,758 L652,718 L653,715 L654,711 L655,707 L655,703 L655,699 L654,695 L653,691 L652,687 L650,684 L648,680 L645,677 L643,674 L640,672 L636,669 L488,574 L484,572 L481,570 L477,569 L473,568 L470,567 L466,567 L462,567 L458,568 L454,569 L451,570 L447,572 L444,574 L441,576 L438,579 L435,582 L433,585 L431,588 L429,592 L428,596 L427,599 L426,603Z" fill="url(#cg24)"/><path d="M1148,694 L1145,696 L1142,698 L1139,701 L1136,703 L1133,707 L1131,710 L1130,713 L1128,717 L1127,721 L1126,725 L1126,729 L1126,733 L1127,736 L1127,740 L1128,743 L1129,747 L1131,751 L1133,754 L1135,757 L1138,760 L1140,763 L1143,765 L1147,767 L1150,769 L1182,783 L1184,784 L1262,813 L1263,814 L1264,814 L1264,815 L1265,815 L1266,816 L1305,862 L1308,865 L1311,868 L1314,870 L1318,872 L1321,873 L1325,875 L1329,876 L1333,876 L1337,876 L1341,876 L1345,875 L1369,868 L1373,867 L1377,866 L1380,864 L1383,862 L1386,859 L1389,856 L1392,853 L1394,850 L1396,846 L1397,843 L1450,691 L1451,687 L1452,683 L1452,679 L1452,676 L1452,672 L1451,668 L1450,664 L1448,661 L1447,657 L1412,598 L1410,595 L1407,592 L1405,589 L1402,587 L1399,585 L1395,583 L1392,581 L1388,580 L1384,579 L1381,579 L1299,572 L1295,572 L1291,572 L1287,573 L1283,574 L1279,575 L1276,577 L1272,579 L1269,582 L1266,584 L1264,587 L1262,591 L1260,594 L1258,598 L1257,601 L1257,602 L1256,603 L1256,603 L1256,604 L1255,605 L1206,664 L1205,665 L1204,665 L1204,666 L1202,667Z" fill="url(#cg25)"/><path d="M1608,652 L1606,649 L1605,645 L1602,642 L1600,639 L1597,637 L1594,634 L1591,632 L1588,630 L1584,629 L1581,628 L1577,627 L1573,626 L1569,626 L1565,627 L1562,627 L1558,628 L1554,630 L1551,632 L1483,670 L1479,672 L1476,675 L1473,678 L1470,681 L1468,684 L1466,688 L1464,692 L1415,833 L1414,836 L1414,840 L1413,844 L1413,848 L1414,851 L1414,855 L1415,859 L1417,862 L1419,866 L1421,869 L1423,872 L1426,875 L1428,877 L1432,879 L1435,881 L1476,902 L1479,904 L1483,905 L1487,906 L1490,907 L1494,907 L1498,907 L1502,906 L1505,905 L1643,864 L1646,863 L1650,861 L1653,859 L1656,857 L1659,854 L1662,851 L1664,848 L1666,845 L1668,842 L1669,838 L1670,834 L1671,830 L1671,827 L1671,823 L1670,819 L1670,815 L1668,811Z" fill="url(#cg26)"/><path d="M1754,866 L1757,867 L1761,868 L1765,868 L1769,868 L1773,867 L1777,866 L1781,865 L1784,863 L1788,861 L1791,858 L1794,855 L1796,852 L1799,849 L1871,732 L1873,729 L1875,725 L1876,721 L1877,717 L1877,713 L1877,709 L1877,705 L1876,701 L1875,697 L1873,693 L1871,690 L1839,639 L1836,635 L1834,632 L1831,629 L1828,627 L1824,625 L1820,623 L1817,622 L1813,621 L1809,620 L1805,620 L1669,621 L1665,621 L1661,621 L1657,622 L1654,624 L1650,625 L1647,627 L1644,629 L1641,632 L1638,635 L1636,638 L1634,641 L1632,645 L1631,648 L1630,652 L1629,656 L1629,660 L1629,663 L1629,667 L1630,671 L1631,675 L1691,832 L1693,835 L1695,839 L1697,842 L1700,845 L1703,848 L1706,851 L1710,853 L1714,855 L1717,856Z" fill="url(#cg27)"/><path d="M1869,981 L1873,983 L1877,984 L1881,984 L1885,984 L1889,984 L1893,984 L2212,919 L2216,918 L2219,917 L2223,915 L2226,913 L2229,911 L2232,908 L2235,905 L2237,902 L2239,899 L2241,895 L2242,891 L2243,888 L2244,884 L2244,880 L2244,807 L2244,803 L2243,799 L2242,796 L2241,792 L2239,788 L2237,785 L2234,781 L2232,779 L2229,776 L2225,774 L2222,772 L2218,770 L2214,769 L2210,768 L1923,723 L1919,722 L1915,722 L1911,723 L1907,723 L1903,724 L1900,726 L1896,728 L1893,730 L1890,732 L1887,735 L1885,738 L1882,741 L1804,867 L1802,870 L1800,874 L1799,878 L1798,882 L1798,886 L1798,890 L1799,894 L1799,898 L1801,902 L1818,947 L1820,950 L1822,954 L1824,957 L1827,960 L1830,963 L1833,965 L1836,967 L1840,969Z" fill="url(#cg28)"/><path d="M-143,1193 L-143,1197 L-142,1201 L-141,1205 L-140,1208 L-138,1212 L-136,1215 L-134,1218 L-131,1221 L-128,1224 L-125,1226 L-122,1228 L-118,1230 L-115,1231 L-111,1232 L-107,1233 L-103,1233 L180,1234 L183,1234 L187,1233 L191,1232 L195,1231 L198,1229 L202,1227 L205,1225 L208,1223 L210,1220 L213,1217 L215,1213 L366,942 L367,938 L369,934 L370,931 L370,927 L371,923 L370,919 L370,915 L369,911 L368,907 L366,903 L364,900 L361,897 L358,894 L355,891 L352,889 L349,887 L345,885 L-89,719 L-92,718 L-96,717 L-100,716 L-104,716 L-108,717 L-112,717 L-115,718 L-119,720 L-122,721 L-126,723 L-129,726 L-132,728 L-134,731 L-136,734 L-138,738 L-140,741 L-141,745 L-142,749 L-143,752 L-143,756Z" fill="url(#cg29)"/><path d="M228,1218 L226,1221 L225,1225 L224,1229 L223,1232 L223,1236 L223,1240 L224,1244 L224,1247 L225,1251 L227,1255 L229,1258 L231,1261 L271,1315 L273,1318 L276,1321 L279,1323 L282,1325 L285,1327 L288,1328 L292,1330 L296,1331 L299,1331 L432,1343 L436,1343 L440,1343 L443,1343 L447,1342 L451,1340 L454,1339 L458,1337 L461,1334 L464,1332 L545,1251 L548,1248 L551,1245 L553,1241 L555,1238 L556,1234 L557,1230 L557,1226 L557,1222 L557,1217 L553,1189 L553,1187 L531,1076 L530,1072 L529,1069 L494,981 L493,979 L493,978 L493,977 L493,977 L493,976 L493,974 L494,973 L494,969 L495,965 L494,961 L494,957 L493,953 L491,949 L489,945 L487,942 L485,939 L482,936 L479,933 L475,931 L472,929 L468,928 L464,926 L429,917 L425,917 L421,916 L417,916 L413,917 L409,918 L405,919 L402,920 L398,922 L395,925 L392,927 L389,930 L387,933 L384,937Z" fill="url(#cg30)"/><path d="M1347,1150 L1347,1154 L1347,1158 L1348,1162 L1349,1166 L1350,1169 L1352,1173 L1354,1176 L1356,1179 L1359,1182 L1362,1185 L1365,1187 L1369,1189 L1372,1191 L1376,1192 L1380,1193 L1384,1193 L1388,1194 L1392,1193 L1395,1193 L1399,1192 L1403,1190 L1407,1188 L1531,1118 L1534,1116 L1537,1114 L1540,1111 L1543,1108 L1545,1105 L1547,1102 L1548,1098 L1550,1094 L1550,1091 L1551,1087 L1551,1083 L1551,1079 L1550,1075 L1549,1071 L1548,1067 L1490,935 L1488,932 L1486,929 L1483,925 L1481,923 L1478,920 L1475,918 L1471,916 L1408,883 L1404,882 L1400,880 L1396,879 L1392,879 L1388,879 L1384,879 L1380,880 L1356,886 L1353,888 L1349,889 L1345,891 L1342,893 L1339,896 L1336,899 L1334,902 L1332,905 L1330,909 L1328,913 L1327,917 L1327,921 L1326,925 L1327,929 L1327,933 L1328,936 L1337,965 L1337,965 L1357,1039 L1357,1041 L1357,1041 L1357,1042 L1357,1044Z" fill="url(#cg31)"/><path d="M1788,984 L1791,981 L1793,979 L1796,975 L1798,972 L1799,969 L1801,965 L1802,961 L1802,957 L1803,954 L1802,950 L1802,946 L1801,942 L1800,938 L1788,907 L1786,903 L1784,900 L1782,897 L1779,894 L1776,891 L1773,888 L1769,886 L1765,885 L1761,883 L1704,867 L1701,866 L1697,865 L1693,865 L1689,865 L1685,866 L1682,867 L1542,909 L1538,910 L1535,912 L1531,914 L1528,916 L1525,919 L1523,922 L1520,925 L1518,928 L1517,932 L1515,936 L1514,940 L1514,944 L1514,948 L1514,952 L1515,956 L1516,959 L1517,963 L1570,1083 L1571,1086 L1574,1090 L1576,1093 L1579,1096 L1582,1098 L1585,1100 L1589,1102 L1592,1104 L1604,1108 L1608,1109 L1611,1110 L1615,1111 L1619,1111 L1623,1111 L1626,1110 L1630,1109 L1634,1108 L1637,1106 L1640,1104 L1643,1102Z" fill="url(#cg32)"/><path d="M1842,985 L1838,984 L1835,983 L1831,982 L1827,982 L1823,982 L1819,983 L1815,984 L1811,985 L1808,987 L1804,989 L1801,991 L1656,1109 L1653,1112 L1650,1115 L1648,1118 L1646,1122 L1644,1125 L1643,1129 L1642,1133 L1642,1137 L1641,1141 L1642,1145 L1642,1149 L1643,1153 L1688,1293 L1689,1297 L1691,1300 L1693,1303 L1695,1306 L1698,1309 L1700,1312 L1703,1314 L1706,1315 L1709,1317 L1712,1319 L1716,1320 L1720,1322 L1723,1322 L1727,1322 L1731,1322 L1735,1322 L1739,1321 L1742,1320 L1746,1319 L1749,1317 L1931,1206 L1934,1204 L1937,1202 L1940,1199 L1942,1196 L1944,1193 L1946,1189 L1948,1186 L1949,1182 L1949,1178 L1950,1174 L1950,1170 L1950,1167 L1949,1163 L1948,1159 L1946,1155 L1881,1013 L1879,1010 L1877,1007 L1875,1004 L1873,1001 L1870,998 L1867,996 L1864,994 L1860,993Z" fill="url(#cg33)"/><path d="M2244,976 L2244,972 L2243,968 L2242,964 L2241,960 L2239,957 L2237,954 L2235,950 L2232,947 L2229,945 L2226,943 L2223,940 L2219,939 L2216,938 L2212,937 L2208,936 L2204,936 L2200,936 L2196,937 L1939,989 L1935,990 L1932,991 L1928,993 L1925,995 L1922,997 L1919,1000 L1916,1003 L1914,1006 L1912,1010 L1910,1013 L1909,1017 L1908,1021 L1907,1025 L1907,1029 L1908,1033 L1908,1037 L1909,1041 L1911,1044 L1966,1165 L1968,1169 L1970,1172 L1972,1175 L1975,1178 L1978,1180 L1981,1182 L1984,1184 L1988,1186 L1992,1187 L1995,1188 L2197,1226 L2201,1226 L2204,1226 L2208,1226 L2212,1226 L2216,1225 L2220,1223 L2223,1222 L2226,1220 L2230,1217 L2232,1215 L2235,1212 L2237,1209 L2239,1205 L2241,1202 L2242,1198 L2243,1194 L2244,1190 L2244,1186Z" fill="url(#cg34)"/><path d="M263,1357 L264,1354 L264,1350 L265,1346 L265,1342 L264,1338 L264,1334 L263,1330 L261,1327 L259,1323 L257,1320 L216,1264 L213,1261 L210,1258 L207,1255 L203,1253 L200,1251 L196,1250 L192,1249 L188,1248 L184,1248 L-103,1247 L-107,1247 L-111,1248 L-115,1249 L-118,1250 L-122,1252 L-125,1254 L-128,1256 L-131,1259 L-134,1262 L-136,1265 L-138,1268 L-140,1272 L-141,1275 L-142,1279 L-143,1283 L-143,1287 L-143,1465 L-143,1469 L-142,1473 L-141,1476 L-140,1480 L-138,1484 L-136,1487 L-134,1490 L-131,1493 L-128,1496 L-125,1498 L-122,1500 L-118,1502 L-115,1503 L-111,1504 L48,1536 L52,1537 L56,1537 L59,1537 L63,1536 L67,1536 L70,1534 L74,1533 L212,1465 L215,1463 L218,1461 L221,1458 L224,1456 L226,1453 L229,1449 L230,1446 L232,1443Z" fill="url(#cg35)"/><path d="M337,1536 L340,1538 L343,1540 L347,1542 L351,1543 L355,1544 L359,1545 L363,1545 L366,1544 L370,1544 L374,1542 L378,1541 L381,1539 L385,1537 L388,1535 L391,1532 L456,1461 L459,1457 L461,1454 L463,1450 L465,1447 L466,1443 L467,1439 L467,1435 L467,1431 L466,1427 L466,1423 L455,1385 L454,1381 L452,1378 L450,1374 L448,1371 L445,1368 L442,1365 L439,1363 L435,1361 L432,1359 L428,1358 L424,1357 L420,1356 L313,1346 L309,1346 L305,1346 L301,1347 L297,1348 L293,1350 L290,1351 L286,1354 L283,1356 L280,1359 L278,1362 L275,1365 L273,1369 L272,1373 L250,1433 L249,1437 L248,1441 L248,1444 L248,1448 L248,1452 L249,1456 L250,1460 L251,1463 L253,1467 L255,1470 L257,1473 L260,1476 L263,1478Z" fill="url(#cg36)"/><path d="M703,1334 L702,1330 L702,1326 L700,1322 L699,1318 L697,1315 L695,1312 L692,1309 L689,1306 L686,1303 L683,1301 L604,1255 L600,1253 L597,1252 L593,1250 L589,1250 L585,1249 L581,1250 L577,1250 L573,1251 L569,1252 L565,1254 L562,1256 L559,1258 L556,1261 L478,1338 L475,1341 L473,1344 L471,1347 L469,1350 L468,1354 L467,1358 L466,1362 L466,1365 L466,1369 L466,1373 L467,1377 L481,1426 L482,1430 L484,1433 L486,1437 L488,1440 L490,1443 L493,1445 L496,1448 L499,1450 L578,1498 L581,1500 L585,1502 L589,1503 L593,1504 L597,1504 L601,1504 L605,1504 L609,1503 L613,1502 L617,1500 L620,1498 L624,1496 L691,1442 L694,1440 L697,1437 L699,1434 L701,1431 L703,1427 L704,1424 L705,1420 L706,1416 L706,1413 L706,1409Z" fill="url(#cg37)"/><path d="M720,1405 L721,1409 L721,1412 L722,1416 L724,1420 L726,1423 L728,1426 L730,1429 L733,1432 L736,1435 L739,1437 L742,1439 L804,1470 L808,1471 L812,1472 L815,1473 L819,1474 L823,1474 L827,1474 L831,1473 L835,1472 L839,1470 L842,1469 L845,1466 L918,1414 L921,1412 L924,1409 L926,1407 L928,1404 L930,1400 L932,1397 L933,1394 L934,1390 L949,1317 L950,1313 L950,1309 L950,1305 L949,1301 L948,1297 L947,1294 L946,1290 L944,1287 L941,1284 L939,1281 L936,1278 L933,1276 L930,1274 L926,1272 L923,1271 L919,1270 L915,1269 L911,1269 L907,1269 L903,1269 L900,1270 L896,1271 L803,1306 L802,1307 L801,1307 L801,1307 L799,1307 L757,1307 L753,1307 L749,1308 L745,1309 L742,1310 L738,1312 L735,1314 L731,1317 L728,1319 L726,1322 L724,1326 L722,1329 L720,1333 L719,1337 L718,1341 L717,1345 L717,1349Z" fill="url(#cg38)"/><path d="M996,1464 L999,1467 L1002,1469 L1005,1471 L1008,1473 L1012,1475 L1016,1476 L1020,1477 L1024,1477 L1028,1477 L1032,1477 L1035,1476 L1039,1475 L1043,1473 L1046,1471 L1050,1469 L1053,1466 L1055,1464 L1058,1461 L1060,1457 L1090,1406 L1092,1403 L1093,1399 L1094,1396 L1095,1392 L1095,1388 L1095,1384 L1095,1380 L1094,1376 L1093,1373 L1092,1369 L1090,1366 L1066,1325 L1063,1321 L1061,1318 L1058,1315 L1055,1313 L1051,1310 L1048,1309 L1046,1308 L1019,1295 L1016,1293 L1012,1292 L1008,1291 L1005,1290 L1001,1290 L997,1291 L993,1291 L989,1292 L986,1294 L982,1295 L979,1297 L976,1300 L973,1302 L971,1305 L968,1308 L966,1311 L965,1315 L963,1318 L962,1322 L949,1387 L948,1391 L948,1395 L948,1399 L949,1402 L949,1406 L951,1410 L952,1413 L954,1416 L956,1419 L958,1422Z" fill="url(#cg39)"/><path d="M1305,1244 L1305,1245 L1304,1245 L1304,1246 L1302,1247 L1204,1296 L1202,1296 L1202,1297 L1201,1297 L1200,1297 L1135,1302 L1132,1303 L1128,1304 L1124,1305 L1121,1306 L1117,1308 L1114,1310 L1111,1313 L1108,1316 L1106,1319 L1104,1322 L1102,1325 L1101,1329 L1100,1333 L1099,1336 L1099,1340 L1099,1344 L1099,1348 L1100,1352 L1101,1355 L1102,1359 L1104,1362 L1105,1364 L1107,1367 L1109,1370 L1112,1373 L1115,1375 L1118,1377 L1122,1379 L1125,1381 L1129,1382 L1133,1383 L1330,1417 L1334,1417 L1338,1417 L1342,1417 L1346,1416 L1350,1415 L1353,1414 L1357,1412 L1367,1406 L1370,1404 L1373,1402 L1376,1399 L1379,1396 L1381,1393 L1383,1390 L1384,1386 L1386,1383 L1386,1379 L1387,1375 L1387,1371 L1387,1367 L1376,1265 L1376,1261 L1375,1258 L1373,1254 L1372,1250 L1370,1247 L1367,1244 L1365,1241 L1362,1238 L1358,1236 L1355,1234 L1351,1232 L1348,1231 L1344,1230 L1340,1230 L1336,1229 L1332,1230 L1328,1230 L1324,1231 L1321,1233 L1317,1235 L1314,1237 L1311,1239 L1308,1242Z" fill="url(#cg40)"/><path d="M1450,1410 L1454,1412 L1457,1412 L1461,1413 L1465,1413 L1469,1413 L1472,1412 L1476,1411 L1480,1410 L1483,1409 L1648,1323 L1651,1321 L1655,1318 L1658,1316 L1660,1313 L1663,1309 L1665,1306 L1667,1302 L1668,1299 L1669,1295 L1669,1291 L1670,1287 L1669,1283 L1669,1279 L1668,1275 L1627,1148 L1626,1144 L1624,1141 L1622,1137 L1619,1134 L1617,1131 L1613,1129 L1610,1126 L1607,1124 L1603,1123 L1589,1118 L1586,1117 L1582,1116 L1578,1115 L1574,1115 L1570,1116 L1566,1116 L1563,1117 L1559,1119 L1556,1120 L1408,1204 L1405,1206 L1402,1208 L1399,1211 L1397,1213 L1394,1217 L1392,1220 L1391,1223 L1390,1227 L1389,1231 L1388,1235 L1388,1239 L1388,1242 L1401,1368 L1402,1372 L1403,1376 L1404,1379 L1406,1383 L1408,1386 L1410,1389 L1413,1392 L1416,1395 L1419,1397 L1422,1399 L1426,1401Z" fill="url(#cg41)"/><path d="M1715,1467 L1718,1465 L1721,1463 L1724,1460 L1727,1457 L1729,1453 L1731,1450 L1733,1446 L1734,1442 L1735,1438 L1735,1434 L1735,1430 L1734,1426 L1723,1359 L1722,1355 L1721,1352 L1719,1348 L1717,1344 L1715,1341 L1712,1338 L1710,1335 L1706,1333 L1706,1332 L1702,1330 L1699,1329 L1695,1327 L1691,1326 L1687,1326 L1683,1325 L1679,1326 L1676,1326 L1672,1327 L1668,1328 L1664,1330 L1518,1406 L1514,1408 L1511,1411 L1508,1413 L1505,1416 L1503,1420 L1501,1423 L1499,1427 L1498,1430 L1497,1434 L1496,1438 L1496,1442 L1496,1446 L1497,1450 L1498,1454 L1499,1458 L1501,1461 L1503,1465 L1543,1522 L1545,1526 L1548,1528 L1551,1531 L1554,1533 L1558,1535 L1561,1537 L1565,1538 L1569,1539 L1573,1540 L1577,1540 L1581,1539 L1585,1539 L1588,1538 L1592,1536 L1596,1535Z" fill="url(#cg42)"/><path d="M1752,1446 L1753,1449 L1754,1452 L1755,1456 L1757,1459 L1759,1462 L1806,1529 L1808,1532 L1811,1535 L1814,1538 L1817,1540 L1820,1542 L1824,1544 L1827,1545 L1831,1546 L1835,1546 L1839,1547 L1842,1546 L2208,1513 L2212,1513 L2215,1512 L2219,1511 L2223,1509 L2226,1507 L2229,1505 L2232,1502 L2235,1499 L2237,1496 L2239,1492 L2241,1489 L2242,1485 L2243,1481 L2244,1477 L2244,1474 L2244,1282 L2244,1278 L2243,1274 L2242,1270 L2241,1267 L2239,1263 L2237,1260 L2235,1257 L2232,1254 L2229,1251 L2226,1249 L2223,1247 L2219,1245 L2215,1244 L2211,1243 L1986,1201 L1982,1200 L1978,1200 L1974,1200 L1970,1201 L1966,1202 L1962,1204 L1958,1206 L1758,1328 L1754,1330 L1751,1333 L1748,1336 L1746,1339 L1744,1342 L1742,1345 L1740,1349 L1739,1353 L1739,1357 L1738,1361 L1738,1365 L1739,1369Z" fill="url(#cg43)"/><path d="M1063,1480 L1061,1484 L1059,1488 L1058,1491 L1058,1495 L1057,1499 L1057,1504 L1058,1508 L1059,1511 L1060,1515 L1062,1519 L1064,1522 L1066,1526 L1069,1529 L1191,1651 L1194,1653 L1197,1656 L1200,1658 L1204,1659 L1208,1661 L1212,1662 L1216,1662 L1220,1662 L1223,1662 L1227,1662 L1231,1661 L1235,1659 L1239,1657 L1242,1655 L1245,1653 L1248,1650 L1251,1647 L1253,1644 L1255,1641 L1256,1637 L1318,1478 L1320,1474 L1321,1470 L1321,1466 L1321,1462 L1321,1458 L1320,1455 L1319,1451 L1318,1447 L1316,1444 L1314,1440 L1311,1437 L1309,1434 L1306,1432 L1303,1429 L1299,1428 L1295,1426 L1292,1425 L1288,1424 L1141,1398 L1137,1398 L1133,1398 L1129,1398 L1125,1399 L1121,1400 L1117,1402 L1114,1403 L1110,1406 L1107,1408 L1104,1411 L1102,1414 L1099,1418Z" fill="url(#cg44)"/><path d="M844,1537 L845,1541 L846,1545 L848,1549 L850,1552 L853,1555 L856,1558 L859,1561 L862,1563 L866,1565 L869,1567 L873,1568 L924,1580 L928,1581 L932,1582 L936,1582 L939,1581 L943,1581 L947,1579 L951,1578 L954,1576 L957,1574 L960,1572 L963,1569 L993,1536 L996,1533 L998,1530 L1000,1527 L1001,1523 L1003,1519 L1003,1515 L1004,1511 L1004,1507 L1004,1503 L1003,1500 L1002,1496 L1000,1492 L998,1489 L996,1485 L994,1482 L960,1445 L957,1442 L954,1440 L951,1438 L948,1436 L944,1434 L940,1433 L937,1432 L933,1432 L929,1432 L925,1432 L921,1433 L917,1434 L914,1436 L910,1437 L907,1439 L855,1476 L852,1479 L850,1481 L847,1484 L845,1488 L843,1491 L841,1494 L840,1498 L839,1502 L839,1506 L839,1509 L839,1513 L840,1517Z" fill="url(#cg45)"/><path d="M626,1511 L623,1514 L621,1517 L618,1520 L616,1523 L614,1527 L613,1530 L612,1534 L611,1538 L611,1542 L611,1546 L625,1718 L625,1722 L626,1726 L628,1730 L629,1733 L631,1737 L634,1740 L636,1743 L639,1746 L642,1748 L646,1750 L649,1752 L653,1753 L657,1754 L661,1755 L665,1755 L669,1755 L673,1754 L677,1753 L680,1752 L684,1750 L687,1748 L690,1746 L693,1743 L696,1740 L824,1580 L826,1577 L828,1574 L830,1570 L831,1567 L832,1563 L832,1559 L832,1555 L832,1551 L832,1547 L824,1512 L823,1508 L822,1505 L820,1501 L818,1498 L815,1494 L813,1492 L810,1489 L806,1487 L803,1485 L738,1452 L735,1451 L731,1450 L727,1449 L724,1448 L720,1448 L716,1448 L712,1449 L709,1450 L705,1451 L702,1453 L699,1454 L695,1457Z" fill="url(#cg46)"/><path d="M579,1877 L583,1877 L586,1876 L590,1875 L594,1874 L597,1873 L600,1871 L604,1869 L606,1866 L609,1863 L611,1860 L613,1857 L615,1854 L617,1850 L618,1847 L619,1843 L620,1838 L620,1834 L620,1830 L597,1546 L597,1542 L596,1538 L595,1535 L593,1531 L591,1528 L589,1525 L587,1522 L584,1519 L581,1517 L578,1515 L509,1472 L505,1470 L502,1469 L498,1468 L494,1467 L490,1466 L486,1466 L482,1467 L478,1467 L475,1469 L471,1470 L467,1472 L464,1474 L461,1476 L458,1479 L387,1557 L384,1560 L382,1563 L380,1566 L379,1570 L377,1574 L377,1578 L376,1582 L376,1586 L377,1590 L415,1843 L416,1847 L418,1851 L419,1855 L421,1858 L423,1861 L426,1865 L429,1867 L432,1870 L436,1872 L439,1874 L443,1875 L447,1876 L451,1877 L455,1877Z" fill="url(#cg47)"/><path d="M362,1588 L362,1584 L360,1581 L359,1577 L357,1574 L355,1571 L353,1568 L350,1565 L347,1562 L251,1487 L248,1484 L244,1482 L240,1481 L236,1479 L232,1478 L228,1478 L224,1478 L220,1478 L216,1479 L212,1481 L209,1482 L102,1535 L99,1536 L96,1539 L93,1541 L90,1544 L88,1547 L86,1550 L84,1553 L82,1557 L81,1560 L80,1564 L80,1568 L80,1572 L80,1576 L81,1579 L82,1583 L170,1850 L171,1853 L173,1857 L175,1860 L177,1863 L180,1866 L183,1868 L186,1871 L189,1872 L193,1874 L196,1875 L200,1876 L204,1877 L208,1877 L360,1877 L364,1877 L368,1876 L371,1875 L375,1874 L378,1873 L382,1871 L385,1868 L388,1866 L390,1863 L393,1860 L395,1857 L396,1853 L398,1850 L399,1846 L400,1842 L400,1839 L400,1835 L399,1831Z" fill="url(#cg48)"/><path d="M970,1582 L967,1585 L965,1588 L963,1592 L962,1596 L961,1600 L960,1603 L959,1608 L959,1612 L960,1616 L998,1844 L999,1847 L1000,1851 L1002,1855 L1004,1858 L1006,1862 L1009,1865 L1012,1868 L1015,1870 L1018,1872 L1022,1874 L1026,1875 L1029,1876 L1033,1877 L1037,1877 L1209,1877 L1213,1877 L1217,1876 L1220,1875 L1224,1874 L1228,1872 L1231,1870 L1235,1867 L1237,1865 L1240,1862 L1242,1858 L1244,1855 L1246,1851 L1247,1847 L1248,1843 L1248,1839 L1248,1835 L1248,1831 L1232,1723 L1231,1719 L1230,1716 L1229,1713 L1228,1709 L1226,1706 L1223,1703 L1221,1701 L1063,1543 L1060,1540 L1057,1538 L1053,1535 L1050,1534 L1046,1532 L1042,1532 L1038,1531 L1034,1531 L1030,1531 L1026,1532 L1022,1533 L1019,1534 L1015,1536 L1012,1538 L1008,1541 L1006,1544Z" fill="url(#cg49)"/><path d="M1547,1877 L1551,1877 L1555,1876 L1559,1875 L1563,1874 L1566,1872 L1570,1870 L1573,1868 L1576,1865 L1579,1862 L1581,1859 L1583,1855 L1585,1852 L1586,1848 L1587,1844 L1587,1840 L1587,1836 L1587,1832 L1556,1574 L1555,1570 L1554,1567 L1553,1563 L1551,1560 L1549,1556 L1470,1441 L1467,1437 L1465,1435 L1462,1432 L1458,1430 L1455,1428 L1451,1426 L1416,1412 L1412,1411 L1408,1410 L1404,1409 L1400,1409 L1396,1409 L1392,1410 L1388,1411 L1384,1413 L1381,1414 L1363,1424 L1360,1427 L1357,1429 L1354,1432 L1352,1435 L1350,1438 L1348,1441 L1346,1445 L1248,1698 L1247,1701 L1246,1706 L1245,1710 L1245,1714 L1246,1718 L1264,1843 L1265,1847 L1266,1850 L1267,1854 L1269,1857 L1271,1860 L1273,1863 L1276,1866 L1279,1868 L1282,1871 L1285,1873 L1289,1874 L1292,1875 L1296,1876 L1300,1877 L1304,1877Z" fill="url(#cg50)"/><path d="M1766,1496 L1763,1493 L1760,1490 L1758,1488 L1754,1485 L1751,1483 L1747,1482 L1744,1481 L1740,1480 L1736,1479 L1732,1479 L1728,1479 L1724,1480 L1720,1481 L1717,1483 L1713,1484 L1592,1553 L1589,1555 L1586,1557 L1583,1560 L1580,1563 L1578,1566 L1576,1569 L1575,1573 L1573,1577 L1573,1580 L1572,1584 L1572,1588 L1572,1592 L1602,1842 L1603,1846 L1604,1849 L1605,1853 L1607,1856 L1609,1860 L1611,1863 L1614,1866 L1617,1868 L1620,1870 L1623,1872 L1627,1874 L1631,1875 L1634,1876 L1638,1877 L1642,1877 L1688,1877 L1692,1877 L1696,1876 L1699,1875 L1703,1874 L1707,1872 L1710,1870 L1713,1868 L1716,1865 L1719,1862 L1721,1859 L1723,1855 L1725,1852 L1726,1848 L1803,1575 L1804,1572 L1805,1568 L1805,1564 L1804,1560 L1804,1556 L1803,1552 L1801,1548 L1799,1545 L1797,1542Z" fill="url(#cg51)"/><path d="M1747,1826 L1746,1830 L1745,1834 L1745,1838 L1746,1842 L1746,1845 L1747,1849 L1749,1853 L1750,1856 L1752,1860 L1755,1863 L1757,1866 L1760,1868 L1763,1870 L1767,1872 L1770,1874 L1774,1875 L1778,1876 L1781,1877 L1785,1877 L2204,1877 L2208,1877 L2212,1876 L2216,1875 L2219,1874 L2223,1872 L2226,1870 L2229,1868 L2232,1865 L2235,1862 L2237,1859 L2239,1856 L2241,1852 L2242,1849 L2243,1845 L2244,1841 L2244,1837 L2244,1568 L2244,1564 L2243,1560 L2242,1556 L2241,1553 L2239,1549 L2237,1546 L2235,1543 L2232,1540 L2230,1537 L2226,1535 L2223,1533 L2220,1531 L2216,1530 L2212,1529 L2208,1528 L2204,1528 L2200,1528 L1849,1560 L1845,1560 L1841,1561 L1837,1563 L1833,1564 L1830,1566 L1827,1569 L1824,1572 L1821,1575 L1819,1578 L1817,1581 L1815,1585 L1814,1589Z" fill="url(#cg52)"/><path d="M656,1812 L654,1815 L652,1819 L650,1822 L649,1826 L648,1830 L648,1833 L648,1837 L648,1841 L648,1845 L649,1849 L651,1853 L652,1856 L654,1859 L657,1863 L659,1865 L662,1868 L665,1870 L669,1872 L672,1874 L676,1875 L680,1876 L684,1877 L688,1877 L942,1877 L946,1877 L950,1876 L953,1875 L957,1874 L961,1872 L964,1870 L967,1868 L970,1866 L973,1863 L975,1860 L977,1857 L979,1853 L980,1849 L981,1846 L982,1842 L982,1838 L982,1834 L982,1830 L947,1626 L947,1622 L945,1618 L944,1615 L942,1611 L940,1608 L937,1605 L935,1602 L932,1600 L928,1598 L925,1596 L921,1594 L918,1593 L871,1582 L867,1581 L863,1580 L859,1580 L855,1581 L852,1581 L848,1582 L845,1584 L841,1586 L838,1588 L835,1590 L832,1593 L830,1595Z" fill="url(#cg53)"/><path d="M109,1877 L113,1877 L117,1876 L121,1875 L124,1874 L128,1872 L131,1870 L135,1868 L137,1865 L140,1862 L142,1859 L144,1855 L146,1852 L147,1848 L148,1844 L149,1840 L149,1836 L149,1832 L148,1828 L147,1824 L64,1574 L63,1571 L61,1567 L59,1564 L57,1561 L54,1558 L52,1556 L48,1554 L45,1552 L42,1550 L38,1549 L34,1548 L-95,1522 L-99,1521 L-103,1521 L-107,1521 L-111,1522 L-115,1522 L-118,1524 L-122,1525 L-125,1527 L-128,1530 L-131,1532 L-134,1535 L-136,1539 L-138,1542 L-140,1545 L-141,1549 L-142,1553 L-143,1557 L-143,1561 L-143,1837 L-143,1841 L-142,1845 L-141,1849 L-140,1852 L-138,1856 L-136,1859 L-134,1862 L-131,1865 L-128,1868 L-125,1870 L-122,1872 L-118,1874 L-115,1875 L-111,1876 L-107,1877 L-103,1877Z" fill="url(#cg54)"/><path d="M932,583 L929,581 L925,580 L921,579 L917,578 L913,577 L909,577 L905,578 L758,603 L754,604 L750,605 L746,607 L742,609 L739,611 L736,614 L733,617 L686,677 L683,680 L682,683 L680,687 L646,769 L645,770 L645,771 L644,772 L601,825 L597,830 L518,961 L516,964 L515,968 L513,972 L513,976 L512,980 L512,984 L513,988 L514,992 L515,996 L543,1067 L544,1068 L544,1070 L567,1185 L567,1187 L569,1200 L570,1204 L571,1208 L572,1212 L574,1215 L576,1219 L579,1222 L582,1225 L585,1227 L588,1230 L688,1288 L691,1289 L695,1291 L699,1292 L704,1293 L708,1293 L791,1293 L795,1293 L799,1292 L802,1292 L806,1290 L915,1249 L918,1248 L922,1246 L925,1244 L928,1241 L930,1238 L933,1235 L935,1232 L937,1229 L938,1225 L939,1222 L958,1148 L958,1148 L983,1058 L983,1058 L1008,980 L1009,976 L1023,910 L1023,908 L1024,907 L1025,905 L1059,849 L1059,849 L1107,774 L1109,770 L1111,767 L1112,764 L1113,760 L1114,756 L1114,752 L1114,749 L1111,718 L1110,714 L1110,710 L1108,706 L1107,703 L1105,699 L1102,696 L1100,693 L1097,691 L1094,688 L1017,636 L1016,635Z" fill="url(#cg55)"/><path d="M927,543 L928,547 L928,550 L929,554 L931,558 L933,561 L935,565 L937,568 L940,571 L943,573 L946,575 L1023,624 L1024,624 L1103,678 L1106,680 L1110,681 L1113,683 L1117,684 L1121,684 L1125,685 L1129,685 L1132,684 L1136,683 L1140,682 L1143,680 L1188,658 L1192,656 L1195,654 L1198,651 L1201,648 L1236,606 L1238,603 L1240,600 L1242,596 L1243,593 L1244,589 L1245,585 L1254,505 L1255,502 L1255,498 L1254,495 L1249,451 L1248,447 L1247,443 L1245,440 L1244,436 L1242,433 L1239,430 L1237,427 L1234,425 L1220,414 L1217,411 L1214,410 L1210,408 L1148,383 L1147,382 L1079,352 L1079,352 L1055,341 L1051,340 L1047,339 L1043,338 L1039,338 L1035,338 L1031,338 L1027,339 L1024,340 L1020,342 L1016,344 L1013,346 L1010,349 L1007,352 L1006,354 L1005,355 L1003,356 L940,405 L937,407 L935,410 L932,413 L930,416 L928,419 L927,423 L926,427 L925,430 L925,434 L925,438Z" fill="url(#cg56)"/><path d="M1156,787 L1152,785 L1148,784 L1144,784 L1140,783 L1136,784 L1132,784 L1128,785 L1124,786 L1121,788 L1117,790 L1114,793 L1111,796 L1108,799 L1106,802 L1071,856 L1071,857 L1040,907 L1038,911 L1036,915 L1035,919 L1022,981 L1021,983 L997,1061 L997,1063 L972,1151 L972,1152 L956,1212 L955,1216 L955,1220 L955,1224 L955,1227 L956,1231 L957,1235 L959,1239 L960,1242 L962,1245 L965,1248 L968,1251 L971,1254 L974,1256 L977,1258 L1041,1290 L1045,1291 L1048,1293 L1052,1293 L1055,1294 L1059,1294 L1062,1294 L1190,1284 L1194,1283 L1198,1282 L1202,1281 L1205,1280 L1282,1241 L1285,1239 L1288,1237 L1291,1235 L1294,1232 L1297,1229 L1299,1225 L1300,1222 L1330,1154 L1332,1150 L1333,1146 L1334,1142 L1342,1050 L1342,1046 L1342,1043 L1342,1039 L1341,1036 L1323,970 L1323,968 L1296,878 L1295,875 L1293,871 L1291,867 L1288,864 L1263,834 L1260,831 L1257,828 L1253,826 L1250,824 L1246,822 L1178,797 L1177,796Z" fill="url(#cg57)"/><ellipse cx="1695" cy="90" rx="33.0" ry="39.0" fill="url(#cb0)"/><ellipse cx="1190" cy="740" rx="49.50000000000001" ry="58.5" fill="url(#cb1)"/><path d="M1116,695 L1122,764 L1065,853 L1030,910 L1015,980 L990,1060 L965,1150 L940,1247" fill="none" stroke="#121212" stroke-width="16" stroke-linecap="round" stroke-linejoin="round"/><path d="M1116,695 L1020,630 L921,568" fill="none" stroke="#1c1c1c" stroke-width="14" stroke-linecap="round" stroke-linejoin="round"/><path d="M921,568 L917,414 L1000,350 L1030,300 L1025,125" fill="none" stroke="#1e1e1e" stroke-width="14" stroke-linecap="round" stroke-linejoin="round"/><path d="M921,568 L739,599 L676,678 L639,767 L593,823" fill="none" stroke="#222222" stroke-width="13" stroke-linecap="round" stroke-linejoin="round"/><path d="M1023,325 L1082,346 L1150,376 L1219,404 L1253,431" fill="none" stroke="#303030" stroke-width="10" stroke-linecap="round" stroke-linejoin="round"/><path d="M165,488 L125,500 L30,545 L0,530" fill="none" stroke="#1e1e1e" stroke-width="13" stroke-linecap="round" stroke-linejoin="round"/><path d="M30,545 L50,700 L55,825" fill="none" stroke="#262626" stroke-width="12" stroke-linecap="round" stroke-linejoin="round"/><path d="M1820,300 L1830,620" fill="none" stroke="#262626" stroke-width="12" stroke-linecap="round" stroke-linejoin="round"/><path d="M1575,550 L1575,610 L1830,620" fill="none" stroke="#303030" stroke-width="10" stroke-linecap="round" stroke-linejoin="round"/><path d="M1830,620 L1850,625 L1900,715 L2100,740" fill="none" stroke="#2a2a2a" stroke-width="11" stroke-linecap="round" stroke-linejoin="round"/><path d="M500,977 L537,1070 L560,1187 L565,1224" fill="none" stroke="#262626" stroke-width="12" stroke-linecap="round" stroke-linejoin="round"/><path d="M565,1224 L695,1300 L800,1300 L940,1247" fill="none" stroke="#303030" stroke-width="10" stroke-linecap="round" stroke-linejoin="round"/><path d="M565,1222 L530,1267 L470,1347" fill="none" stroke="#333333" stroke-width="9" stroke-linecap="round" stroke-linejoin="round"/><path d="M210,1212 L270,1332 L450,1347" fill="none" stroke="#1e1e1e" stroke-width="12" stroke-linecap="round" stroke-linejoin="round"/><path d="M270,1332 L240,1467 L300,1517 L365,1567" fill="none" stroke="#262626" stroke-width="11" stroke-linecap="round" stroke-linejoin="round"/><path d="M940,1247 L1050,1302 L1120,1387" fill="none" stroke="#2c2c2c" stroke-width="10" stroke-linecap="round" stroke-linejoin="round"/><path d="M1630,1117 L1675,1292 L1725,1337 L1740,1417 L1760,1492" fill="none" stroke="#222222" stroke-width="12" stroke-linecap="round" stroke-linejoin="round"/><path d="M1300,867 L1330,967 L1350,1042" fill="none" stroke="#353535" stroke-width="9" stroke-linecap="round" stroke-linejoin="round"/><path d="M1975,1192 L2100,1207" fill="none" stroke="#333333" stroke-width="9" stroke-linecap="round" stroke-linejoin="round"/><path d="M1950,275 L2100,400" fill="none" stroke="#303030" stroke-width="10" stroke-linecap="round" stroke-linejoin="round"/><path d="M1400,340 L1420,440" fill="none" stroke="#303030" stroke-width="10" stroke-linecap="round" stroke-linejoin="round"/><path d="M1430,0 L1435,120" fill="none" stroke="#353535" stroke-width="9" stroke-linecap="round" stroke-linejoin="round"/><path d="M495,125 L485,225 L480,325" fill="none" stroke="#2a2a2a" stroke-width="11" stroke-linecap="round" stroke-linejoin="round"/><path d="M620,15 L620,65 L640,90" fill="none" stroke="#333333" stroke-width="9" stroke-linecap="round" stroke-linejoin="round"/><path d="M640,90 L690,190 L740,220" fill="none" stroke="#3a3a3a" stroke-width="8" stroke-linecap="round" stroke-linejoin="round"/><path d="M740,220 L750,285 L675,340 L600,430 L590,450" fill="none" stroke="#262626" stroke-width="12" stroke-linecap="round" stroke-linejoin="round"/><path d="M740,220 L800,190 L820,40" fill="none" stroke="#3a3a3a" stroke-width="8" stroke-linecap="round" stroke-linejoin="round"/><path d="M935,10 L975,100 L1025,125" fill="none" stroke="#353535" stroke-width="9" stroke-linecap="round" stroke-linejoin="round"/><path d="M435,545 L530,590 L600,640 L676,678" fill="none" stroke="#353535" stroke-width="9" stroke-linecap="round" stroke-linejoin="round"/><path d="M370,350 L370,465" fill="none" stroke="#3c3c3c" stroke-width="7" stroke-linecap="round" stroke-linejoin="round"/><path d="M370,465 L435,545" fill="none" stroke="#383838" stroke-width="8" stroke-linecap="round" stroke-linejoin="round"/><path d="M1253,431 L1400,440" fill="none" stroke="#383838" stroke-width="8" stroke-linecap="round" stroke-linejoin="round"/><path d="M1265,565 L1400,570" fill="none" stroke="#383838" stroke-width="8" stroke-linecap="round" stroke-linejoin="round"/><path d="M1400,440 L1420,475 L1550,490 L1580,500" fill="none" stroke="#383838" stroke-width="8" stroke-linecap="round" stroke-linejoin="round"/></g>
</svg>
<svg x="1234" y="1053" width="1165" height="964" viewBox="0 0 2101 1738" preserveAspectRatio="none">
<defs><radialGradient id="dg0" cx="0.47" cy="0.45" r="0.6"><stop offset="0" stop-color="rgb(154,154,154)"/><stop offset="0.72" stop-color="rgb(143,143,143)"/><stop offset="1" stop-color="rgb(129,129,129)"/></radialGradient><radialGradient id="dg1" cx="0.47" cy="0.45" r="0.6"><stop offset="0" stop-color="rgb(165,165,165)"/><stop offset="0.72" stop-color="rgb(152,152,152)"/><stop offset="1" stop-color="rgb(135,135,135)"/></radialGradient><radialGradient id="dg2" cx="0.47" cy="0.45" r="0.6"><stop offset="0" stop-color="rgb(153,153,153)"/><stop offset="0.72" stop-color="rgb(142,142,142)"/><stop offset="1" stop-color="rgb(128,128,128)"/></radialGradient><radialGradient id="dg3" cx="0.47" cy="0.45" r="0.6"><stop offset="0" stop-color="rgb(153,153,153)"/><stop offset="0.72" stop-color="rgb(142,142,142)"/><stop offset="1" stop-color="rgb(128,128,128)"/></radialGradient><radialGradient id="dg4" cx="0.47" cy="0.45" r="0.6"><stop offset="0" stop-color="rgb(156,156,156)"/><stop offset="0.72" stop-color="rgb(144,144,144)"/><stop offset="1" stop-color="rgb(130,130,130)"/></radialGradient><radialGradient id="dg5" cx="0.47" cy="0.45" r="0.6"><stop offset="0" stop-color="rgb(154,154,154)"/><stop offset="0.72" stop-color="rgb(142,142,142)"/><stop offset="1" stop-color="rgb(128,128,128)"/></radialGradient><radialGradient id="dg6" cx="0.47" cy="0.45" r="0.6"><stop offset="0" stop-color="rgb(161,161,161)"/><stop offset="0.72" stop-color="rgb(148,148,148)"/><stop offset="1" stop-color="rgb(133,133,133)"/></radialGradient><radialGradient id="dg7" cx="0.47" cy="0.45" r="0.6"><stop offset="0" stop-color="rgb(152,152,152)"/><stop offset="0.72" stop-color="rgb(141,141,141)"/><stop offset="1" stop-color="rgb(127,127,127)"/></radialGradient><radialGradient id="dg8" cx="0.47" cy="0.45" r="0.6"><stop offset="0" stop-color="rgb(164,164,164)"/><stop offset="0.72" stop-color="rgb(151,151,151)"/><stop offset="1" stop-color="rgb(135,135,135)"/></radialGradient><radialGradient id="dg9" cx="0.47" cy="0.45" r="0.6"><stop offset="0" stop-color="rgb(164,164,164)"/><stop offset="0.72" stop-color="rgb(151,151,151)"/><stop offset="1" stop-color="rgb(134,134,134)"/></radialGradient><radialGradient id="dg10" cx="0.47" cy="0.45" r="0.6"><stop offset="0" stop-color="rgb(150,150,150)"/><stop offset="0.72" stop-color="rgb(139,139,139)"/><stop offset="1" stop-color="rgb(126,126,126)"/></radialGradient><radialGradient id="dg11" cx="0.47" cy="0.45" r="0.6"><stop offset="0" stop-color="rgb(159,159,159)"/><stop offset="0.72" stop-color="rgb(146,146,146)"/><stop offset="1" stop-color="rgb(131,131,131)"/></radialGradient><radialGradient id="dg12" cx="0.47" cy="0.45" r="0.6"><stop offset="0" stop-color="rgb(152,152,152)"/><stop offset="0.72" stop-color="rgb(141,141,141)"/><stop offset="1" stop-color="rgb(127,127,127)"/></radialGradient><radialGradient id="dg13" cx="0.47" cy="0.45" r="0.6"><stop offset="0" stop-color="rgb(154,154,154)"/><stop offset="0.72" stop-color="rgb(143,143,143)"/><stop offset="1" stop-color="rgb(129,129,129)"/></radialGradient><radialGradient id="dg14" cx="0.47" cy="0.45" r="0.6"><stop offset="0" stop-color="rgb(157,157,157)"/><stop offset="0.72" stop-color="rgb(145,145,145)"/><stop offset="1" stop-color="rgb(130,130,130)"/></radialGradient><radialGradient id="dg15" cx="0.47" cy="0.45" r="0.6"><stop offset="0" stop-color="rgb(157,157,157)"/><stop offset="0.72" stop-color="rgb(145,145,145)"/><stop offset="1" stop-color="rgb(131,131,131)"/></radialGradient><radialGradient id="dg16" cx="0.47" cy="0.45" r="0.6"><stop offset="0" stop-color="rgb(157,157,157)"/><stop offset="0.72" stop-color="rgb(145,145,145)"/><stop offset="1" stop-color="rgb(131,131,131)"/></radialGradient><radialGradient id="dg17" cx="0.47" cy="0.45" r="0.6"><stop offset="0" stop-color="rgb(165,165,165)"/><stop offset="0.72" stop-color="rgb(151,151,151)"/><stop offset="1" stop-color="rgb(135,135,135)"/></radialGradient><radialGradient id="dg18" cx="0.47" cy="0.45" r="0.6"><stop offset="0" stop-color="rgb(154,154,154)"/><stop offset="0.72" stop-color="rgb(143,143,143)"/><stop offset="1" stop-color="rgb(129,129,129)"/></radialGradient><radialGradient id="dg19" cx="0.47" cy="0.45" r="0.6"><stop offset="0" stop-color="rgb(153,153,153)"/><stop offset="0.72" stop-color="rgb(142,142,142)"/><stop offset="1" stop-color="rgb(128,128,128)"/></radialGradient><radialGradient id="dg20" cx="0.47" cy="0.45" r="0.6"><stop offset="0" stop-color="rgb(161,161,161)"/><stop offset="0.72" stop-color="rgb(148,148,148)"/><stop offset="1" stop-color="rgb(133,133,133)"/></radialGradient><radialGradient id="dg21" cx="0.47" cy="0.45" r="0.6"><stop offset="0" stop-color="rgb(165,165,165)"/><stop offset="0.72" stop-color="rgb(152,152,152)"/><stop offset="1" stop-color="rgb(135,135,135)"/></radialGradient><radialGradient id="dg22" cx="0.47" cy="0.45" r="0.6"><stop offset="0" stop-color="rgb(165,165,165)"/><stop offset="0.72" stop-color="rgb(151,151,151)"/><stop offset="1" stop-color="rgb(135,135,135)"/></radialGradient><radialGradient id="dg23" cx="0.47" cy="0.45" r="0.6"><stop offset="0" stop-color="rgb(164,164,164)"/><stop offset="0.72" stop-color="rgb(151,151,151)"/><stop offset="1" stop-color="rgb(135,135,135)"/></radialGradient><radialGradient id="dg24" cx="0.47" cy="0.45" r="0.6"><stop offset="0" stop-color="rgb(151,151,151)"/><stop offset="0.72" stop-color="rgb(140,140,140)"/><stop offset="1" stop-color="rgb(127,127,127)"/></radialGradient><radialGradient id="dg25" cx="0.47" cy="0.45" r="0.6"><stop offset="0" stop-color="rgb(165,165,165)"/><stop offset="0.72" stop-color="rgb(152,152,152)"/><stop offset="1" stop-color="rgb(135,135,135)"/></radialGradient><radialGradient id="dg26" cx="0.47" cy="0.45" r="0.6"><stop offset="0" stop-color="rgb(160,160,160)"/><stop offset="0.72" stop-color="rgb(148,148,148)"/><stop offset="1" stop-color="rgb(132,132,132)"/></radialGradient><radialGradient id="dg27" cx="0.47" cy="0.45" r="0.6"><stop offset="0" stop-color="rgb(164,164,164)"/><stop offset="0.72" stop-color="rgb(151,151,151)"/><stop offset="1" stop-color="rgb(135,135,135)"/></radialGradient><radialGradient id="dg28" cx="0.47" cy="0.45" r="0.6"><stop offset="0" stop-color="rgb(157,157,157)"/><stop offset="0.72" stop-color="rgb(145,145,145)"/><stop offset="1" stop-color="rgb(130,130,130)"/></radialGradient><radialGradient id="dg29" cx="0.47" cy="0.45" r="0.6"><stop offset="0" stop-color="rgb(154,154,154)"/><stop offset="0.72" stop-color="rgb(142,142,142)"/><stop offset="1" stop-color="rgb(128,128,128)"/></radialGradient><radialGradient id="dg30" cx="0.47" cy="0.45" r="0.6"><stop offset="0" stop-color="rgb(163,163,163)"/><stop offset="0.72" stop-color="rgb(150,150,150)"/><stop offset="1" stop-color="rgb(134,134,134)"/></radialGradient><radialGradient id="dg31" cx="0.47" cy="0.45" r="0.6"><stop offset="0" stop-color="rgb(161,161,161)"/><stop offset="0.72" stop-color="rgb(148,148,148)"/><stop offset="1" stop-color="rgb(133,133,133)"/></radialGradient><radialGradient id="dg32" cx="0.47" cy="0.45" r="0.6"><stop offset="0" stop-color="rgb(162,162,162)"/><stop offset="0.72" stop-color="rgb(150,150,150)"/><stop offset="1" stop-color="rgb(134,134,134)"/></radialGradient><radialGradient id="dg33" cx="0.47" cy="0.45" r="0.6"><stop offset="0" stop-color="rgb(153,153,153)"/><stop offset="0.72" stop-color="rgb(142,142,142)"/><stop offset="1" stop-color="rgb(128,128,128)"/></radialGradient><radialGradient id="dg34" cx="0.47" cy="0.45" r="0.6"><stop offset="0" stop-color="rgb(152,152,152)"/><stop offset="0.72" stop-color="rgb(141,141,141)"/><stop offset="1" stop-color="rgb(127,127,127)"/></radialGradient><radialGradient id="dg35" cx="0.47" cy="0.45" r="0.6"><stop offset="0" stop-color="rgb(162,162,162)"/><stop offset="0.72" stop-color="rgb(149,149,149)"/><stop offset="1" stop-color="rgb(134,134,134)"/></radialGradient><radialGradient id="dg36" cx="0.47" cy="0.45" r="0.6"><stop offset="0" stop-color="rgb(150,150,150)"/><stop offset="0.72" stop-color="rgb(140,140,140)"/><stop offset="1" stop-color="rgb(126,126,126)"/></radialGradient><radialGradient id="dg37" cx="0.47" cy="0.45" r="0.6"><stop offset="0" stop-color="rgb(179,179,179)"/><stop offset="0.72" stop-color="rgb(159,159,159)"/><stop offset="1" stop-color="rgb(135,135,135)"/></radialGradient><radialGradient id="dg38" cx="0.47" cy="0.45" r="0.6"><stop offset="0" stop-color="rgb(152,152,152)"/><stop offset="0.72" stop-color="rgb(141,141,141)"/><stop offset="1" stop-color="rgb(127,127,127)"/></radialGradient><radialGradient id="dg39" cx="0.47" cy="0.45" r="0.6"><stop offset="0" stop-color="rgb(160,160,160)"/><stop offset="0.72" stop-color="rgb(147,147,147)"/><stop offset="1" stop-color="rgb(132,132,132)"/></radialGradient><radialGradient id="dg40" cx="0.47" cy="0.45" r="0.6"><stop offset="0" stop-color="rgb(157,157,157)"/><stop offset="0.72" stop-color="rgb(145,145,145)"/><stop offset="1" stop-color="rgb(130,130,130)"/></radialGradient><radialGradient id="dg41" cx="0.47" cy="0.45" r="0.6"><stop offset="0" stop-color="rgb(155,155,155)"/><stop offset="0.72" stop-color="rgb(144,144,144)"/><stop offset="1" stop-color="rgb(129,129,129)"/></radialGradient><radialGradient id="dg42" cx="0.47" cy="0.45" r="0.6"><stop offset="0" stop-color="rgb(153,153,153)"/><stop offset="0.72" stop-color="rgb(142,142,142)"/><stop offset="1" stop-color="rgb(128,128,128)"/></radialGradient><radialGradient id="dg43" cx="0.47" cy="0.45" r="0.6"><stop offset="0" stop-color="rgb(162,162,162)"/><stop offset="0.72" stop-color="rgb(150,150,150)"/><stop offset="1" stop-color="rgb(134,134,134)"/></radialGradient><radialGradient id="dg44" cx="0.47" cy="0.45" r="0.6"><stop offset="0" stop-color="rgb(165,165,165)"/><stop offset="0.72" stop-color="rgb(151,151,151)"/><stop offset="1" stop-color="rgb(135,135,135)"/></radialGradient><radialGradient id="dg45" cx="0.47" cy="0.45" r="0.6"><stop offset="0" stop-color="rgb(162,162,162)"/><stop offset="0.72" stop-color="rgb(149,149,149)"/><stop offset="1" stop-color="rgb(133,133,133)"/></radialGradient><radialGradient id="dg46" cx="0.47" cy="0.45" r="0.6"><stop offset="0" stop-color="rgb(160,160,160)"/><stop offset="0.72" stop-color="rgb(147,147,147)"/><stop offset="1" stop-color="rgb(132,132,132)"/></radialGradient><radialGradient id="dg47" cx="0.47" cy="0.45" r="0.6"><stop offset="0" stop-color="rgb(161,161,161)"/><stop offset="0.72" stop-color="rgb(149,149,149)"/><stop offset="1" stop-color="rgb(133,133,133)"/></radialGradient><radialGradient id="dg48" cx="0.47" cy="0.45" r="0.6"><stop offset="0" stop-color="rgb(159,159,159)"/><stop offset="0.72" stop-color="rgb(146,146,146)"/><stop offset="1" stop-color="rgb(131,131,131)"/></radialGradient><radialGradient id="dg49" cx="0.47" cy="0.45" r="0.6"><stop offset="0" stop-color="rgb(159,159,159)"/><stop offset="0.72" stop-color="rgb(147,147,147)"/><stop offset="1" stop-color="rgb(132,132,132)"/></radialGradient><radialGradient id="dg50" cx="0.47" cy="0.45" r="0.6"><stop offset="0" stop-color="rgb(164,164,164)"/><stop offset="0.72" stop-color="rgb(151,151,151)"/><stop offset="1" stop-color="rgb(135,135,135)"/></radialGradient><radialGradient id="dg51" cx="0.47" cy="0.45" r="0.6"><stop offset="0" stop-color="rgb(155,155,155)"/><stop offset="0.72" stop-color="rgb(143,143,143)"/><stop offset="1" stop-color="rgb(129,129,129)"/></radialGradient><radialGradient id="dg52" cx="0.47" cy="0.45" r="0.6"><stop offset="0" stop-color="rgb(154,154,154)"/><stop offset="0.72" stop-color="rgb(142,142,142)"/><stop offset="1" stop-color="rgb(128,128,128)"/></radialGradient><radialGradient id="dg53" cx="0.47" cy="0.45" r="0.6"><stop offset="0" stop-color="rgb(165,165,165)"/><stop offset="0.72" stop-color="rgb(152,152,152)"/><stop offset="1" stop-color="rgb(135,135,135)"/></radialGradient><radialGradient id="dg54" cx="0.47" cy="0.45" r="0.6"><stop offset="0" stop-color="rgb(165,165,165)"/><stop offset="0.72" stop-color="rgb(152,152,152)"/><stop offset="1" stop-color="rgb(135,135,135)"/></radialGradient><radialGradient id="dg55" cx="0.47" cy="0.45" r="0.6"><stop offset="0" stop-color="rgb(158,158,158)"/><stop offset="0.72" stop-color="rgb(146,146,146)"/><stop offset="1" stop-color="rgb(131,131,131)"/></radialGradient><radialGradient id="dg56" cx="0.47" cy="0.45" r="0.6"><stop offset="0" stop-color="rgb(163,163,163)"/><stop offset="0.72" stop-color="rgb(150,150,150)"/><stop offset="1" stop-color="rgb(134,134,134)"/></radialGradient><radialGradient id="dg57" cx="0.47" cy="0.45" r="0.6"><stop offset="0" stop-color="rgb(162,162,162)"/><stop offset="0.72" stop-color="rgb(149,149,149)"/><stop offset="1" stop-color="rgb(133,133,133)"/></radialGradient><radialGradient id="dg58" cx="0.47" cy="0.45" r="0.6"><stop offset="0" stop-color="rgb(165,165,165)"/><stop offset="0.72" stop-color="rgb(152,152,152)"/><stop offset="1" stop-color="rgb(135,135,135)"/></radialGradient><radialGradient id="dg59" cx="0.47" cy="0.45" r="0.6"><stop offset="0" stop-color="rgb(151,151,151)"/><stop offset="0.72" stop-color="rgb(140,140,140)"/><stop offset="1" stop-color="rgb(127,127,127)"/></radialGradient><filter id="dblur" x="-0.05" y="-0.05" width="1.1" height="1.1"><feGaussianBlur stdDeviation="10"/></filter></defs>
<g filter="url(#dblur)"><rect x="-60" y="-60" width="2221" height="1858" fill="#6e6e6e"/><path d="M-103,-143 L-107,-143 L-111,-142 L-115,-141 L-118,-140 L-122,-138 L-125,-136 L-128,-134 L-131,-131 L-134,-128 L-136,-125 L-138,-122 L-140,-118 L-141,-115 L-142,-111 L-143,-107 L-143,-103 L-143,183 L-143,187 L-142,191 L-141,195 L-140,198 L-138,202 L-137,205 L-134,208 L-132,211 L-129,214 L-126,216 L-123,218 L-119,220 L-116,221 L-112,222 L-108,223 L-104,223 L-57,225 L-53,225 L-49,224 L-45,224 L-41,222 L-37,221 L-34,219 L-31,216 L224,19 L227,16 L230,13 L232,10 L234,7 L236,3 L237,-0 L238,-4 L259,-94 L260,-98 L260,-102 L260,-106 L260,-110 L259,-114 L258,-118 L256,-121 L254,-125 L252,-128 L249,-131 L246,-134 L243,-136 L240,-138 L236,-140 L232,-141 L228,-142 L224,-143 L220,-143Z" fill="url(#dg0)"/><path d="M153,418 L156,421 L159,423 L162,425 L166,427 L169,428 L173,429 L177,430 L181,430 L185,430 L188,429 L192,429 L196,427 L239,411 L242,410 L245,408 L248,406 L251,404 L254,401 L256,398 L258,396 L336,275 L338,271 L339,268 L340,264 L341,260 L342,256 L342,252 L341,248 L341,244 L340,240 L338,236 L260,70 L258,67 L256,63 L253,60 L251,57 L248,55 L244,53 L241,51 L237,49 L233,48 L229,47 L225,47 L221,47 L217,48 L214,48 L210,50 L206,51 L203,53 L199,56 L6,206 L3,208 L0,211 L-2,214 L-4,217 L-6,221 L-7,225 L-8,229 L-9,233 L-9,236 L-9,240 L-9,244 L-8,248 L-6,252 L-5,256 L-3,259 L-0,262 L2,265Z" fill="url(#dg1)"/><path d="M252,-0 L251,3 L251,7 L251,11 L251,15 L252,19 L253,22 L255,26 L350,229 L352,232 L354,236 L356,239 L359,241 L362,244 L365,246 L369,248 L372,249 L376,251 L380,251 L383,252 L547,263 L551,263 L554,263 L558,262 L562,261 L565,260 L569,258 L572,256 L575,254 L578,251 L581,249 L583,246 L585,242 L586,239 L602,203 L603,199 L604,196 L605,192 L605,188 L605,184 L604,181 L603,177 L602,173 L601,170 L463,-120 L461,-124 L459,-127 L456,-130 L453,-133 L450,-136 L446,-138 L443,-140 L439,-141 L435,-142 L431,-143 L427,-143 L317,-143 L313,-143 L309,-142 L306,-141 L302,-140 L299,-138 L295,-137 L292,-134 L289,-132 L287,-129 L284,-126 L282,-123 L280,-119 L279,-116 L278,-112Z" fill="url(#dg2)"/><path d="M850,-83 L852,-87 L853,-91 L854,-95 L855,-98 L855,-102 L855,-106 L854,-110 L854,-114 L852,-118 L851,-121 L849,-125 L846,-128 L844,-131 L841,-134 L838,-136 L834,-138 L831,-140 L827,-141 L823,-142 L819,-143 L815,-143 L531,-143 L527,-143 L523,-142 L519,-141 L516,-140 L512,-138 L509,-137 L506,-134 L503,-132 L500,-129 L498,-126 L496,-123 L494,-119 L493,-116 L492,-112 L491,-108 L491,-104 L491,-101 L491,-97 L492,-93 L493,-89 L495,-86 L604,145 L606,148 L608,151 L611,154 L614,157 L617,160 L620,162 L623,164 L627,165 L631,166 L635,167 L639,167 L642,167 L646,167 L650,166 L654,165 L711,145 L715,143 L718,141 L722,139 L725,136 L728,133 L730,130 L732,127Z" fill="url(#dg3)"/><path d="M843,171 L847,172 L851,173 L856,173 L860,172 L864,172 L867,171 L871,169 L875,167 L878,165 L881,163 L884,160 L887,157 L889,153 L891,150 L1000,-86 L1001,-90 L1003,-94 L1003,-98 L1004,-102 L1004,-106 L1003,-110 L1002,-114 L1001,-117 L999,-121 L997,-125 L995,-128 L992,-131 L989,-134 L986,-136 L983,-138 L979,-140 L976,-141 L972,-142 L968,-143 L964,-143 L923,-143 L919,-143 L915,-142 L911,-141 L908,-140 L904,-138 L901,-137 L898,-134 L895,-132 L892,-129 L890,-126 L888,-123 L765,97 L763,101 L762,104 L761,108 L760,112 L760,116 L760,120 L760,124 L761,128 L763,132 L764,135 L766,139 L769,142 L771,145 L774,148 L778,150 L781,152 L785,154 L788,155Z" fill="url(#dg4)"/><path d="M1234,303 L1238,302 L1241,300 L1245,298 L1248,296 L1251,294 L1254,291 L1256,288 L1258,285 L1260,282 L1262,278 L1264,272 L1266,268 L1267,264 L1267,260 L1267,256 L1267,252 L1266,248 L1265,244 L1131,-117 L1130,-121 L1128,-124 L1126,-127 L1123,-131 L1120,-133 L1117,-136 L1113,-138 L1110,-140 L1106,-141 L1102,-142 L1098,-143 L1094,-143 L1067,-143 L1063,-143 L1060,-142 L1056,-141 L1052,-140 L1049,-139 L1046,-137 L1043,-135 L1040,-132 L1037,-129 L1035,-126 L1033,-123 L1031,-120 L896,171 L895,175 L894,179 L893,183 L893,187 L893,191 L893,195 L894,199 L895,203 L897,206 L964,335 L966,339 L968,342 L971,345 L974,348 L977,350 L981,352 L985,354 L988,355 L992,356 L996,357 L1001,357 L1005,356 L1009,356Z" fill="url(#dg5)"/><path d="M1523,-102 L1523,-106 L1523,-110 L1522,-114 L1521,-118 L1519,-121 L1517,-125 L1515,-128 L1512,-131 L1509,-134 L1506,-136 L1503,-138 L1499,-140 L1495,-141 L1491,-142 L1487,-143 L1483,-143 L1194,-143 L1190,-143 L1186,-142 L1183,-141 L1179,-140 L1176,-138 L1172,-137 L1169,-134 L1166,-132 L1164,-129 L1161,-126 L1159,-123 L1158,-119 L1156,-116 L1155,-112 L1154,-108 L1154,-104 L1154,-100 L1155,-97 L1155,-93 L1157,-89 L1268,212 L1269,216 L1271,219 L1273,222 L1276,225 L1279,228 L1282,231 L1285,233 L1288,235 L1292,236 L1296,237 L1300,238 L1303,238 L1307,238 L1311,238 L1315,237 L1319,236 L1398,208 L1402,206 L1405,205 L1408,203 L1411,200 L1414,198 L1416,195 L1418,192 L1420,189 L1422,185 L1520,-58 L1521,-62 L1522,-65 L1522,-68 L1523,-72Z" fill="url(#dg6)"/><path d="M1569,36 L1567,33 L1565,30 L1563,27 L1560,24 L1557,22 L1554,19 L1550,18 L1547,16 L1543,15 L1539,14 L1536,14 L1532,14 L1528,14 L1524,15 L1520,16 L1517,17 L1513,19 L1510,21 L1507,23 L1504,26 L1502,29 L1499,32 L1498,35 L1496,39 L1442,172 L1441,176 L1440,179 L1439,183 L1439,187 L1439,191 L1440,195 L1441,198 L1442,202 L1444,205 L1446,209 L1448,212 L1450,215 L1453,217 L1456,220 L1459,222 L1556,278 L1560,280 L1563,281 L1567,282 L1571,283 L1574,283 L1578,283 L1582,283 L1586,282 L1589,281 L1593,280 L1596,278 L1600,276 L1603,273 L1605,271 L1608,268 L1637,231 L1639,227 L1641,224 L1643,220 L1644,216 L1645,212 L1645,208 L1645,204 L1645,200 L1644,196 L1643,192 L1642,189Z" fill="url(#dg7)"/><path d="M1885,-98 L1885,-102 L1885,-106 L1885,-110 L1884,-114 L1883,-118 L1881,-121 L1879,-125 L1877,-128 L1874,-131 L1871,-134 L1868,-136 L1864,-138 L1861,-140 L1857,-141 L1853,-142 L1849,-143 L1845,-143 L1577,-143 L1574,-143 L1570,-142 L1566,-141 L1562,-140 L1559,-138 L1556,-136 L1552,-134 L1550,-132 L1547,-129 L1545,-126 L1543,-122 L1541,-119 L1539,-115 L1538,-112 L1538,-108 L1537,-104 L1537,-74 L1537,-71 L1537,-67 L1538,-63 L1539,-60 L1541,-56 L1652,178 L1654,181 L1656,184 L1658,187 L1661,190 L1664,193 L1667,195 L1671,197 L1674,198 L1678,199 L1682,200 L1686,200 L1690,200 L1694,200 L1822,181 L1826,181 L1830,180 L1834,178 L1837,176 L1841,174 L1844,171 L1847,168 L1849,165 L1851,162 L1853,158 L1855,154 L1856,151 L1856,147Z" fill="url(#dg8)"/><path d="M1869,160 L1869,164 L1869,168 L1869,172 L1870,176 L1871,180 L1873,184 L1875,187 L1877,190 L1880,193 L1883,196 L1886,198 L1890,200 L1893,202 L1897,203 L1901,204 L1905,205 L2200,232 L2204,232 L2208,232 L2212,231 L2216,230 L2219,229 L2223,227 L2226,225 L2229,223 L2232,220 L2235,217 L2237,214 L2239,211 L2241,207 L2242,204 L2243,200 L2244,196 L2244,192 L2244,-103 L2244,-107 L2243,-111 L2242,-115 L2241,-118 L2239,-122 L2237,-125 L2235,-128 L2232,-131 L2229,-134 L2226,-136 L2223,-138 L2219,-140 L2216,-141 L2212,-142 L2208,-143 L2204,-143 L1940,-143 L1936,-143 L1932,-142 L1929,-141 L1925,-140 L1921,-138 L1918,-136 L1915,-134 L1912,-132 L1909,-129 L1907,-126 L1905,-122 L1903,-119 L1902,-115 L1901,-111 L1900,-108Z" fill="url(#dg9)"/><path d="M-143,556 L-143,560 L-142,564 L-141,568 L-140,571 L-138,575 L-136,578 L-134,582 L-131,584 L-129,587 L-125,589 L-122,591 L-119,593 L-115,594 L-111,595 L-107,596 L-103,596 L-100,596 L-96,596 L-92,595 L-88,593 L-85,592 L-81,590 L112,465 L115,462 L118,460 L121,457 L123,454 L125,450 L127,447 L128,443 L129,439 L130,435 L130,431 L130,428 L130,424 L129,420 L127,416 L126,412 L124,409 L121,406 L119,403 L-32,251 L-35,248 L-38,246 L-41,244 L-44,242 L-48,241 L-51,240 L-55,239 L-59,239 L-102,237 L-106,237 L-110,238 L-113,239 L-117,240 L-121,241 L-124,243 L-128,246 L-131,248 L-134,251 L-136,255 L-138,258 L-140,262 L-141,265 L-142,269 L-143,273 L-143,277Z" fill="url(#dg10)"/><path d="M572,316 L572,312 L571,308 L570,305 L569,301 L567,297 L565,294 L563,291 L560,288 L557,285 L554,283 L550,281 L546,279 L543,278 L539,277 L535,276 L383,266 L379,266 L375,266 L371,267 L367,268 L364,269 L360,271 L357,273 L354,275 L351,278 L349,281 L346,284 L287,376 L285,380 L284,383 L282,387 L281,391 L281,395 L281,399 L281,403 L282,407 L283,411 L284,414 L286,418 L288,421 L290,424 L293,427 L296,430 L299,432 L454,530 L457,532 L461,533 L464,535 L468,535 L472,536 L476,536 L480,536 L483,535 L487,534 L491,533 L494,531 L498,529 L501,527 L504,524 L506,521 L508,518 L565,433 L567,430 L569,426 L570,423 L571,419 L572,415 L572,411Z" fill="url(#dg11)"/><path d="M586,288 L586,420 L701,441Z" fill="url(#dg12)"/><path d="M959,389 L961,385 L962,381 L962,377 L963,373 L962,369 L962,365 L961,362 L960,358 L958,354 L883,210 L881,207 L879,204 L876,201 L873,198 L870,195 L867,193 L863,192 L859,190 L742,156 L738,155 L734,155 L730,155 L726,155 L722,156 L718,157 L638,186 L634,187 L631,189 L627,191 L624,194 L621,197 L619,200 L617,204 L615,208 L598,248 L597,251 L596,255 L595,259 L595,262 L595,266 L595,270 L596,274 L597,277 L599,281 L601,284 L603,287 L716,438 L718,441 L721,444 L724,446 L727,449 L731,450 L782,474 L786,476 L789,477 L793,477 L797,478 L801,478 L805,477 L808,477 L812,476 L816,474 L934,420 L938,418 L941,416 L945,413 L948,410 L950,407 L952,404 L954,400Z" fill="url(#dg13)"/><path d="M1297,514 L1299,511 L1301,508 L1303,504 L1304,501 L1305,497 L1306,493 L1306,489 L1306,485 L1305,482 L1304,478 L1265,348 L1264,344 L1262,341 L1260,337 L1258,334 L1255,331 L1252,329 L1249,326 L1245,324 L1242,322 L1238,321 L1234,320 L1230,320 L1226,320 L1222,320 L1218,321 L999,372 L995,373 L991,375 L988,377 L984,379 L981,382 L978,385 L976,388 L973,392 L972,395 L968,404 L966,408 L965,412 L965,415 L964,419 L964,423 L965,427 L966,431 L967,435 L1001,521 L1003,524 L1005,528 L1007,531 L1009,534 L1012,536 L1015,539 L1019,541 L1022,543 L1026,544 L1029,545 L1036,547 L1040,547 L1043,548 L1047,548 L1262,537 L1265,537 L1269,536 L1273,535 L1276,533 L1280,532 L1283,530 L1286,527 L1288,525 L1291,522Z" fill="url(#dg14)"/><path d="M1579,356 L1581,352 L1583,349 L1584,345 L1585,341 L1585,337 L1585,333 L1585,329 L1585,328 L1584,324 L1583,320 L1581,316 L1579,313 L1577,310 L1574,307 L1572,304 L1568,301 L1565,299 L1436,224 L1432,223 L1429,221 L1425,220 L1421,219 L1417,219 L1414,219 L1410,219 L1406,220 L1402,221 L1300,258 L1296,259 L1293,261 L1290,263 L1287,265 L1284,268 L1282,271 L1279,274 L1278,277 L1276,281 L1272,291 L1271,295 L1270,299 L1269,302 L1269,306 L1269,310 L1270,314 L1271,317 L1316,467 L1317,471 L1319,474 L1321,478 L1323,481 L1326,484 L1329,487 L1332,489 L1335,491 L1339,493 L1342,494 L1346,495 L1350,496 L1392,500 L1395,500 L1399,500 L1403,499 L1407,498 L1410,497 L1508,457 L1512,456 L1516,453 L1519,451 L1522,448 L1525,445 L1527,441Z" fill="url(#dg15)"/><path d="M1629,370 L1626,368 L1622,367 L1618,366 L1614,366 L1610,366 L1607,366 L1603,367 L1599,368 L1595,369 L1592,371 L1589,373 L1586,376 L1583,379 L1580,382 L1578,385 L1553,425 L1551,429 L1550,432 L1549,436 L1548,440 L1547,444 L1547,448 L1548,452 L1548,456 L1550,459 L1551,463 L1553,467 L1555,470 L1557,473 L1560,476 L1563,478 L1627,527 L1631,529 L1634,531 L1638,533 L1641,534 L1645,534 L1649,535 L1653,535 L1657,535 L1661,534 L1665,533 L1668,531 L1672,529 L1675,527 L1678,525 L1681,522 L1683,519 L1686,516 L1688,512 L1689,509 L1690,505 L1691,501 L1691,497 L1695,429 L1695,425 L1695,421 L1694,417 L1693,413 L1692,409 L1690,406 L1688,403 L1685,400 L1682,397 L1679,394 L1676,392 L1673,390Z" fill="url(#dg16)"/><path d="M1608,290 L1606,293 L1604,297 L1602,301 L1601,304 L1600,308 L1600,312 L1600,316 L1600,320 L1601,324 L1602,328 L1603,331 L1605,335 L1607,338 L1610,341 L1613,344 L1616,347 L1619,349 L1622,351 L1690,383 L1693,384 L1697,386 L1701,386 L1705,387 L1708,387 L1712,386 L1716,386 L1720,385 L1803,356 L1806,355 L1810,353 L1813,351 L1816,348 L1819,345 L1822,342 L1824,338 L1826,335 L1827,331 L1855,249 L1856,246 L1856,242 L1857,238 L1857,234 L1856,230 L1855,227 L1854,223 L1853,219 L1851,216 L1849,213 L1846,210 L1843,207 L1840,205 L1837,202 L1834,201 L1830,199 L1826,198 L1823,197 L1819,197 L1815,197 L1811,197 L1680,216 L1676,217 L1673,218 L1669,219 L1666,221 L1662,223 L1659,226 L1657,228 L1654,231Z" fill="url(#dg17)"/><path d="M2244,286 L2244,282 L2243,279 L2242,275 L2241,271 L2239,267 L2237,264 L2235,261 L2232,258 L2229,255 L2226,253 L2223,251 L2219,249 L2215,248 L2212,247 L2208,247 L1912,220 L1908,219 L1904,220 L1900,220 L1897,221 L1893,222 L1890,224 L1886,226 L1883,228 L1880,231 L1878,234 L1875,237 L1873,240 L1872,243 L1870,247 L1839,340 L1838,343 L1838,347 L1837,351 L1837,355 L1838,358 L1838,362 L1840,366 L1841,369 L1913,525 L1915,528 L1917,531 L1920,534 L1922,537 L1925,540 L1928,542 L1932,544 L1935,545 L1939,547 L1943,547 L1946,548 L1950,548 L2205,544 L2209,543 L2212,543 L2216,542 L2220,540 L2223,539 L2227,537 L2230,534 L2233,532 L2235,529 L2237,526 L2239,522 L2241,519 L2242,515 L2243,511 L2244,508 L2244,504Z" fill="url(#dg18)"/><path d="M-48,585 L-51,587 L-54,590 L-57,593 L-59,596 L-61,599 L-63,603 L-64,606 L-65,610 L-66,614 L-66,618 L-66,622 L-66,626 L-65,629 L-63,633 L-62,637 L-60,640 L-58,643 L-55,646 L-52,649 L-49,651 L-46,653 L-42,655 L-39,657 L254,753 L258,755 L262,755 L266,756 L270,755 L274,755 L278,754 L282,753 L286,751 L289,749 L292,747 L295,744 L298,741 L300,738 L302,734 L321,699 L323,695 L324,692 L325,688 L325,684 L326,680 L325,676 L325,672 L324,669 L323,665 L321,661 L319,658 L196,474 L194,471 L191,468 L188,465 L185,463 L182,461 L178,459 L175,458 L171,457 L167,456 L163,456 L159,456 L155,457 L152,458 L148,459 L144,461 L141,463Z" fill="url(#dg19)"/><path d="M279,436 L276,434 L273,432 L269,431 L265,430 L261,430 L257,430 L253,430 L250,430 L246,431 L242,433 L239,435 L235,437 L232,439 L229,442 L227,445 L225,448 L223,451 L221,455 L220,458 L219,462 L218,466 L218,470 L218,474 L219,477 L220,481 L221,485 L223,488 L225,492 L318,632 L321,635 L323,638 L326,640 L329,643 L332,645 L336,646 L339,648 L343,649 L347,649 L351,650 L355,650 L358,649 L362,648 L366,647 L369,645 L373,644 L376,641 L434,597 L436,595 L439,592 L442,589 L444,586 L445,582 L447,579 L448,575 L449,571 L449,568 L449,564 L449,560 L448,556 L447,553 L446,549 L444,546 L442,542 L439,539 L437,537 L434,534 L431,532Z" fill="url(#dg20)"/><path d="M514,535 L512,538 L511,541 L509,545 L508,549 L508,553 L508,557 L508,561 L509,565 L510,569 L511,572 L513,576 L515,579 L517,582 L520,585 L626,690 L629,692 L632,694 L635,696 L639,698 L642,699 L646,700 L650,701 L653,701 L657,701 L661,700 L665,700 L668,698 L672,697 L791,638 L795,636 L798,634 L801,631 L804,628 L806,625 L808,622 L810,618 L811,614 L813,611 L813,607 L813,603 L813,599 L813,595 L797,514 L796,511 L795,507 L793,504 L791,500 L789,497 L786,495 L784,492 L781,490 L778,488 L774,486 L719,460 L715,459 L710,458 L608,438 L604,437 L600,437 L596,438 L593,438 L589,439 L585,440 L582,442 L578,444 L575,446 L572,449 L570,452 L567,455Z" fill="url(#dg21)"/><path d="M965,468 L964,464 L962,461 L959,458 L957,455 L954,452 L951,450 L948,448 L945,446 L941,445 L937,444 L934,443 L930,442 L926,442 L922,443 L919,444 L915,445 L911,446 L836,480 L832,482 L829,484 L826,487 L823,489 L821,492 L819,495 L817,499 L815,502 L814,506 L813,509 L812,513 L812,517 L812,521 L813,525 L828,600 L829,604 L830,607 L832,611 L834,614 L836,617 L839,620 L842,623 L845,625 L848,627 L852,629 L855,630 L874,636 L877,637 L881,638 L885,638 L889,638 L893,637 L897,636 L901,635 L904,633 L908,631 L911,629 L914,626 L977,563 L980,560 L982,557 L984,554 L986,550 L987,547 L988,543 L988,539 L989,535 L989,532 L988,528 L987,524 L986,520Z" fill="url(#dg22)"/><path d="M1168,556 L1164,556 L1160,557 L1157,558 L1153,559 L1150,561 L1146,563 L1143,566 L1141,568 L1138,571 L1136,575 L1134,578 L1132,582 L1131,585 L1130,589 L1130,593 L1130,597 L1130,601 L1131,605 L1132,608 L1134,612 L1135,615 L1137,619 L1140,622 L1143,625 L1145,627 L1185,657 L1188,660 L1191,662 L1195,663 L1198,664 L1202,665 L1206,666 L1210,666 L1214,666 L1217,665 L1221,664 L1225,663 L1228,661 L1232,659 L1235,656 L1238,654 L1240,651 L1242,648 L1244,645 L1246,641 L1247,637 L1257,605 L1258,601 L1259,597 L1259,593 L1259,589 L1258,585 L1257,581 L1256,577 L1254,574 L1252,570 L1249,567 L1246,564 L1243,561 L1240,559 L1236,557 L1233,556 L1229,554 L1225,554 L1221,553 L1217,553Z" fill="url(#dg23)"/><path d="M1255,662 L1254,666 L1253,669 L1253,673 L1253,677 L1253,681 L1254,684 L1256,688 L1257,692 L1259,695 L1261,698 L1264,701 L1266,703 L1269,706 L1416,812 L1419,814 L1423,816 L1426,817 L1430,818 L1434,819 L1438,819 L1442,819 L1446,819 L1450,818 L1454,816 L1458,815 L1461,813 L1464,810 L1467,807 L1470,804 L1473,801 L1508,748 L1510,744 L1512,740 L1513,737 L1514,733 L1514,729 L1514,725 L1514,721 L1513,717 L1512,713 L1511,709 L1509,706 L1408,532 L1406,529 L1404,526 L1401,523 L1399,521 L1395,518 L1392,517 L1389,515 L1385,514 L1381,513 L1378,512 L1343,509 L1339,509 L1335,509 L1331,510 L1327,511 L1323,512 L1320,514 L1316,516 L1313,518 L1310,521 L1308,524 L1294,540 L1292,543 L1290,547 L1288,550 L1287,554Z" fill="url(#dg24)"/><path d="M1542,480 L1539,478 L1536,476 L1532,474 L1529,473 L1525,472 L1521,472 L1518,472 L1514,472 L1510,472 L1506,473 L1503,475 L1455,494 L1452,496 L1448,498 L1445,500 L1442,503 L1439,506 L1437,509 L1435,512 L1433,516 L1432,520 L1431,524 L1430,528 L1430,532 L1431,536 L1431,540 L1432,544 L1434,547 L1436,551 L1516,690 L1518,693 L1521,696 L1524,699 L1527,702 L1530,704 L1533,706 L1537,707 L1541,709 L1545,709 L1548,710 L1552,710 L1556,710 L1560,709 L1564,708 L1624,686 L1628,685 L1631,683 L1635,681 L1638,678 L1640,676 L1643,673 L1645,670 L1647,666 L1649,663 L1650,659 L1665,604 L1665,600 L1666,596 L1666,592 L1666,588 L1665,585 L1664,581 L1662,577 L1661,574 L1658,570 L1656,567 L1653,564 L1650,562Z" fill="url(#dg25)"/><path d="M1854,573 L1858,573 L1862,573 L1866,572 L1870,571 L1874,570 L1877,568 L1880,566 L1884,564 L1887,561 L1889,558 L1891,555 L1893,551 L1895,547 L1896,544 L1897,540 L1898,536 L1898,532 L1897,528 L1897,524 L1895,520 L1894,516 L1838,397 L1836,393 L1834,390 L1832,387 L1829,384 L1826,382 L1823,379 L1819,377 L1816,376 L1812,375 L1808,374 L1804,374 L1800,374 L1797,374 L1793,375 L1789,376 L1736,394 L1732,395 L1729,397 L1726,399 L1723,402 L1720,405 L1717,408 L1715,411 L1713,414 L1712,418 L1710,422 L1710,426 L1709,429 L1704,521 L1704,525 L1704,528 L1705,532 L1706,536 L1708,539 L1709,543 L1711,546 L1714,549 L1716,552 L1719,554 L1722,557 L1726,559 L1729,560 L1733,561 L1737,562 L1740,563Z" fill="url(#dg26)"/><path d="M1949,562 L1945,562 L1941,563 L1938,564 L1934,565 L1931,567 L1927,569 L1924,571 L1921,574 L1919,577 L1916,580 L1914,583 L1913,586 L1911,590 L1911,594 L1910,598 L1910,601 L1910,605 L1910,609 L1929,710 L1930,714 L1931,718 L1933,722 L1935,725 L1937,728 L1940,731 L1942,734 L1946,736 L1949,738 L1953,740 L1956,742 L1960,743 L1964,743 L1968,743 L1972,743 L1976,742 L1980,742 L2216,668 L2220,667 L2223,665 L2226,663 L2230,661 L2232,658 L2235,655 L2237,652 L2239,649 L2241,645 L2242,642 L2243,638 L2244,634 L2244,630 L2244,598 L2244,594 L2243,590 L2242,586 L2241,582 L2239,579 L2237,575 L2235,572 L2232,569 L2229,567 L2226,564 L2222,562 L2219,561 L2215,559 L2211,558 L2207,558 L2203,558Z" fill="url(#dg27)"/><path d="M-90,654 L-94,653 L-98,652 L-102,652 L-106,652 L-110,653 L-114,654 L-118,655 L-121,657 L-125,659 L-128,661 L-131,664 L-134,666 L-136,670 L-138,673 L-140,677 L-141,680 L-142,684 L-143,688 L-143,692 L-143,765 L-143,769 L-142,773 L-141,777 L-140,780 L-138,784 L-136,787 L-134,791 L-131,793 L-128,796 L-125,798 L-121,800 L-118,802 L-114,803 L-110,804 L237,866 L241,867 L245,867 L248,867 L252,866 L256,865 L260,864 L263,862 L267,860 L270,857 L273,855 L275,852 L277,849 L279,845 L281,842 L282,838 L283,834 L284,830 L284,826 L283,806 L283,802 L283,799 L282,795 L280,791 L279,788 L277,785 L275,782 L272,779 L269,776 L266,774 L263,772 L260,770 L256,769Z" fill="url(#dg28)"/><path d="M298,844 L298,848 L299,852 L300,855 L301,859 L303,863 L305,866 L308,869 L311,872 L314,875 L317,877 L321,879 L324,881 L328,882 L332,882 L336,883 L566,893 L570,893 L574,892 L578,891 L582,890 L585,889 L589,887 L592,884 L595,882 L598,879 L600,876 L603,873 L615,852 L616,848 L618,845 L619,841 L620,838 L634,741 L635,737 L635,733 L634,729 L634,726 L633,722 L631,718 L630,715 L628,712 L625,709 L623,706 L513,598 L510,595 L507,593 L503,591 L500,589 L496,588 L493,587 L489,587 L485,586 L481,586 L477,587 L474,588 L470,589 L467,591 L463,592 L460,595 L353,677 L349,680 L347,683 L344,686 L342,690 L302,765 L300,769 L299,773 L298,777 L297,781 L297,785Z" fill="url(#dg29)"/><path d="M670,713 L667,715 L663,717 L660,720 L658,723 L655,726 L653,729 L651,732 L650,736 L649,739 L648,743 L638,809 L638,813 L638,817 L638,821 L639,825 L640,829 L642,833 L643,836 L646,840 L648,843 L651,846 L654,848 L658,850 L661,852 L665,853 L896,929 L899,931 L903,931 L907,931 L911,931 L915,931 L918,930 L922,929 L926,928 L929,926 L932,924 L935,921 L938,919 L940,916 L983,859 L985,856 L987,853 L988,849 L989,845 L990,842 L991,838 L991,834 L990,830 L990,826 L989,822 L987,819 L985,815 L902,671 L900,667 L898,665 L895,662 L892,659 L889,657 L886,655 L883,654 L879,652 L842,641 L839,640 L835,639 L831,639 L827,639 L824,640 L820,640 L816,642 L813,643Z" fill="url(#dg30)"/><path d="M929,631 L927,634 L924,637 L922,640 L920,644 L919,648 L918,652 L918,656 L917,660 L918,664 L918,668 L920,672 L921,675 L923,679 L999,811 L1001,814 L1004,818 L1006,820 L1009,823 L1013,825 L1016,827 L1019,829 L1023,830 L1027,831 L1031,831 L1035,831 L1126,830 L1130,829 L1133,829 L1137,828 L1141,827 L1144,825 L1147,823 L1150,821 L1153,818 L1156,815 L1158,812 L1160,809 L1203,732 L1205,729 L1206,725 L1207,721 L1208,717 L1208,713 L1208,709 L1207,705 L1206,701 L1205,697 L1203,693 L1201,690 L1198,687 L1195,684 L1192,681 L1045,567 L1041,564 L1037,562 L1033,561 L1029,559 L1027,559 L1023,558 L1019,558 L1015,558 L1011,559 L1008,560 L1004,561 L1000,563 L997,565 L993,567 L990,570Z" fill="url(#dg31)"/><path d="M1274,726 L1270,724 L1267,722 L1263,721 L1259,720 L1255,719 L1251,719 L1247,719 L1243,719 L1239,720 L1236,721 L1232,723 L1229,725 L1225,727 L1222,730 L1220,733 L1217,736 L1215,739 L1174,813 L1172,817 L1171,820 L1170,824 L1169,828 L1169,831 L1169,835 L1169,839 L1170,843 L1171,846 L1172,850 L1174,853 L1176,856 L1182,864 L1184,867 L1187,870 L1190,873 L1193,875 L1197,877 L1201,878 L1204,880 L1208,880 L1212,881 L1216,881 L1358,875 L1362,875 L1366,874 L1369,873 L1373,872 L1377,870 L1380,868 L1383,865 L1386,862 L1388,859 L1391,856 L1392,852 L1394,849 L1395,845 L1396,841 L1396,837 L1396,833 L1396,829 L1395,825 L1394,822 L1392,818 L1390,814 L1388,811 L1386,808 L1383,805 L1380,803Z" fill="url(#dg32)"/><path d="M1466,837 L1464,841 L1462,844 L1461,848 L1460,852 L1459,856 L1459,860 L1459,864 L1460,868 L1461,872 L1462,875 L1464,879 L1466,882 L1469,885 L1472,888 L1475,891 L1478,893 L1481,895 L1485,897 L1489,898 L1493,899 L1497,899 L1501,899 L1761,889 L1765,888 L1769,888 L1772,886 L1776,885 L1780,883 L1783,881 L1786,879 L1789,876 L1791,873 L1793,870 L1795,866 L1797,862 L1798,859 L1799,855 L1799,851 L1799,847 L1799,843 L1798,839 L1797,835 L1796,832 L1794,828 L1792,825 L1789,822 L1786,819 L1666,709 L1663,706 L1660,704 L1656,702 L1653,701 L1649,700 L1645,699 L1641,698 L1637,698 L1633,699 L1630,700 L1626,701 L1547,729 L1543,730 L1540,732 L1537,734 L1534,736 L1531,738 L1529,741 L1527,744Z" fill="url(#dg33)"/><path d="M1721,575 L1717,575 L1713,575 L1709,576 L1705,577 L1702,578 L1698,580 L1695,582 L1692,585 L1689,587 L1686,590 L1684,594 L1682,597 L1680,601 L1679,605 L1664,659 L1663,663 L1663,667 L1663,671 L1663,675 L1664,679 L1665,682 L1667,686 L1668,690 L1671,693 L1673,696 L1676,699 L1821,832 L1824,835 L1828,837 L1831,839 L1835,840 L1839,842 L1843,842 L1847,843 L1851,843 L1855,842 L1859,841 L1863,840 L1866,838 L1870,836 L1873,834 L1876,831 L1879,828 L1881,825 L1915,776 L1917,773 L1918,769 L1920,765 L1921,762 L1921,758 L1922,754 L1922,750 L1921,746 L1898,621 L1897,617 L1896,613 L1894,609 L1892,606 L1890,603 L1887,600 L1884,597 L1881,594 L1878,592 L1874,591 L1870,589 L1866,588 L1862,588Z" fill="url(#dg34)"/><path d="M1949,766 L1946,767 L1942,769 L1939,771 L1936,773 L1933,776 L1930,778 L1928,781 L1888,839 L1886,843 L1885,846 L1883,850 L1882,853 L1882,857 L1882,861 L1882,865 L1882,869 L1883,872 L1884,876 L1886,880 L1888,883 L1890,886 L1892,889 L1895,892 L2148,1117 L2151,1119 L2155,1122 L2158,1124 L2162,1125 L2192,1135 L2196,1136 L2200,1136 L2204,1136 L2207,1136 L2211,1136 L2215,1135 L2219,1133 L2223,1132 L2226,1130 L2229,1127 L2232,1125 L2235,1122 L2237,1119 L2239,1115 L2241,1112 L2242,1108 L2243,1104 L2244,1100 L2244,1096 L2244,729 L2244,725 L2243,721 L2242,717 L2241,713 L2239,710 L2237,706 L2235,703 L2232,700 L2229,698 L2226,695 L2223,693 L2219,692 L2215,690 L2212,689 L2208,689 L2204,689 L2200,689 L2196,689 L2192,690Z" fill="url(#dg35)"/><path d="M154,1233 L158,1233 L162,1232 L166,1230 L170,1228 L173,1226 L177,1224 L180,1221 L286,1109 L289,1106 L291,1103 L293,1099 L294,1096 L296,1092 L296,1088 L297,1084 L297,1080 L290,922 L289,918 L288,914 L287,910 L286,907 L284,903 L282,900 L280,897 L277,894 L274,892 L271,890 L268,888 L264,886 L260,885 L257,884 L-96,821 L-100,821 L-104,820 L-108,821 L-111,821 L-115,822 L-119,824 L-122,825 L-126,827 L-129,830 L-132,832 L-134,835 L-136,838 L-138,842 L-140,845 L-141,849 L-142,853 L-143,857 L-143,860 L-143,1213 L-143,1217 L-142,1221 L-141,1225 L-140,1228 L-138,1232 L-136,1235 L-134,1238 L-132,1241 L-129,1244 L-126,1246 L-122,1248 L-119,1250 L-115,1251 L-111,1252 L-108,1253 L-104,1253 L-100,1253Z" fill="url(#dg36)"/><path d="M645,1096 L646,1092 L647,1089 L648,1085 L648,1081 L648,1077 L648,1074 L647,1070 L646,1066 L598,933 L597,929 L595,926 L593,923 L590,919 L588,917 L584,914 L581,912 L578,910 L574,909 L570,908 L566,907 L562,906 L346,897 L342,897 L338,898 L334,898 L331,900 L327,901 L324,903 L320,905 L317,908 L315,910 L312,913 L310,917 L308,920 L307,924 L306,927 L305,931 L304,935 L304,939 L311,1076 L311,1080 L312,1084 L313,1088 L315,1092 L317,1095 L319,1099 L322,1102 L325,1104 L328,1107 L482,1212 L485,1214 L488,1215 L492,1217 L496,1218 L499,1218 L503,1218 L507,1218 L511,1218 L577,1206 L581,1206 L585,1204 L589,1203 L592,1201 L595,1198 L598,1196 L601,1193 L604,1190 L606,1186 L607,1183Z" fill="url(#dg37)"/><path d="M652,1041 L653,1044 L655,1048 L657,1051 L659,1054 L662,1057 L665,1059 L668,1061 L671,1063 L675,1065 L678,1066 L682,1067 L686,1067 L690,1067 L693,1067 L697,1067 L873,1032 L877,1031 L881,1029 L885,1028 L888,1025 L891,1023 L894,1020 L897,1017 L899,1014 L901,1010 L903,1006 L904,1002 L908,987 L909,984 L909,980 L909,976 L909,972 L908,968 L907,964 L905,960 L903,957 L901,953 L898,950 L896,947 L892,945 L889,943 L885,941 L882,940 L659,866 L655,865 L652,865 L648,864 L644,864 L640,865 L636,866 L632,867 L629,868 L625,870 L622,873 L619,875 L617,878 L614,881 L612,884 L611,885 L610,889 L608,892 L607,896 L606,900 L606,904 L606,908 L606,911 L607,915 L608,919Z" fill="url(#dg38)"/><path d="M1064,1209 L1067,1209 L1071,1209 L1075,1209 L1079,1209 L1082,1208 L1086,1207 L1089,1205 L1093,1203 L1181,1148 L1184,1146 L1187,1143 L1190,1141 L1192,1137 L1194,1134 L1196,1131 L1198,1127 L1199,1123 L1199,1119 L1200,1115 L1200,1111 L1185,903 L1185,899 L1184,895 L1183,892 L1181,888 L1180,885 L1178,882 L1162,860 L1159,857 L1157,854 L1154,852 L1151,850 L1147,848 L1144,846 L1140,845 L1136,844 L1132,844 L1129,844 L1030,845 L1026,846 L1022,846 L1018,847 L1014,849 L1011,851 L1007,853 L1004,855 L1001,858 L999,861 L937,943 L935,947 L933,950 L931,954 L930,958 L916,1013 L915,1017 L915,1021 L915,1025 L915,1029 L916,1032 L917,1036 L919,1040 L921,1043 L923,1047 L1033,1192 L1036,1195 L1039,1198 L1042,1201 L1045,1203 L1049,1205 L1053,1206 L1057,1207Z" fill="url(#dg39)"/><path d="M1213,1098 L1213,1102 L1214,1106 L1215,1109 L1217,1113 L1218,1116 L1220,1119 L1223,1122 L1226,1125 L1228,1127 L1232,1129 L1235,1131 L1238,1133 L1242,1134 L1246,1135 L1250,1135 L1289,1138 L1293,1138 L1298,1138 L1302,1137 L1305,1136 L1309,1135 L1313,1133 L1316,1130 L1319,1128 L1422,1034 L1425,1031 L1427,1028 L1429,1025 L1431,1021 L1433,1018 L1434,1014 L1451,936 L1452,932 L1452,928 L1452,924 L1452,921 L1451,917 L1450,913 L1448,910 L1446,906 L1444,903 L1442,900 L1439,897 L1436,895 L1433,893 L1429,891 L1426,890 L1422,888 L1418,888 L1414,887 L1411,887 L1240,894 L1236,894 L1232,895 L1228,896 L1224,898 L1221,900 L1217,902 L1214,904 L1212,907 L1209,910 L1207,914 L1205,917 L1203,921 L1202,925 L1202,929 L1201,933 L1201,937Z" fill="url(#dg40)"/><path d="M1531,1268 L1533,1272 L1535,1275 L1537,1279 L1539,1282 L1542,1284 L1545,1287 L1548,1289 L1552,1291 L1555,1292 L1559,1294 L1563,1294 L1567,1295 L1681,1302 L1685,1302 L1689,1301 L1693,1301 L1697,1300 L1701,1298 L1704,1296 L1708,1294 L1711,1291 L1714,1288 L1846,1138 L1849,1135 L1851,1132 L1853,1128 L1854,1124 L1856,1120 L1856,1116 L1856,1112 L1856,1108 L1838,937 L1838,933 L1837,929 L1835,925 L1834,922 L1831,918 L1829,915 L1826,912 L1823,910 L1820,907 L1816,905 L1813,904 L1809,903 L1805,902 L1801,901 L1797,901 L1501,913 L1497,913 L1493,914 L1489,915 L1486,917 L1482,919 L1479,921 L1476,924 L1473,927 L1470,930 L1468,933 L1466,937 L1465,940 L1464,944 L1447,1018 L1447,1021 L1446,1025 L1446,1029 L1447,1033 L1447,1036 L1449,1040Z" fill="url(#dg41)"/><path d="M1922,935 L1919,932 L1916,930 L1912,928 L1908,927 L1905,926 L1901,925 L1897,925 L1893,925 L1889,925 L1885,926 L1881,927 L1877,929 L1874,931 L1871,933 L1868,936 L1865,939 L1862,942 L1860,945 L1859,949 L1857,953 L1856,957 L1856,961 L1856,965 L1856,969 L1868,1085 L1868,1089 L1869,1093 L1871,1096 L1872,1100 L1874,1103 L1877,1106 L1879,1109 L1882,1112 L1885,1114 L1889,1116 L1892,1118 L1896,1119 L1900,1120 L1904,1121 L1907,1121 L2026,1121 L2030,1121 L2034,1121 L2038,1120 L2042,1118 L2045,1117 L2048,1115 L2052,1113 L2054,1110 L2057,1107 L2059,1104 L2062,1101 L2063,1097 L2065,1094 L2066,1090 L2066,1086 L2067,1082 L2067,1078 L2066,1075 L2065,1071 L2064,1067 L2063,1064 L2061,1060 L2058,1057 L2056,1054 L2053,1051Z" fill="url(#dg42)"/><path d="M179,1273 L177,1269 L175,1266 L173,1263 L170,1260 L168,1257 L165,1255 L161,1253 L158,1251 L154,1250 L150,1249 L147,1248 L143,1248 L139,1248 L-106,1268 L-110,1268 L-114,1269 L-118,1270 L-121,1272 L-125,1274 L-128,1276 L-131,1279 L-134,1282 L-136,1285 L-138,1288 L-140,1292 L-141,1296 L-142,1300 L-143,1304 L-143,1308 L-143,1577 L-143,1581 L-142,1585 L-141,1588 L-140,1592 L-138,1595 L-137,1599 L-134,1602 L-132,1605 L-129,1607 L-126,1610 L-123,1612 L-119,1613 L-116,1615 L-112,1616 L-108,1617 L-104,1617 L-100,1617 L-97,1616 L-93,1616 L-89,1614 L-86,1613 L218,1466 L222,1464 L225,1462 L228,1459 L231,1456 L234,1453 L236,1450 L238,1446 L239,1442 L240,1438 L241,1434 L241,1430 L241,1426 L240,1422 L239,1418 L238,1415Z" fill="url(#dg43)"/><path d="M260,1432 L262,1435 L264,1439 L266,1442 L269,1445 L272,1448 L276,1450 L279,1452 L283,1454 L286,1455 L290,1456 L293,1457 L297,1457 L300,1457 L304,1457 L308,1457 L311,1456 L383,1435 L387,1434 L391,1432 L394,1430 L397,1428 L400,1425 L403,1422 L405,1419 L407,1415 L409,1412 L472,1261 L473,1257 L474,1253 L475,1249 L475,1245 L475,1242 L475,1238 L474,1234 L472,1230 L471,1227 L469,1223 L466,1220 L464,1217 L461,1215 L458,1212 L334,1128 L330,1126 L327,1124 L323,1123 L319,1122 L315,1121 L311,1121 L307,1121 L303,1122 L299,1123 L295,1124 L292,1126 L288,1128 L285,1131 L282,1133 L199,1221 L196,1224 L194,1227 L192,1231 L190,1234 L189,1238 L188,1242 L188,1245 L187,1249 L188,1253 L188,1257 L189,1261 L191,1264Z" fill="url(#dg44)"/><path d="M503,1486 L507,1488 L510,1489 L514,1490 L518,1491 L522,1491 L526,1491 L530,1491 L534,1490 L538,1489 L542,1487 L545,1485 L549,1483 L616,1430 L619,1427 L621,1424 L624,1421 L626,1417 L628,1414 L629,1410 L630,1406 L631,1402 L641,1292 L641,1288 L641,1284 L640,1280 L639,1276 L638,1272 L636,1269 L634,1265 L615,1238 L613,1235 L610,1232 L607,1229 L604,1227 L601,1225 L598,1224 L594,1222 L590,1221 L587,1221 L583,1220 L579,1221 L575,1221 L520,1231 L516,1231 L512,1233 L509,1234 L505,1236 L502,1239 L499,1241 L496,1244 L494,1247 L492,1251 L490,1255 L429,1401 L427,1405 L426,1409 L426,1413 L426,1417 L426,1421 L427,1425 L428,1429 L429,1432 L431,1436 L433,1439 L436,1443 L438,1445 L442,1448 L445,1450Z" fill="url(#dg45)"/><path d="M620,1188 L619,1192 L618,1196 L617,1200 L617,1204 L617,1208 L618,1212 L619,1216 L620,1219 L622,1223 L624,1226 L646,1259 L649,1261 L651,1264 L654,1267 L657,1269 L660,1271 L663,1272 L667,1274 L851,1336 L855,1337 L859,1338 L862,1338 L866,1338 L870,1338 L874,1337 L877,1336 L881,1335 L884,1333 L887,1331 L890,1329 L1000,1234 L1003,1231 L1006,1228 L1008,1225 L1010,1222 L1011,1218 L1013,1214 L1013,1210 L1014,1206 L1014,1202 L1014,1198 L1013,1194 L1012,1190 L1010,1187 L1008,1183 L1006,1180 L916,1061 L913,1057 L910,1055 L907,1052 L904,1050 L900,1048 L896,1047 L892,1046 L888,1045 L884,1045 L880,1045 L876,1046 L684,1083 L681,1084 L677,1086 L673,1087 L670,1089 L667,1092 L664,1094 L661,1097 L659,1100 L657,1103 L655,1107Z" fill="url(#dg46)"/><path d="M1073,1277 L1073,1273 L1073,1269 L1072,1265 L1070,1261 L1069,1258 L1067,1254 L1064,1251 L1062,1248 L1059,1246 L1055,1243 L1052,1241 L1048,1240 L1045,1238 L1041,1237 L1037,1237 L1033,1237 L1029,1237 L1025,1238 L1021,1239 L1017,1240 L1014,1242 L1011,1244 L1007,1246 L898,1341 L895,1343 L892,1346 L890,1349 L888,1353 L887,1356 L885,1360 L884,1364 L884,1367 L884,1371 L884,1375 L898,1503 L898,1507 L899,1510 L901,1514 L902,1518 L904,1521 L907,1524 L909,1527 L912,1530 L915,1532 L919,1534 L935,1543 L939,1544 L942,1546 L946,1547 L950,1547 L954,1547 L958,1547 L962,1547 L966,1546 L969,1544 L973,1543 L1051,1501 L1055,1499 L1058,1497 L1061,1494 L1063,1491 L1066,1488 L1068,1485 L1070,1481 L1071,1477 L1072,1474 L1072,1470 L1073,1466Z" fill="url(#dg47)"/><path d="M1529,1327 L1530,1323 L1530,1319 L1530,1315 L1530,1312 L1529,1308 L1528,1304 L1526,1301 L1525,1297 L1523,1294 L1520,1291 L1518,1288 L1515,1286 L1512,1283 L1315,1159 L1312,1157 L1308,1155 L1305,1154 L1301,1153 L1297,1153 L1223,1147 L1219,1147 L1215,1148 L1211,1148 L1207,1150 L1203,1151 L1199,1153 L1106,1211 L1103,1214 L1100,1216 L1097,1219 L1095,1222 L1093,1226 L1091,1229 L1089,1233 L1088,1237 L1088,1241 L1088,1245 L1087,1468 L1087,1472 L1087,1476 L1088,1480 L1090,1484 L1092,1487 L1094,1491 L1096,1494 L1099,1497 L1102,1500 L1105,1502 L1349,1654 L1352,1655 L1356,1657 L1360,1658 L1363,1659 L1367,1660 L1371,1660 L1375,1659 L1379,1658 L1383,1657 L1387,1656 L1390,1654 L1394,1652 L1397,1649 L1399,1646 L1462,1578 L1464,1575 L1467,1571 L1468,1568 L1470,1564 L1471,1560Z" fill="url(#dg48)"/><path d="M1741,1543 L1745,1542 L1748,1541 L1752,1540 L1756,1538 L1759,1536 L1762,1534 L1765,1531 L1768,1528 L1770,1525 L1772,1522 L1774,1518 L1775,1514 L1776,1510 L1777,1506 L1777,1503 L1777,1499 L1776,1495 L1775,1491 L1774,1487 L1709,1339 L1707,1336 L1705,1332 L1702,1329 L1700,1326 L1697,1324 L1693,1321 L1690,1319 L1686,1318 L1682,1317 L1679,1316 L1675,1315 L1581,1310 L1577,1310 L1573,1310 L1570,1311 L1566,1312 L1562,1313 L1559,1315 L1555,1317 L1552,1320 L1549,1323 L1547,1326 L1545,1329 L1543,1333 L1541,1336 L1540,1340 L1498,1511 L1497,1515 L1496,1519 L1497,1523 L1497,1527 L1498,1531 L1499,1535 L1501,1539 L1503,1542 L1505,1545 L1507,1548 L1510,1551 L1513,1554 L1517,1556 L1520,1558 L1524,1559 L1528,1560 L1532,1561 L1536,1561 L1540,1561Z" fill="url(#dg49)"/><path d="M2244,1195 L2244,1191 L2243,1187 L2242,1184 L2241,1180 L2239,1176 L2237,1173 L2235,1170 L2233,1167 L2230,1164 L2227,1162 L2223,1160 L2220,1158 L2216,1157 L2155,1138 L2152,1137 L2148,1136 L2143,1136 L1887,1135 L1883,1135 L1879,1135 L1875,1136 L1872,1137 L1868,1139 L1865,1141 L1862,1143 L1859,1145 L1856,1148 L1729,1292 L1726,1295 L1724,1298 L1723,1302 L1721,1305 L1720,1309 L1719,1313 L1719,1316 L1719,1320 L1719,1324 L1720,1328 L1721,1331 L1722,1335 L1790,1490 L1792,1494 L1794,1497 L1797,1501 L1800,1503 L1803,1506 L1806,1508 L1810,1510 L1813,1512 L1817,1513 L1821,1514 L1825,1514 L1829,1514 L2206,1494 L2210,1494 L2214,1493 L2218,1492 L2222,1490 L2225,1488 L2229,1486 L2232,1483 L2234,1480 L2237,1477 L2239,1474 L2241,1470 L2242,1466 L2243,1462 L2244,1458 L2244,1454Z" fill="url(#dg50)"/><path d="M217,1881 L221,1881 L225,1880 L229,1879 L232,1878 L236,1876 L239,1874 L242,1872 L245,1869 L248,1866 L250,1863 L252,1860 L254,1856 L255,1852 L256,1849 L257,1845 L287,1516 L287,1512 L287,1508 L286,1504 L285,1501 L284,1497 L282,1493 L280,1490 L278,1487 L276,1484 L273,1482 L270,1479 L266,1477 L263,1475 L259,1474 L256,1473 L252,1472 L248,1472 L244,1472 L240,1473 L237,1473 L233,1475 L230,1476 L-120,1645 L-124,1647 L-127,1650 L-130,1652 L-133,1655 L-136,1658 L-138,1662 L-140,1665 L-141,1669 L-142,1673 L-143,1677 L-143,1681 L-143,1841 L-143,1845 L-142,1849 L-141,1853 L-140,1856 L-138,1860 L-136,1863 L-134,1866 L-131,1869 L-128,1872 L-125,1874 L-122,1876 L-118,1878 L-115,1879 L-111,1880 L-107,1881 L-103,1881Z" fill="url(#dg51)"/><path d="M421,1452 L417,1450 L413,1449 L409,1447 L405,1447 L401,1446 L397,1446 L393,1447 L389,1448 L331,1465 L327,1466 L324,1468 L320,1470 L317,1472 L314,1475 L311,1478 L309,1481 L307,1484 L305,1488 L304,1492 L303,1495 L302,1499 L272,1837 L271,1841 L272,1845 L272,1849 L273,1853 L274,1856 L276,1860 L278,1863 L281,1866 L283,1869 L286,1872 L289,1874 L293,1876 L296,1878 L300,1879 L304,1880 L307,1881 L311,1881 L567,1881 L571,1881 L575,1880 L579,1879 L582,1878 L586,1876 L589,1875 L592,1872 L595,1870 L598,1867 L600,1864 L602,1861 L604,1857 L605,1854 L606,1850 L607,1846 L611,1819 L611,1815 L611,1810 L610,1806 L609,1802 L526,1528 L525,1524 L523,1520 L520,1517 L518,1513 L515,1510 L512,1508 L508,1505Z" fill="url(#dg52)"/><path d="M660,1450 L657,1448 L654,1446 L650,1444 L646,1443 L642,1442 L638,1442 L634,1442 L630,1443 L626,1443 L622,1445 L618,1446 L615,1448 L612,1451 L557,1494 L554,1497 L551,1500 L549,1503 L547,1506 L545,1510 L543,1514 L542,1518 L542,1521 L542,1525 L542,1529 L542,1533 L543,1537 L599,1719 L600,1723 L602,1727 L604,1730 L606,1733 L609,1736 L612,1739 L615,1741 L619,1743 L622,1745 L626,1746 L630,1747 L634,1748 L638,1748 L642,1747 L646,1747 L650,1746 L653,1744 L657,1742 L660,1740 L663,1738 L666,1735 L669,1732 L778,1588 L780,1584 L782,1581 L783,1577 L784,1574 L785,1570 L786,1566 L786,1562 L785,1558 L785,1554 L783,1550 L782,1547 L780,1543 L778,1540 L775,1537 L773,1534 L770,1532Z" fill="url(#dg53)"/><path d="M622,1836 L622,1840 L622,1844 L623,1848 L624,1852 L625,1855 L626,1859 L628,1863 L631,1866 L633,1869 L636,1872 L639,1874 L643,1876 L646,1878 L650,1879 L654,1880 L658,1881 L662,1881 L927,1881 L931,1881 L935,1880 L939,1879 L942,1878 L946,1876 L949,1874 L952,1872 L955,1870 L958,1867 L960,1864 L962,1860 L964,1857 L965,1853 L966,1850 L967,1846 L967,1842 L967,1838 L949,1587 L948,1583 L947,1579 L946,1575 L944,1572 L942,1568 L940,1565 L937,1562 L934,1559 L931,1557 L928,1555 L908,1544 L904,1542 L900,1541 L896,1540 L892,1539 L888,1539 L884,1539 L881,1540 L877,1541 L828,1556 L824,1558 L820,1560 L817,1562 L814,1564 L811,1567 L808,1570 L632,1804 L630,1808 L628,1811 L626,1815 L625,1819 L624,1823Z" fill="url(#dg54)"/><path d="M1369,1709 L1369,1704 L1369,1700 L1368,1696 L1367,1693 L1366,1689 L1364,1685 L1362,1682 L1359,1679 L1356,1676 L1353,1673 L1350,1671 L1099,1514 L1095,1512 L1092,1511 L1088,1510 L1085,1509 L1081,1508 L1077,1508 L1073,1508 L1070,1509 L1066,1510 L1062,1511 L1059,1513 L984,1552 L981,1554 L978,1557 L975,1559 L972,1562 L970,1565 L968,1568 L966,1572 L965,1575 L964,1579 L963,1583 L963,1587 L963,1591 L982,1844 L982,1848 L983,1852 L984,1856 L986,1859 L988,1863 L990,1866 L993,1869 L996,1872 L999,1874 L1002,1876 L1006,1878 L1010,1879 L1014,1880 L1018,1881 L1022,1881 L1316,1881 L1320,1881 L1324,1880 L1328,1879 L1331,1878 L1335,1876 L1338,1874 L1342,1872 L1344,1869 L1347,1866 L1349,1863 L1351,1860 L1353,1856 L1354,1852 L1355,1849 L1356,1845Z" fill="url(#dg55)"/><path d="M1371,1837 L1371,1841 L1371,1845 L1371,1849 L1372,1853 L1374,1856 L1375,1860 L1377,1863 L1380,1866 L1382,1869 L1385,1872 L1388,1874 L1392,1876 L1395,1878 L1399,1879 L1403,1880 L1407,1881 L1411,1881 L1776,1881 L1780,1881 L1784,1880 L1788,1879 L1792,1878 L1795,1876 L1799,1874 L1802,1872 L1805,1869 L1807,1866 L1810,1863 L1812,1859 L1813,1855 L1814,1852 L1815,1848 L1816,1844 L1816,1840 L1816,1836 L1783,1592 L1782,1588 L1781,1584 L1780,1581 L1778,1577 L1776,1574 L1774,1571 L1771,1568 L1768,1566 L1765,1563 L1762,1561 L1758,1560 L1755,1559 L1751,1558 L1747,1557 L1744,1557 L1740,1557 L1494,1579 L1490,1579 L1487,1580 L1483,1581 L1480,1583 L1476,1585 L1473,1587 L1470,1589 L1468,1592 L1394,1673 L1392,1676 L1390,1679 L1388,1682 L1386,1686 L1385,1689 L1384,1693 L1384,1696Z" fill="url(#dg56)"/><path d="M1832,1528 L1828,1528 L1825,1529 L1821,1530 L1817,1532 L1814,1534 L1811,1536 L1808,1538 L1805,1541 L1802,1544 L1800,1547 L1798,1551 L1797,1554 L1796,1558 L1795,1562 L1794,1566 L1794,1569 L1795,1573 L1831,1846 L1832,1850 L1833,1854 L1834,1857 L1836,1861 L1838,1864 L1840,1867 L1843,1870 L1846,1872 L1849,1875 L1852,1876 L1856,1878 L1859,1879 L1863,1880 L1867,1881 L1871,1881 L2204,1881 L2208,1881 L2212,1880 L2216,1879 L2219,1878 L2223,1876 L2226,1874 L2229,1872 L2232,1869 L2235,1866 L2237,1863 L2239,1860 L2241,1856 L2242,1853 L2243,1849 L2244,1845 L2244,1841 L2244,1549 L2244,1545 L2243,1541 L2242,1537 L2241,1534 L2240,1530 L2238,1527 L2235,1524 L2233,1521 L2230,1518 L2227,1516 L2224,1514 L2220,1512 L2217,1511 L2213,1510 L2210,1509 L2206,1509 L2202,1509Z" fill="url(#dg57)"/><path d="M704,1301 L700,1300 L696,1299 L692,1299 L688,1299 L684,1300 L680,1300 L676,1302 L672,1303 L669,1305 L666,1308 L663,1310 L660,1313 L658,1317 L656,1320 L654,1324 L652,1327 L651,1331 L651,1335 L645,1397 L645,1401 L645,1405 L646,1409 L647,1413 L648,1417 L650,1421 L652,1424 L655,1427 L658,1430 L661,1433 L796,1534 L800,1536 L803,1538 L806,1540 L810,1541 L814,1542 L818,1542 L821,1542 L825,1542 L829,1541 L833,1540 L855,1533 L858,1532 L862,1530 L865,1528 L868,1526 L871,1523 L874,1520 L876,1517 L878,1514 L880,1510 L881,1506 L882,1503 L882,1499 L883,1495 L882,1491 L871,1382 L870,1378 L869,1375 L868,1371 L866,1368 L864,1364 L862,1361 L860,1358 L857,1356 L854,1353 L851,1351 L847,1350 L844,1348Z" fill="url(#dg58)"/><path d="M1359,1110 L1356,1113 L1354,1116 L1352,1119 L1350,1123 L1349,1126 L1347,1130 L1347,1134 L1346,1138 L1346,1141 L1347,1145 L1347,1149 L1348,1153 L1350,1156 L1352,1160 L1354,1163 L1356,1166 L1359,1169 L1362,1171 L1365,1174 L1418,1208 L1422,1210 L1425,1211 L1429,1212 L1433,1213 L1437,1214 L1441,1214 L1445,1214 L1449,1213 L1453,1212 L1456,1210 L1460,1208 L1463,1206 L1466,1204 L1469,1201 L1472,1198 L1474,1195 L1476,1191 L1477,1187 L1478,1184 L1479,1180 L1480,1176 L1480,1172 L1479,1168 L1478,1164 L1477,1160 L1455,1098 L1453,1094 L1451,1091 L1449,1088 L1447,1085 L1444,1082 L1441,1079 L1438,1077 L1434,1075 L1430,1074 L1427,1073 L1423,1072 L1419,1072 L1415,1072 L1411,1072 L1407,1073 L1403,1074 L1400,1076 L1396,1077 L1393,1080 L1390,1082Z" fill="url(#dg59)"/><path d="M175,0 L215,45 L250,60" fill="none" stroke="#505050" stroke-width="11" stroke-linecap="round" stroke-linejoin="round"/><path d="M500,0 L550,50 L600,150 L595,210" fill="none" stroke="#626262" stroke-width="9" stroke-linecap="round" stroke-linejoin="round"/><path d="M600,150 L800,165 L900,175" fill="none" stroke="#626262" stroke-width="9" stroke-linecap="round" stroke-linejoin="round"/><path d="M900,175 L925,300 L950,350" fill="none" stroke="#626262" stroke-width="9" stroke-linecap="round" stroke-linejoin="round"/><path d="M595,210 L575,325 L580,425" fill="none" stroke="#626262" stroke-width="9" stroke-linecap="round" stroke-linejoin="round"/><path d="M10,285 L50,320 L150,425 L250,500" fill="none" stroke="#626262" stroke-width="9" stroke-linecap="round" stroke-linejoin="round"/><path d="M250,325 L300,400 L360,480 L450,530 L525,600 L625,700" fill="none" stroke="#626262" stroke-width="9" stroke-linecap="round" stroke-linejoin="round"/><path d="M580,425 L700,450 L775,475" fill="none" stroke="#626262" stroke-width="9" stroke-linecap="round" stroke-linejoin="round"/><path d="M625,700 L750,675 L825,600" fill="none" stroke="#626262" stroke-width="9" stroke-linecap="round" stroke-linejoin="round"/><path d="M825,600 L775,475" fill="none" stroke="#626262" stroke-width="9" stroke-linecap="round" stroke-linejoin="round"/><path d="M775,475 L900,450 L950,425 L1050,350" fill="none" stroke="#626262" stroke-width="9" stroke-linecap="round" stroke-linejoin="round"/><path d="M625,700 L640,800 L615,868" fill="none" stroke="#626262" stroke-width="9" stroke-linecap="round" stroke-linejoin="round"/><path d="M0,670 L150,725 L175,868" fill="none" stroke="#626262" stroke-width="9" stroke-linecap="round" stroke-linejoin="round"/><path d="M825,600 L900,690 L950,750 L1050,800" fill="none" stroke="#626262" stroke-width="9" stroke-linecap="round" stroke-linejoin="round"/><path d="M1575,25 L1600,100 L1650,125" fill="none" stroke="#626262" stroke-width="9" stroke-linecap="round" stroke-linejoin="round"/><path d="M1050,320 L1225,310 L1275,325" fill="none" stroke="#626262" stroke-width="9" stroke-linecap="round" stroke-linejoin="round"/><path d="M1550,280 L1625,350 L1700,400 L1825,350" fill="none" stroke="#626262" stroke-width="9" stroke-linecap="round" stroke-linejoin="round"/><path d="M1825,350 L1850,275" fill="none" stroke="#626262" stroke-width="9" stroke-linecap="round" stroke-linejoin="round"/><path d="M1825,350 L1875,450 L1900,525 L1925,550" fill="none" stroke="#626262" stroke-width="9" stroke-linecap="round" stroke-linejoin="round"/><path d="M1925,550 L2100,550" fill="none" stroke="#626262" stroke-width="9" stroke-linecap="round" stroke-linejoin="round"/><path d="M1700,400 L1700,500 L1675,600 L1625,690" fill="none" stroke="#626262" stroke-width="9" stroke-linecap="round" stroke-linejoin="round"/><path d="M1625,690 L1525,725 L1500,800" fill="none" stroke="#626262" stroke-width="9" stroke-linecap="round" stroke-linejoin="round"/><path d="M1625,690 L1700,750 L1800,800 L1900,825" fill="none" stroke="#626262" stroke-width="9" stroke-linecap="round" stroke-linejoin="round"/><path d="M1290,460 L1400,525 L1450,600" fill="none" stroke="#626262" stroke-width="9" stroke-linecap="round" stroke-linejoin="round"/><path d="M1050,550 L1150,650 L1250,700" fill="none" stroke="#626262" stroke-width="9" stroke-linecap="round" stroke-linejoin="round"/><path d="M300,1009 L310,1084 L425,1189" fill="none" stroke="#626262" stroke-width="9" stroke-linecap="round" stroke-linejoin="round"/><path d="M450,894 L590,889 L640,1044 L625,1144 L630,1229" fill="none" stroke="#626262" stroke-width="9" stroke-linecap="round" stroke-linejoin="round"/><path d="M640,1044 L750,1059 L900,1034" fill="none" stroke="#626262" stroke-width="9" stroke-linecap="round" stroke-linejoin="round"/><path d="M900,1034 L950,1094 L1050,1219" fill="none" stroke="#626262" stroke-width="9" stroke-linecap="round" stroke-linejoin="round"/><path d="M440,1219 L630,1229" fill="none" stroke="#626262" stroke-width="9" stroke-linecap="round" stroke-linejoin="round"/><path d="M630,1229 L660,1289 L775,1304 L875,1394 L900,1419" fill="none" stroke="#626262" stroke-width="9" stroke-linecap="round" stroke-linejoin="round"/><path d="M660,1289 L640,1369 L625,1419 L750,1509" fill="none" stroke="#626262" stroke-width="9" stroke-linecap="round" stroke-linejoin="round"/><path d="M0,1239 L175,1254 L210,1319 L250,1419 L300,1459" fill="none" stroke="#626262" stroke-width="9" stroke-linecap="round" stroke-linejoin="round"/><path d="M300,1459 L500,1479 L550,1494" fill="none" stroke="#626262" stroke-width="9" stroke-linecap="round" stroke-linejoin="round"/><path d="M300,1459 L285,1569 L290,1644" fill="none" stroke="#626262" stroke-width="9" stroke-linecap="round" stroke-linejoin="round"/><path d="M0,1569 L75,1544 L125,1519" fill="none" stroke="#626262" stroke-width="9" stroke-linecap="round" stroke-linejoin="round"/><path d="M625,1419 L550,1494 L540,1619" fill="none" stroke="#626262" stroke-width="9" stroke-linecap="round" stroke-linejoin="round"/><path d="M750,1509 L925,1569 L975,1669" fill="none" stroke="#626262" stroke-width="9" stroke-linecap="round" stroke-linejoin="round"/><path d="M1440,869 L1450,1004" fill="none" stroke="#626262" stroke-width="9" stroke-linecap="round" stroke-linejoin="round"/><path d="M1050,1219 L1080,1224 L1175,1149 L1215,1099" fill="none" stroke="#626262" stroke-width="9" stroke-linecap="round" stroke-linejoin="round"/><path d="M1350,1124 L1400,1219 L1525,1269" fill="none" stroke="#626262" stroke-width="9" stroke-linecap="round" stroke-linejoin="round"/><path d="M1350,1124 L1450,1004" fill="none" stroke="#626262" stroke-width="9" stroke-linecap="round" stroke-linejoin="round"/><path d="M1525,1269 L1575,1299 L1715,1324" fill="none" stroke="#505050" stroke-width="11" stroke-linecap="round" stroke-linejoin="round"/><path d="M1525,1269 L1540,1344 L1500,1444 L1470,1594" fill="none" stroke="#626262" stroke-width="9" stroke-linecap="round" stroke-linejoin="round"/><path d="M1715,1324 L1760,1444 L1790,1594" fill="none" stroke="#626262" stroke-width="9" stroke-linecap="round" stroke-linejoin="round"/><path d="M1715,1324 L1775,1229 L1825,1169 L1850,1109" fill="none" stroke="#626262" stroke-width="9" stroke-linecap="round" stroke-linejoin="round"/><path d="M1850,1109 L1925,1129 L2050,1129" fill="none" stroke="#505050" stroke-width="11" stroke-linecap="round" stroke-linejoin="round"/><path d="M1850,1109 L1875,919 L1900,894" fill="none" stroke="#626262" stroke-width="9" stroke-linecap="round" stroke-linejoin="round"/><path d="M1925,899 L2000,994 L2050,1119" fill="none" stroke="#626262" stroke-width="9" stroke-linecap="round" stroke-linejoin="round"/><path d="M1080,1224 L1080,1369 L1070,1469" fill="none" stroke="#626262" stroke-width="9" stroke-linecap="round" stroke-linejoin="round"/><path d="M1070,1484 L1150,1534 L1225,1589 L1325,1644 L1375,1719" fill="none" stroke="#626262" stroke-width="9" stroke-linecap="round" stroke-linejoin="round"/></g>
</svg>
<defs><filter id="tex" x="0" y="0" width="100%" height="100%"><feTurbulence type="fractalNoise" baseFrequency="0.012 0.09" numOctaves="2" seed="7"/><feColorMatrix type="matrix" values="0 0 0 0 0  0 0 0 0 0  0 0 0 0 0  1.2 0 0 0 -0.55"/></filter><filter id="tex2" x="0" y="0" width="100%" height="100%"><feTurbulence type="fractalNoise" baseFrequency="0.014 0.08" numOctaves="2" seed="3"/><feColorMatrix type="matrix" values="0 0 0 0 1  0 0 0 0 1  0 0 0 0 1  1.2 0 0 0 -0.62"/></filter></defs>
<rect x="26" y="1056" width="1168" height="958" filter="url(#tex)" opacity="0.22"/>
<rect x="26" y="1056" width="1168" height="958" filter="url(#tex2)" opacity="0.16"/>
<rect x="1234" y="1056" width="1165" height="958" filter="url(#tex)" opacity="0.22"/>
<rect x="1234" y="1056" width="1165" height="958" filter="url(#tex2)" opacity="0.16"/>
<rect x="26" y="1053" width="1168" height="3" fill="#a0a0a0"/>
<rect x="26" y="2014" width="1168" height="4" fill="#b8b8b8"/>
<rect x="22" y="1053" width="4" height="965" fill="#d0d0d0"/>
<rect x="1190" y="1053" width="4" height="965" fill="#a8a8a8"/>
<rect x="1234" y="1053" width="1165" height="3" fill="#b0b0b0"/>
<rect x="1234" y="2014" width="1165" height="4" fill="#c4c4c4"/>
<rect x="1234" y="1053" width="4" height="965" fill="#b4b4b4"/>
<rect x="2395" y="1053" width="4" height="965" fill="#aaaaaa"/>
<text x="86" y="1193" font-family="'Liberation Serif','Times New Roman',serif" font-weight="bold" font-size="101" fill="#ffff00">(c)</text>
<text x="603" y="1192" font-family="'Liberation Serif','Times New Roman',serif" font-weight="bold" font-size="101" fill="#ffff00">Without GO</text>
<text x="1311" y="1193" font-family="'Liberation Serif','Times New Roman',serif" font-weight="bold" font-size="101" fill="#ffff00">(d)</text>
<text x="1920" y="1192" font-family="'Liberation Serif','Times New Roman',serif" font-weight="bold" font-size="101" fill="#ffff00">With GO</text>
<polygon points="481.8,1555.7 537.2,1573.7 532.5,1588.0 585.0,1582.0 546.2,1546.2 541.5,1560.4 486.2,1542.3" fill="#ffff00"/>
<polygon points="714.5,1616.4 660.4,1596.2 665.7,1582.2 613.0,1586.0 650.3,1623.4 655.5,1609.4 709.5,1629.6" fill="#ffff00"/>
<text x="34" y="2002" font-family="'Liberation Sans',Arial,sans-serif" font-size="38" fill="#c4c4c4" textLength="576" lengthAdjust="spacingAndGlyphs">SU8010 5.0kV 6.4mm x70.0k SE(UL)</text>
<rect x="845.0" y="1944" width="4" height="22" fill="#d8d8d8"/>
<rect x="877.0" y="1947" width="4" height="19" fill="#d8d8d8"/>
<rect x="909.0" y="1947" width="4" height="19" fill="#d8d8d8"/>
<rect x="941.0" y="1947" width="4" height="19" fill="#d8d8d8"/>
<rect x="973.0" y="1947" width="4" height="19" fill="#d8d8d8"/>
<rect x="1005.0" y="1944" width="4" height="22" fill="#d8d8d8"/>
<rect x="1037.0" y="1947" width="4" height="19" fill="#d8d8d8"/>
<rect x="1069.0" y="1947" width="4" height="19" fill="#d8d8d8"/>
<rect x="1101.0" y="1947" width="4" height="19" fill="#d8d8d8"/>
<rect x="1133.0" y="1947" width="4" height="19" fill="#d8d8d8"/>
<rect x="1165.0" y="1944" width="4" height="22" fill="#d8d8d8"/>
<text x="1090" y="2001" font-family="'Liberation Sans',Arial,sans-serif" font-size="35" fill="#d0d0d0" text-anchor="middle">500nm</text>
<text x="1245" y="2002" font-family="'Liberation Sans',Arial,sans-serif" font-size="38" fill="#c4c4c4" textLength="574" lengthAdjust="spacingAndGlyphs">SU8010 5.0kV 6.0mm x70.0k SE(UL)</text>
<rect x="2051.0" y="1944" width="4" height="22" fill="#d8d8d8"/>
<rect x="2083.0" y="1947" width="4" height="19" fill="#d8d8d8"/>
<rect x="2115.0" y="1947" width="4" height="19" fill="#d8d8d8"/>
<rect x="2147.0" y="1947" width="4" height="19" fill="#d8d8d8"/>
<rect x="2179.0" y="1947" width="4" height="19" fill="#d8d8d8"/>
<rect x="2211.0" y="1944" width="4" height="22" fill="#d8d8d8"/>
<rect x="2243.0" y="1947" width="4" height="19" fill="#d8d8d8"/>
<rect x="2275.0" y="1947" width="4" height="19" fill="#d8d8d8"/>
<rect x="2307.0" y="1947" width="4" height="19" fill="#d8d8d8"/>
<rect x="2339.0" y="1947" width="4" height="19" fill="#d8d8d8"/>
<rect x="2371.0" y="1944" width="4" height="22" fill="#d8d8d8"/>
<text x="2296" y="2001" font-family="'Liberation Sans',Arial,sans-serif" font-size="35" fill="#d0d0d0" text-anchor="middle">500nm</text>
</svg></body></html>
